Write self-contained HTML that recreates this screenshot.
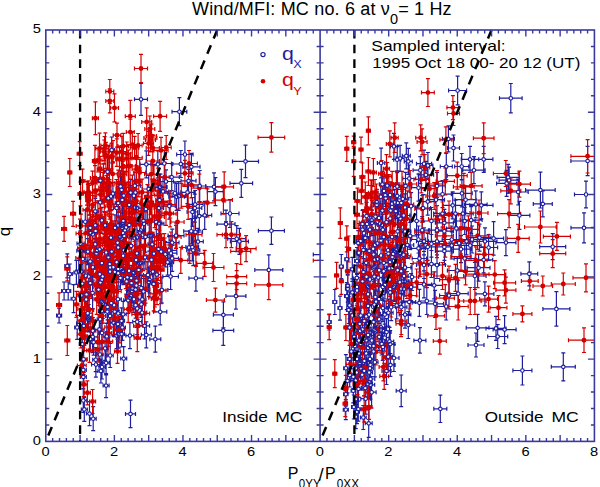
<!DOCTYPE html><html><head><meta charset="utf-8"><style>html,body{margin:0;padding:0;background:#fff;overflow:hidden}svg{display:block}</style></head><body><svg width="600" height="487" viewBox="0 0 600 487"><rect width="600" height="487" fill="#fff"/><defs><clipPath id="cl"><rect x="45.8" y="30.0" width="274.3" height="411.4"/></clipPath><clipPath id="cr"><rect x="320.1" y="30.0" width="274.3" height="411.4"/></clipPath></defs><g clip-path="url(#cl)"><path d="M141.0 83.3V115.3M139.0 83.3h4.0M139.0 115.3h4.0M134.5 99.3H147.5M134.5 97.3v4.0M147.5 97.3v4.0M179.4 97.7V125.7M177.4 97.7h4.0M177.4 125.7h4.0M172.0 111.7H186.8M172.0 109.7v4.0M186.8 109.7v4.0M107.6 157.7V185.7M105.6 157.7h4.0M105.6 185.7h4.0M104.6 171.7H110.6M104.6 169.7v4.0M110.6 169.7v4.0M110.9 183.4V209.4M108.9 183.4h4.0M108.9 209.4h4.0M107.9 196.4H113.9M107.9 194.4v4.0M113.9 194.4v4.0M111.7 137.0V163.0M109.7 137.0h4.0M109.7 163.0h4.0M108.7 150.0H114.7M108.7 148.0v4.0M114.7 148.0v4.0M184.9 141.0V168.0M182.9 141.0h4.0M182.9 168.0h4.0M176.7 154.5H193.1M176.7 152.5v4.0M193.1 152.5v4.0M146.3 150.8V177.8M144.3 150.8h4.0M144.3 177.8h4.0M140.0 164.3H152.6M140.0 162.3v4.0M152.6 162.3v4.0M164.3 150.0V177.0M162.3 150.0h4.0M162.3 177.0h4.0M157.1 163.5H171.5M157.1 161.5v4.0M171.5 161.5v4.0M180.8 150.5V177.5M178.8 150.5h4.0M178.8 177.5h4.0M172.8 164.0H188.8M172.8 162.0v4.0M188.8 162.0v4.0M191.4 153.3V180.3M189.4 153.3h4.0M189.4 180.3h4.0M182.8 166.8H200.0M182.8 164.8v4.0M200.0 164.8v4.0M171.7 163.6V190.6M169.7 163.6h4.0M169.7 190.6h4.0M164.1 177.1H179.3M164.1 175.1v4.0M179.3 175.1v4.0M159.4 173.8V200.8M157.4 173.8h4.0M157.4 200.8h4.0M152.4 187.3H166.4M152.4 185.3v4.0M166.4 185.3v4.0M148.7 175.5V202.5M146.7 175.5h4.0M146.7 202.5h4.0M142.3 189.0H155.1M142.3 187.0v4.0M155.1 187.0v4.0M134.8 172.2V199.2M132.8 172.2h4.0M132.8 199.2h4.0M129.1 185.7H140.5M129.1 183.7v4.0M140.5 183.7v4.0M176.6 183.3V210.3M174.6 183.3h4.0M174.6 210.3h4.0M168.8 196.8H184.4M168.8 194.8v4.0M184.4 194.8v4.0M157.8 150.8V177.8M155.8 150.8h4.0M155.8 177.8h4.0M150.9 164.3H164.7M150.9 162.3v4.0M164.7 162.3v4.0M245.5 145.1V177.7M243.5 145.1h4.0M243.5 177.7h4.0M232.5 161.4H258.5M232.5 159.4v4.0M258.5 159.4v4.0M241.3 169.3V197.3M239.3 169.3h4.0M239.3 197.3h4.0M230.0 183.3H252.6M230.0 181.3v4.0M252.6 181.3v4.0M214.0 172.8V200.8M212.0 172.8h4.0M212.0 200.8h4.0M206.0 186.8H222.0M206.0 184.8v4.0M222.0 184.8v4.0M215.4 177.6V205.6M213.4 177.6h4.0M213.4 205.6h4.0M207.4 191.6H223.4M207.4 189.6v4.0M223.4 189.6v4.0M194.8 194.1V222.1M192.8 194.1h4.0M192.8 222.1h4.0M187.8 208.1H201.8M187.8 206.1v4.0M201.8 206.1v4.0M199.3 202.1V230.1M197.3 202.1h4.0M197.3 230.1h4.0M192.3 216.1H206.3M192.3 214.1v4.0M206.3 214.1v4.0M204.7 201.3V229.3M202.7 201.3h4.0M202.7 229.3h4.0M197.7 215.3H211.7M197.7 213.3v4.0M211.7 213.3v4.0M230.0 199.5V227.5M228.0 199.5h4.0M228.0 227.5h4.0M221.0 213.5H239.0M221.0 211.5v4.0M239.0 211.5v4.0M226.0 210.1V238.1M224.0 210.1h4.0M224.0 238.1h4.0M217.0 224.1H235.0M217.0 222.1v4.0M235.0 222.1v4.0M271.4 217.0V244.4M269.4 217.0h4.0M269.4 244.4h4.0M258.4 230.7H284.4M258.4 228.7v4.0M284.4 228.7v4.0M268.8 254.9V284.9M266.8 254.9h4.0M266.8 284.9h4.0M254.8 269.9H282.8M254.8 267.9v4.0M282.8 267.9v4.0M195.9 265.2V291.2M193.9 265.2h4.0M193.9 291.2h4.0M188.9 278.2H202.9M188.9 276.2v4.0M202.9 276.2v4.0M235.9 283.1V309.1M233.9 283.1h4.0M233.9 309.1h4.0M225.9 296.1H245.9M225.9 294.1v4.0M245.9 294.1v4.0M223.4 301.8V327.8M221.4 301.8h4.0M221.4 327.8h4.0M213.4 314.8H233.4M213.4 312.8v4.0M233.4 312.8v4.0M236.7 225.7V251.7M234.7 225.7h4.0M234.7 251.7h4.0M227.7 238.7H245.7M227.7 236.7v4.0M245.7 236.7v4.0M239.4 228.4V254.4M237.4 228.4h4.0M237.4 254.4h4.0M230.4 241.4H248.4M230.4 239.4v4.0M248.4 239.4v4.0M223.3 315.4V345.4M221.3 315.4h4.0M221.3 345.4h4.0M212.9 330.4H233.7M212.9 328.4v4.0M233.7 328.4v4.0M189.0 234.5V260.5M187.0 234.5h4.0M187.0 260.5h4.0M182.0 247.5H196.0M182.0 245.5v4.0M196.0 245.5v4.0M169.3 193.1V219.1M167.3 193.1h4.0M167.3 219.1h4.0M163.3 206.1H175.3M163.3 204.1v4.0M175.3 204.1v4.0M170.9 240.2V266.2M168.9 240.2h4.0M168.9 266.2h4.0M164.9 253.2H176.9M164.9 251.2v4.0M176.9 251.2v4.0M167.6 249.2V275.2M165.6 249.2h4.0M165.6 275.2h4.0M161.6 262.2H173.6M161.6 260.2v4.0M173.6 260.2v4.0M67.3 253.9V277.9M65.3 253.9h4.0M65.3 277.9h4.0M64.8 265.9H69.8M64.8 263.9v4.0M69.8 263.9v4.0M100.2 189.3V215.3M98.2 189.3h4.0M98.2 215.3h4.0M97.2 202.3H103.2M97.2 200.3v4.0M103.2 200.3v4.0M108.4 185.2V211.2M106.4 185.2h4.0M106.4 211.2h4.0M105.4 198.2H111.4M105.4 196.2v4.0M111.4 196.2v4.0M118.2 190.1V216.1M116.2 190.1h4.0M116.2 216.1h4.0M115.2 203.1H121.2M115.2 201.1v4.0M121.2 201.1v4.0M116.6 195.1V221.1M114.6 195.1h4.0M114.6 221.1h4.0M113.6 208.1H119.6M113.6 206.1v4.0M119.6 206.1v4.0M122.4 186.9V212.9M120.4 186.9h4.0M120.4 212.9h4.0M119.4 199.9H125.4M119.4 197.9v4.0M125.4 197.9v4.0M95.3 198.3V224.3M93.3 198.3h4.0M93.3 224.3h4.0M92.3 211.3H98.3M92.3 209.3v4.0M98.3 209.3v4.0M101.8 207.4V233.4M99.8 207.4h4.0M99.8 233.4h4.0M98.8 220.4H104.8M98.8 218.4v4.0M104.8 218.4v4.0M90.3 214.8V240.8M88.3 214.8h4.0M88.3 240.8h4.0M87.3 227.8H93.3M87.3 225.8v4.0M93.3 225.8v4.0M95.3 212.3V238.3M93.3 212.3h4.0M93.3 238.3h4.0M92.3 225.3H98.3M92.3 223.3v4.0M98.3 223.3v4.0M105.1 212.3V238.3M103.1 212.3h4.0M103.1 238.3h4.0M102.1 225.3H108.1M102.1 223.3v4.0M108.1 223.3v4.0M115.0 214.8V240.8M113.0 214.8h4.0M113.0 240.8h4.0M112.0 227.8H118.0M112.0 225.8v4.0M118.0 225.8v4.0M118.2 212.3V238.3M116.2 212.3h4.0M116.2 238.3h4.0M115.2 225.3H121.2M115.2 223.3v4.0M121.2 223.3v4.0M123.2 213.1V239.1M121.2 213.1h4.0M121.2 239.1h4.0M120.2 226.1H126.2M120.2 224.1v4.0M126.2 224.1v4.0M92.8 221.3V247.3M90.8 221.3h4.0M90.8 247.3h4.0M89.8 234.3H95.8M89.8 232.3v4.0M95.8 232.3v4.0M95.3 231.2V257.2M93.3 231.2h4.0M93.3 257.2h4.0M92.3 244.2H98.3M92.3 242.2v4.0M98.3 242.2v4.0M110.9 224.6V250.6M108.9 224.6h4.0M108.9 250.6h4.0M107.9 237.6H113.9M107.9 235.6v4.0M113.9 235.6v4.0M121.5 225.4V251.4M119.5 225.4h4.0M119.5 251.4h4.0M118.5 238.4H124.5M118.5 236.4v4.0M124.5 236.4v4.0M87.9 238.6V264.6M85.9 238.6h4.0M85.9 264.6h4.0M84.9 251.6H90.9M84.9 249.6v4.0M90.9 249.6v4.0M96.9 237.8V263.8M94.9 237.8h4.0M94.9 263.8h4.0M93.9 250.8H99.9M93.9 248.8v4.0M99.9 248.8v4.0M111.7 238.6V264.6M109.7 238.6h4.0M109.7 264.6h4.0M108.7 251.6H114.7M108.7 249.6v4.0M114.7 249.6v4.0M118.2 234.5V260.5M116.2 234.5h4.0M116.2 260.5h4.0M115.2 247.5H121.2M115.2 245.5v4.0M121.2 245.5v4.0M82.9 246.0V272.0M80.9 246.0h4.0M80.9 272.0h4.0M79.9 259.0H85.9M79.9 257.0v4.0M85.9 257.0v4.0M90.3 248.4V274.4M88.3 248.4h4.0M88.3 274.4h4.0M87.3 261.4H93.3M87.3 259.4v4.0M93.3 259.4v4.0M101.8 250.1V276.1M99.8 250.1h4.0M99.8 276.1h4.0M98.8 263.1H104.8M98.8 261.1v4.0M104.8 261.1v4.0M116.6 249.2V275.2M114.6 249.2h4.0M114.6 275.2h4.0M113.6 262.2H119.6M113.6 260.2v4.0M119.6 260.2v4.0M92.8 254.2V280.2M90.8 254.2h4.0M90.8 280.2h4.0M89.8 267.2H95.8M89.8 265.2v4.0M95.8 265.2v4.0M113.3 254.2V280.2M111.3 254.2h4.0M111.3 280.2h4.0M110.3 267.2H116.3M110.3 265.2v4.0M116.3 265.2v4.0M123.2 242.7V268.7M121.2 242.7h4.0M121.2 268.7h4.0M120.2 255.7H126.2M120.2 253.7v4.0M126.2 253.7v4.0M108.4 244.3V270.3M106.4 244.3h4.0M106.4 270.3h4.0M105.4 257.3H111.4M105.4 255.3v4.0M111.4 255.3v4.0M69.8 264.0V284.0M67.8 264.0h4.0M67.8 284.0h4.0M67.3 274.0H72.3M67.3 272.0v4.0M72.3 272.0v4.0M64.1 282.0V300.0M62.1 282.0h4.0M62.1 300.0h4.0M61.6 291.0H66.6M61.6 289.0v4.0M66.6 289.0v4.0M68.2 282.0V300.0M66.2 282.0h4.0M66.2 300.0h4.0M65.7 291.0H70.7M65.7 289.0v4.0M70.7 289.0v4.0M73.6 284.7V312.7M71.6 284.7h4.0M71.6 312.7h4.0M71.1 298.7H76.1M71.1 296.7v4.0M76.1 296.7v4.0M59.1 308.2V323.0M57.1 308.2h4.0M57.1 323.0h4.0M56.6 315.6H61.6M56.6 313.6v4.0M61.6 313.6v4.0M77.2 315.4V339.4M75.2 315.4h4.0M75.2 339.4h4.0M74.7 327.4H79.7M74.7 325.4v4.0M79.7 325.4v4.0M76.4 260.4V284.4M74.4 260.4h4.0M74.4 284.4h4.0M73.9 272.4H78.9M73.9 270.4v4.0M78.9 270.4v4.0M78.8 258.6V284.6M76.8 258.6h4.0M76.8 284.6h4.0M75.8 271.6H81.8M75.8 269.6v4.0M81.8 269.6v4.0M81.3 258.6V284.6M79.3 258.6h4.0M79.3 284.6h4.0M78.3 271.6H84.3M78.3 269.6v4.0M84.3 269.6v4.0M88.7 263.5V289.5M86.7 263.5h4.0M86.7 289.5h4.0M85.7 276.5H91.7M85.7 274.5v4.0M91.7 274.5v4.0M101.8 266.8V292.8M99.8 266.8h4.0M99.8 292.8h4.0M98.8 279.8H104.8M98.8 277.8v4.0M104.8 277.8v4.0M102.7 263.5V289.5M100.7 263.5h4.0M100.7 289.5h4.0M99.7 276.5H105.7M99.7 274.5v4.0M105.7 274.5v4.0M110.0 258.6V284.6M108.0 258.6h4.0M108.0 284.6h4.0M107.0 271.6H113.0M107.0 269.6v4.0M113.0 269.6v4.0M118.2 260.2V286.2M116.2 260.2h4.0M116.2 286.2h4.0M115.2 273.2H121.2M115.2 271.2v4.0M121.2 271.2v4.0M121.5 256.1V282.1M119.5 256.1h4.0M119.5 282.1h4.0M118.5 269.1H124.5M118.5 267.1v4.0M124.5 267.1v4.0M90.3 270.1V296.1M88.3 270.1h4.0M88.3 296.1h4.0M87.3 283.1H93.3M87.3 281.1v4.0M93.3 281.1v4.0M98.5 276.6V302.6M96.5 276.6h4.0M96.5 302.6h4.0M95.5 289.6H101.5M95.5 287.6v4.0M101.5 287.6v4.0M81.3 282.4V308.4M79.3 282.4h4.0M79.3 308.4h4.0M78.3 295.4H84.3M78.3 293.4v4.0M84.3 293.4v4.0M86.2 286.5V312.5M84.2 286.5h4.0M84.2 312.5h4.0M83.2 299.5H89.2M83.2 297.5v4.0M89.2 297.5v4.0M101.8 288.9V314.9M99.8 288.9h4.0M99.8 314.9h4.0M98.8 301.9H104.8M98.8 299.9v4.0M104.8 299.9v4.0M107.6 293.9V319.9M105.6 293.9h4.0M105.6 319.9h4.0M104.6 306.9H110.6M104.6 304.9v4.0M110.6 304.9v4.0M114.1 292.2V318.2M112.1 292.2h4.0M112.1 318.2h4.0M111.1 305.2H117.1M111.1 303.2v4.0M117.1 303.2v4.0M118.2 300.4V326.4M116.2 300.4h4.0M116.2 326.4h4.0M115.2 313.4H121.2M115.2 311.4v4.0M121.2 311.4v4.0M88.7 304.5V330.5M86.7 304.5h4.0M86.7 330.5h4.0M85.7 317.5H91.7M85.7 315.5v4.0M91.7 315.5v4.0M100.2 306.2V332.2M98.2 306.2h4.0M98.2 332.2h4.0M97.2 319.2H103.2M97.2 317.2v4.0M103.2 317.2v4.0M110.0 302.9V328.9M108.0 302.9h4.0M108.0 328.9h4.0M107.0 315.9H113.0M107.0 313.9v4.0M113.0 313.9v4.0M113.3 309.5V335.5M111.3 309.5h4.0M111.3 335.5h4.0M110.3 322.5H116.3M110.3 320.5v4.0M116.3 320.5v4.0M122.4 314.4V340.4M120.4 314.4h4.0M120.4 340.4h4.0M119.4 327.4H125.4M119.4 325.4v4.0M125.4 325.4v4.0M83.8 312.8V338.8M81.8 312.8h4.0M81.8 338.8h4.0M80.8 325.8H86.8M80.8 323.8v4.0M86.8 323.8v4.0M92.8 317.7V343.7M90.8 317.7h4.0M90.8 343.7h4.0M89.8 330.7H95.8M89.8 328.7v4.0M95.8 328.7v4.0M106.8 323.4V349.4M104.8 323.4h4.0M104.8 349.4h4.0M103.8 336.4H109.8M103.8 334.4v4.0M109.8 334.4v4.0M116.6 322.6V348.6M114.6 322.6h4.0M114.6 348.6h4.0M113.6 335.6H119.6M113.6 333.6v4.0M119.6 333.6v4.0M121.5 321.0V347.0M119.5 321.0h4.0M119.5 347.0h4.0M118.5 334.0H124.5M118.5 332.0v4.0M124.5 332.0v4.0M93.6 329.2V355.2M91.6 329.2h4.0M91.6 355.2h4.0M90.6 342.2H96.6M90.6 340.2v4.0M96.6 340.2v4.0M123.2 301.3V327.3M121.2 301.3h4.0M121.2 327.3h4.0M120.2 314.3H126.2M120.2 312.3v4.0M126.2 312.3v4.0M121.5 307.8V333.8M119.5 307.8h4.0M119.5 333.8h4.0M118.5 320.8H124.5M118.5 318.8v4.0M124.5 318.8v4.0M82.3 332.1V356.1M80.3 332.1h4.0M80.3 356.1h4.0M79.3 344.1H85.3M79.3 342.1v4.0M85.3 342.1v4.0M83.3 358.0V382.0M81.3 358.0h4.0M81.3 382.0h4.0M80.3 370.0H86.3M80.3 368.0v4.0M86.3 368.0v4.0M83.3 364.9V388.9M81.3 364.9h4.0M81.3 388.9h4.0M80.3 376.9H86.3M80.3 374.9v4.0M86.3 374.9v4.0M83.3 388.5V412.5M81.3 388.5h4.0M81.3 412.5h4.0M80.3 400.5H86.3M80.3 398.5v4.0M86.3 398.5v4.0M84.3 397.4V421.4M82.3 397.4h4.0M82.3 421.4h4.0M81.3 409.4H87.3M81.3 407.4v4.0M87.3 407.4v4.0M89.5 401.6V425.6M87.5 401.6h4.0M87.5 425.6h4.0M86.5 413.6H92.5M86.5 411.6v4.0M92.5 411.6v4.0M93.2 406.7V430.7M91.2 406.7h4.0M91.2 430.7h4.0M90.2 418.7H96.2M90.2 416.7v4.0M96.2 416.7v4.0M106.1 373.6V397.6M104.1 373.6h4.0M104.1 397.6h4.0M103.1 385.6H109.1M103.1 383.6v4.0M109.1 383.6v4.0M100.9 359.0V383.0M98.9 359.0h4.0M98.9 383.0h4.0M97.9 371.0H103.9M97.9 369.0v4.0M103.9 369.0v4.0M102.0 355.0V379.0M100.0 355.0h4.0M100.0 379.0h4.0M99.0 367.0H105.0M99.0 365.0v4.0M105.0 365.0v4.0M95.7 347.7V371.7M93.7 347.7h4.0M93.7 371.7h4.0M92.7 359.7H98.7M92.7 357.7v4.0M98.7 357.7v4.0M99.9 342.5V366.5M97.9 342.5h4.0M97.9 366.5h4.0M96.9 354.5H102.9M96.9 352.5v4.0M102.9 352.5v4.0M106.1 350.8V374.8M104.1 350.8h4.0M104.1 374.8h4.0M103.1 362.8H109.1M103.1 360.8v4.0M109.1 360.8v4.0M110.2 343.5V367.5M108.2 343.5h4.0M108.2 367.5h4.0M107.2 355.5H113.2M107.2 353.5v4.0M113.2 353.5v4.0M105.1 336.3V360.3M103.1 336.3h4.0M103.1 360.3h4.0M102.1 348.3H108.1M102.1 346.3v4.0M108.1 346.3v4.0M123.7 346.6V370.6M121.7 346.6h4.0M121.7 370.6h4.0M120.7 358.6H126.7M120.7 356.6v4.0M126.7 356.6v4.0M170.6 263.5V289.5M168.6 263.5h4.0M168.6 289.5h4.0M162.8 276.5H178.4M162.8 274.5v4.0M178.4 274.5v4.0M161.9 277.0V303.0M159.9 277.0h4.0M159.9 303.0h4.0M155.9 290.0H167.9M155.9 288.0v4.0M167.9 288.0v4.0M160.2 298.8V324.8M158.2 298.8h4.0M158.2 324.8h4.0M153.6 311.8H166.8M153.6 309.8v4.0M166.8 309.8v4.0M129.9 322.6V348.6M127.9 322.6h4.0M127.9 348.6h4.0M125.9 335.6H133.9M125.9 333.6v4.0M133.9 333.6v4.0M137.2 308.7V334.7M135.2 308.7h4.0M135.2 334.7h4.0M132.7 321.7H141.7M132.7 319.7v4.0M141.7 319.7v4.0M144.6 312.8V338.8M142.6 312.8h4.0M142.6 338.8h4.0M139.6 325.8H149.6M139.6 323.8v4.0M149.6 323.8v4.0M146.3 321.8V347.8M144.3 321.8h4.0M144.3 347.8h4.0M141.3 334.8H151.3M141.3 332.8v4.0M151.3 332.8v4.0M155.3 326.2V352.2M153.3 326.2h4.0M153.3 352.2h4.0M149.8 339.2H160.8M149.8 337.2v4.0M160.8 337.2v4.0M123.3 258.6V284.6M121.3 258.6h4.0M121.3 284.6h4.0M118.8 271.6H127.8M118.8 269.6v4.0M127.8 269.6v4.0M129.0 257.7V283.7M127.0 257.7h4.0M127.0 283.7h4.0M124.5 270.7H133.5M124.5 268.7v4.0M133.5 268.7v4.0M133.1 260.2V286.2M131.1 260.2h4.0M131.1 286.2h4.0M128.6 273.2H137.6M128.6 271.2v4.0M137.6 271.2v4.0M127.4 264.3V290.3M125.4 264.3h4.0M125.4 290.3h4.0M122.9 277.3H131.9M122.9 275.3v4.0M131.9 275.3v4.0M126.6 268.4V294.4M124.6 268.4h4.0M124.6 294.4h4.0M122.1 281.4H131.1M122.1 279.4v4.0M131.1 279.4v4.0M131.5 270.1V296.1M129.5 270.1h4.0M129.5 296.1h4.0M127.0 283.1H136.0M127.0 281.1v4.0M136.0 281.1v4.0M136.4 272.5V298.5M134.4 272.5h4.0M134.4 298.5h4.0M131.9 285.5H140.9M131.9 283.5v4.0M140.9 283.5v4.0M135.6 276.6V302.6M133.6 276.6h4.0M133.6 302.6h4.0M131.1 289.6H140.1M131.1 287.6v4.0M140.1 287.6v4.0M141.3 275.0V301.0M139.3 275.0h4.0M139.3 301.0h4.0M136.8 288.0H145.8M136.8 286.0v4.0M145.8 286.0v4.0M147.9 261.9V287.9M145.9 261.9h4.0M145.9 287.9h4.0M143.4 274.9H152.4M143.4 272.9v4.0M152.4 272.9v4.0M152.8 258.6V284.6M150.8 258.6h4.0M150.8 284.6h4.0M148.3 271.6H157.3M148.3 269.6v4.0M157.3 269.6v4.0M149.6 266.8V292.8M147.6 266.8h4.0M147.6 292.8h4.0M145.1 279.8H154.1M145.1 277.8v4.0M154.1 277.8v4.0M153.7 270.9V296.9M151.7 270.9h4.0M151.7 296.9h4.0M149.2 283.9H158.2M149.2 281.9v4.0M158.2 281.9v4.0M128.2 287.3V313.3M126.2 287.3h4.0M126.2 313.3h4.0M123.7 300.3H132.7M123.7 298.3v4.0M132.7 298.3v4.0M135.6 292.2V318.2M133.6 292.2h4.0M133.6 318.2h4.0M131.1 305.2H140.1M131.1 303.2v4.0M140.1 303.2v4.0M141.3 291.4V317.4M139.3 291.4h4.0M139.3 317.4h4.0M136.8 304.4H145.8M136.8 302.4v4.0M145.8 302.4v4.0M137.2 295.5V321.5M135.2 295.5h4.0M135.2 321.5h4.0M132.7 308.5H141.7M132.7 306.5v4.0M141.7 306.5v4.0M142.2 299.6V325.6M140.2 299.6h4.0M140.2 325.6h4.0M137.7 312.6H146.7M137.7 310.6v4.0M146.7 310.6v4.0M129.9 284.8V310.8M127.9 284.8h4.0M127.9 310.8h4.0M125.4 297.8H134.4M125.4 295.8v4.0M134.4 295.8v4.0M130.5 400.2V427.6M128.5 400.2h4.0M128.5 427.6h4.0M125.5 413.9H135.5M125.5 411.9v4.0M135.5 411.9v4.0M329.8 240.6V268.6M327.8 240.6h4.0M327.8 268.6h4.0M313.3 254.6H346.3M313.3 252.6v4.0M346.3 252.6v4.0M100.4 167.0V194.1M98.4 167.0h4.0M98.4 194.1h4.0M97.6 180.6H103.2M97.6 178.6v4.0M103.2 178.6v4.0M112.9 182.4V204.8M110.9 182.4h4.0M110.9 204.8h4.0M109.6 193.6H116.2M109.6 191.6v4.0M116.2 191.6v4.0M145.9 195.3V223.0M143.9 195.3h4.0M143.9 223.0h4.0M141.3 209.1H150.4M141.3 207.1v4.0M150.4 207.1v4.0M159.6 185.8V214.4M157.6 185.8h4.0M157.6 214.4h4.0M155.8 200.1H163.5M155.8 198.1v4.0M163.5 198.1v4.0M158.9 196.3V219.9M156.9 196.3h4.0M156.9 219.9h4.0M154.1 208.1H163.6M154.1 206.1v4.0M163.6 206.1v4.0M136.9 193.0V223.3M134.9 193.0h4.0M134.9 223.3h4.0M132.5 208.1H141.2M132.5 206.1v4.0M141.2 206.1v4.0M130.7 179.6V205.6M128.7 179.6h4.0M128.7 205.6h4.0M127.1 192.6H134.2M127.1 190.6v4.0M134.2 190.6v4.0M123.7 180.9V210.3M121.7 180.9h4.0M121.7 210.3h4.0M119.6 195.6H127.8M119.6 193.6v4.0M127.8 193.6v4.0M129.2 193.0V216.6M127.2 193.0h4.0M127.2 216.6h4.0M124.8 204.8H133.6M124.8 202.8v4.0M133.6 202.8v4.0M120.6 170.8V202.0M118.6 170.8h4.0M118.6 202.0h4.0M116.4 186.4H124.8M116.4 184.4v4.0M124.8 184.4v4.0M135.5 179.9V205.1M133.5 179.9h4.0M133.5 205.1h4.0M131.4 192.5H139.6M131.4 190.5v4.0M139.6 190.5v4.0M121.6 176.5V203.1M119.6 176.5h4.0M119.6 203.1h4.0M117.6 189.8H125.6M117.6 187.8v4.0M125.6 187.8v4.0M133.9 180.8V210.5M131.9 180.8h4.0M131.9 210.5h4.0M131.0 195.7H136.7M131.0 193.7v4.0M136.7 193.7v4.0M135.0 192.1V223.1M133.0 192.1h4.0M133.0 223.1h4.0M131.0 207.6H138.9M131.0 205.6v4.0M138.9 205.6v4.0M80.5 230.9V256.2M78.5 230.9h4.0M78.5 256.2h4.0M77.0 243.6H84.1M77.0 241.6v4.0M84.1 241.6v4.0M95.6 219.0V242.8M93.6 219.0h4.0M93.6 242.8h4.0M92.1 230.9H99.1M92.1 228.9v4.0M99.1 228.9v4.0M108.5 244.5V270.2M106.5 244.5h4.0M106.5 270.2h4.0M103.7 257.3H113.3M103.7 255.3v4.0M113.3 255.3v4.0M80.5 237.0V264.5M78.5 237.0h4.0M78.5 264.5h4.0M76.8 250.8H84.1M76.8 248.8v4.0M84.1 248.8v4.0M106.2 239.3V265.6M104.2 239.3h4.0M104.2 265.6h4.0M102.4 252.5H110.0M102.4 250.5v4.0M110.0 250.5v4.0M85.3 209.9V233.4M83.3 209.9h4.0M83.3 233.4h4.0M82.3 221.7H88.2M82.3 219.7v4.0M88.2 219.7v4.0M117.6 230.1V255.3M115.6 230.1h4.0M115.6 255.3h4.0M115.1 242.7H120.2M115.1 240.7v4.0M120.2 240.7v4.0M96.5 239.6V267.1M94.5 239.6h4.0M94.5 267.1h4.0M92.9 253.4H100.0M92.9 251.4v4.0M100.0 251.4v4.0M90.6 218.0V247.8M88.6 218.0h4.0M88.6 247.8h4.0M87.9 232.9H93.3M87.9 230.9v4.0M93.3 230.9v4.0M99.6 237.8V260.7M97.6 237.8h4.0M97.6 260.7h4.0M95.6 249.3H103.5M95.6 247.3v4.0M103.5 247.3v4.0M90.8 220.1V245.5M88.8 220.1h4.0M88.8 245.5h4.0M86.3 232.8H95.2M86.3 230.8v4.0M95.2 230.8v4.0M124.9 218.1V242.3M122.9 218.1h4.0M122.9 242.3h4.0M120.2 230.2H129.5M120.2 228.2v4.0M129.5 228.2v4.0M151.5 245.1V274.2M149.5 245.1h4.0M149.5 274.2h4.0M149.0 259.7H154.0M149.0 257.7v4.0M154.0 257.7v4.0M126.0 211.8V243.0M124.0 211.8h4.0M124.0 243.0h4.0M122.8 227.4H129.3M122.8 225.4v4.0M129.3 225.4v4.0M159.4 212.2V235.1M157.4 212.2h4.0M157.4 235.1h4.0M155.0 223.7H163.9M155.0 221.7v4.0M163.9 221.7v4.0M136.1 248.4V271.5M134.1 248.4h4.0M134.1 271.5h4.0M131.4 260.0H140.8M131.4 258.0v4.0M140.8 258.0v4.0M145.5 221.5V252.1M143.5 221.5h4.0M143.5 252.1h4.0M141.3 236.8H149.7M141.3 234.8v4.0M149.7 234.8v4.0M145.1 245.5V269.1M143.1 245.5h4.0M143.1 269.1h4.0M140.4 257.3H149.8M140.4 255.3v4.0M149.8 255.3v4.0M122.6 213.4V242.4M120.6 213.4h4.0M120.6 242.4h4.0M118.8 227.9H126.3M118.8 225.9v4.0M126.3 225.9v4.0M158.4 235.2V263.2M156.4 235.2h4.0M156.4 263.2h4.0M154.3 249.2H162.6M154.3 247.2v4.0M162.6 247.2v4.0M149.4 220.8V251.2M147.4 220.8h4.0M147.4 251.2h4.0M145.3 236.0H153.6M145.3 234.0v4.0M153.6 234.0v4.0M158.5 237.4V260.1M156.5 237.4h4.0M156.5 260.1h4.0M154.4 248.7H162.7M154.4 246.7v4.0M162.7 246.7v4.0M134.8 226.2V250.2M132.8 226.2h4.0M132.8 250.2h4.0M131.5 238.2H138.0M131.5 236.2v4.0M138.0 236.2v4.0M136.9 237.7V269.0M134.9 237.7h4.0M134.9 269.0h4.0M133.7 253.3H140.0M133.7 251.3v4.0M140.0 251.3v4.0M120.3 222.1V251.7M118.3 222.1h4.0M118.3 251.7h4.0M116.0 236.9H124.6M116.0 234.9v4.0M124.6 234.9v4.0M120.5 210.8V238.4M118.5 210.8h4.0M118.5 238.4h4.0M117.9 224.6H123.2M117.9 222.6v4.0M123.2 222.6v4.0M124.3 224.3V247.4M122.3 224.3h4.0M122.3 247.4h4.0M121.1 235.9H127.5M121.1 233.9v4.0M127.5 233.9v4.0M136.9 224.7V250.1M134.9 224.7h4.0M134.9 250.1h4.0M132.9 237.4H140.8M132.9 235.4v4.0M140.8 235.4v4.0M123.1 222.1V244.2M121.1 222.1h4.0M121.1 244.2h4.0M118.9 233.2H127.3M118.9 231.2v4.0M127.3 231.2v4.0M143.5 208.8V232.8M141.5 208.8h4.0M141.5 232.8h4.0M138.8 220.8H148.1M138.8 218.8v4.0M148.1 218.8v4.0M144.0 208.7V238.6M142.0 208.7h4.0M142.0 238.6h4.0M140.1 223.7H147.9M140.1 221.7v4.0M147.9 221.7v4.0M161.2 240.5V262.6M159.2 240.5h4.0M159.2 262.6h4.0M156.4 251.6H165.9M156.4 249.6v4.0M165.9 249.6v4.0M156.3 206.0V237.9M154.3 206.0h4.0M154.3 237.9h4.0M151.6 222.0H160.9M151.6 220.0v4.0M160.9 220.0v4.0M152.3 232.8V255.7M150.3 232.8h4.0M150.3 255.7h4.0M148.0 244.3H156.6M148.0 242.3v4.0M156.6 242.3v4.0M158.9 211.1V235.8M156.9 211.1h4.0M156.9 235.8h4.0M155.8 223.5H162.0M155.8 221.5v4.0M162.0 221.5v4.0M150.9 222.2V249.3M148.9 222.2h4.0M148.9 249.3h4.0M147.5 235.7H154.4M147.5 233.7v4.0M154.4 233.7v4.0M153.9 241.2V266.0M151.9 241.2h4.0M151.9 266.0h4.0M149.3 253.6H158.5M149.3 251.6v4.0M158.5 251.6v4.0M122.4 209.0V238.5M120.4 209.0h4.0M120.4 238.5h4.0M119.6 223.8H125.1M119.6 221.8v4.0M125.1 221.8v4.0M123.8 235.8V264.7M121.8 235.8h4.0M121.8 264.7h4.0M121.3 250.3H126.3M121.3 248.3v4.0M126.3 248.3v4.0M131.1 231.5V260.1M129.1 231.5h4.0M129.1 260.1h4.0M126.7 245.8H135.5M126.7 243.8v4.0M135.5 243.8v4.0M123.3 205.3V236.4M121.3 205.3h4.0M121.3 236.4h4.0M119.9 220.8H126.8M119.9 218.8v4.0M126.8 218.8v4.0M140.9 215.4V245.6M138.9 215.4h4.0M138.9 245.6h4.0M137.2 230.5H144.6M137.2 228.5v4.0M144.6 228.5v4.0M129.3 211.8V238.1M127.3 211.8h4.0M127.3 238.1h4.0M124.5 224.9H134.1M124.5 222.9v4.0M134.1 222.9v4.0M140.0 217.1V247.7M138.0 217.1h4.0M138.0 247.7h4.0M136.9 232.4H143.1M136.9 230.4v4.0M143.1 230.4v4.0M82.3 272.5V294.7M80.3 272.5h4.0M80.3 294.7h4.0M78.5 283.6H86.0M78.5 281.6v4.0M86.0 281.6v4.0M92.6 277.2V308.5M90.6 277.2h4.0M90.6 308.5h4.0M88.5 292.8H96.6M88.5 290.8v4.0M96.6 290.8v4.0M110.2 256.2V278.7M108.2 256.2h4.0M108.2 278.7h4.0M106.0 267.4H114.5M106.0 265.4v4.0M114.5 265.4v4.0M114.8 260.5V283.0M112.8 260.5h4.0M112.8 283.0h4.0M109.8 271.8H119.7M109.8 269.8v4.0M119.7 269.8v4.0M109.7 249.0V279.1M107.7 249.0h4.0M107.7 279.1h4.0M105.0 264.1H114.4M105.0 262.1v4.0M114.4 262.1v4.0M100.5 269.7V295.3M98.5 269.7h4.0M98.5 295.3h4.0M97.4 282.5H103.5M97.4 280.5v4.0M103.5 280.5v4.0M85.9 261.6V289.9M83.9 261.6h4.0M83.9 289.9h4.0M83.1 275.7H88.8M83.1 273.7v4.0M88.8 273.7v4.0M99.7 258.5V290.0M97.7 258.5h4.0M97.7 290.0h4.0M96.4 274.2H103.1M96.4 272.2v4.0M103.1 272.2v4.0M117.9 287.8V310.6M115.9 287.8h4.0M115.9 310.6h4.0M114.5 299.2H121.3M114.5 297.2v4.0M121.3 297.2v4.0M86.5 282.7V306.2M84.5 282.7h4.0M84.5 306.2h4.0M83.1 294.4H89.9M83.1 292.4v4.0M89.9 292.4v4.0M118.2 255.9V282.0M116.2 255.9h4.0M116.2 282.0h4.0M114.3 268.9H122.1M114.3 266.9v4.0M122.1 266.9v4.0M136.5 269.4V291.8M134.5 269.4h4.0M134.5 291.8h4.0M133.5 280.6H139.6M133.5 278.6v4.0M139.6 278.6v4.0M133.9 285.9V312.4M131.9 285.9h4.0M131.9 312.4h4.0M129.9 299.2H137.8M129.9 297.2v4.0M137.8 297.2v4.0M132.4 274.6V302.7M130.4 274.6h4.0M130.4 302.7h4.0M129.5 288.7H135.2M129.5 286.7v4.0M135.2 286.7v4.0M141.0 250.0V275.4M139.0 250.0h4.0M139.0 275.4h4.0M137.2 262.7H144.7M137.2 260.7v4.0M144.7 260.7v4.0M120.4 266.4V289.5M118.4 266.4h4.0M118.4 289.5h4.0M117.4 278.0H123.4M117.4 276.0v4.0M123.4 276.0v4.0M148.8 267.6V296.7M146.8 267.6h4.0M146.8 296.7h4.0M145.4 282.1H152.3M145.4 280.1v4.0M152.3 280.1v4.0M156.8 259.2V290.1M154.8 259.2h4.0M154.8 290.1h4.0M153.0 274.6H160.6M153.0 272.6v4.0M160.6 272.6v4.0M131.2 265.3V290.9M129.2 265.3h4.0M129.2 290.9h4.0M127.5 278.1H134.9M127.5 276.1v4.0M134.9 276.1v4.0M143.5 278.4V304.6M141.5 278.4h4.0M141.5 304.6h4.0M138.9 291.5H148.2M138.9 289.5v4.0M148.2 289.5v4.0M131.9 278.3V303.1M129.9 278.3h4.0M129.9 303.1h4.0M127.6 290.7H136.2M127.6 288.7v4.0M136.2 288.7v4.0M138.6 257.8V281.9M136.6 257.8h4.0M136.6 281.9h4.0M134.8 269.9H142.4M134.8 267.9v4.0M142.4 267.9v4.0M123.0 258.1V283.1M121.0 258.1h4.0M121.0 283.1h4.0M120.3 270.6H125.7M120.3 268.6v4.0M125.7 268.6v4.0M133.8 257.6V287.2M131.8 257.6h4.0M131.8 287.2h4.0M129.0 272.4H138.6M129.0 270.4v4.0M138.6 270.4v4.0M131.0 285.1V307.3M129.0 285.1h4.0M129.0 307.3h4.0M127.3 296.2H134.7M127.3 294.2v4.0M134.7 294.2v4.0M139.7 247.6V279.2M137.7 247.6h4.0M137.7 279.2h4.0M136.5 263.4H142.9M136.5 261.4v4.0M142.9 261.4v4.0M142.3 286.7V312.1M140.3 286.7h4.0M140.3 312.1h4.0M138.7 299.4H145.9M138.7 297.4v4.0M145.9 297.4v4.0M80.9 311.4V335.2M78.9 311.4h4.0M78.9 335.2h4.0M76.6 323.3H85.2M76.6 321.3v4.0M85.2 321.3v4.0M102.8 288.3V318.5M100.8 288.3h4.0M100.8 318.5h4.0M99.2 303.4H106.5M99.2 301.4v4.0M106.5 301.4v4.0M87.6 306.2V330.9M85.6 306.2h4.0M85.6 330.9h4.0M82.8 318.6H92.3M82.8 316.6v4.0M92.3 316.6v4.0M111.3 288.2V318.0M109.3 288.2h4.0M109.3 318.0h4.0M108.1 303.1H114.5M108.1 301.1v4.0M114.5 301.1v4.0M114.7 299.0V324.3M112.7 299.0h4.0M112.7 324.3h4.0M111.2 311.6H118.2M111.2 309.6v4.0M118.2 309.6v4.0M87.7 299.3V327.1M85.7 299.3h4.0M85.7 327.1h4.0M83.1 313.2H92.3M83.1 311.2v4.0M92.3 311.2v4.0M113.7 309.1V336.6M111.7 309.1h4.0M111.7 336.6h4.0M109.6 322.8H117.9M109.6 320.8v4.0M117.9 320.8v4.0M88.5 307.5V331.8M86.5 307.5h4.0M86.5 331.8h4.0M85.1 319.6H91.9M85.1 317.6v4.0M91.9 317.6v4.0M92.6 321.0V352.6M90.6 321.0h4.0M90.6 352.6h4.0M87.7 336.8H97.5M87.7 334.8v4.0M97.5 334.8v4.0M101.8 298.5V323.5M99.8 298.5h4.0M99.8 323.5h4.0M98.4 311.0H105.2M98.4 309.0v4.0M105.2 309.0v4.0M118.5 320.9V348.1M116.5 320.9h4.0M116.5 348.1h4.0M114.0 334.5H123.0M114.0 332.5v4.0M123.0 332.5v4.0M99.4 314.8V344.0M97.4 314.8h4.0M97.4 344.0h4.0M94.7 329.4H104.1M94.7 327.4v4.0M104.1 327.4v4.0M117.9 310.1V338.2M115.9 310.1h4.0M115.9 338.2h4.0M113.3 324.1H122.5M113.3 322.1v4.0M122.5 322.1v4.0M102.0 317.6V348.1M100.0 317.6h4.0M100.0 348.1h4.0M98.4 332.9H105.6M98.4 330.9v4.0M105.6 330.9v4.0M90.3 327.0V351.0M88.3 327.0h4.0M88.3 351.0h4.0M86.0 339.0H94.6M86.0 337.0v4.0M94.6 337.0v4.0M107.4 299.9V323.2M105.4 299.9h4.0M105.4 323.2h4.0M104.6 311.6H110.1M104.6 309.6v4.0M110.1 309.6v4.0M95.9 352.0V377.1M93.9 352.0h4.0M93.9 377.1h4.0M91.6 364.5H100.3M91.6 362.5v4.0M100.3 362.5v4.0M83.6 343.8V374.5M81.6 343.8h4.0M81.6 374.5h4.0M80.0 359.2H87.2M80.0 357.2v4.0M87.2 357.2v4.0M192.4 197.5V226.4M190.4 197.5h4.0M190.4 226.4h4.0M187.1 212.0H197.7M187.1 210.0v4.0M197.7 210.0v4.0M195.2 190.5V218.4M193.2 190.5h4.0M193.2 218.4h4.0M187.3 204.4H203.1M187.3 202.4v4.0M203.1 202.4v4.0M178.7 181.7V210.4M176.7 181.7h4.0M176.7 210.4h4.0M172.0 196.1H185.5M172.0 194.1v4.0M185.5 194.1v4.0M199.7 170.5V201.5M197.7 170.5h4.0M197.7 201.5h4.0M193.7 186.0H205.7M193.7 184.0v4.0M205.7 184.0v4.0M187.4 181.0V203.6M185.4 181.0h4.0M185.4 203.6h4.0M180.8 192.3H194.1M180.8 190.3v4.0M194.1 190.3v4.0M166.0 169.9V193.2M164.0 169.9h4.0M164.0 193.2h4.0M158.5 181.5H173.5M158.5 179.5v4.0M173.5 179.5v4.0M174.9 181.8V204.5M172.9 181.8h4.0M172.9 204.5h4.0M167.8 193.2H182.0M167.8 191.2v4.0M182.0 191.2v4.0M160.4 174.1V199.6M158.4 174.1h4.0M158.4 199.6h4.0M153.7 186.9H167.1M153.7 184.9v4.0M167.1 184.9v4.0M163.0 176.8V206.1M161.0 176.8h4.0M161.0 206.1h4.0M157.3 191.4H168.8M157.3 189.4v4.0M168.8 189.4v4.0M188.5 169.3V192.3M186.5 169.3h4.0M186.5 192.3h4.0M181.0 180.8H196.0M181.0 178.8v4.0M196.0 178.8v4.0M195.5 217.7V246.3M193.5 217.7h4.0M193.5 246.3h4.0M188.6 232.0H202.5M188.6 230.0v4.0M202.5 230.0v4.0M169.1 236.4V264.3M167.1 236.4h4.0M167.1 264.3h4.0M161.4 250.4H176.8M161.4 248.4v4.0M176.8 248.4v4.0M191.3 218.6V243.9M189.3 218.6h4.0M189.3 243.9h4.0M183.7 231.2H198.8M183.7 229.2v4.0M198.8 229.2v4.0M172.2 229.2V255.9M170.2 229.2h4.0M170.2 255.9h4.0M165.3 242.6H179.0M165.3 240.6v4.0M179.0 240.6v4.0M193.3 234.8V265.6M191.3 234.8h4.0M191.3 265.6h4.0M186.7 250.2H199.8M186.7 248.2v4.0M199.8 248.2v4.0M176.0 223.0V248.1M174.0 223.0h4.0M174.0 248.1h4.0M168.1 235.6H184.0M168.1 233.6v4.0M184.0 233.6v4.0M165.3 241.6V266.8M163.3 241.6h4.0M163.3 266.8h4.0M158.3 254.2H172.4M158.3 252.2v4.0M172.4 252.2v4.0M192.3 233.5V260.8M190.3 233.5h4.0M190.3 260.8h4.0M185.9 247.1H198.6M185.9 245.1v4.0M198.6 245.1v4.0M198.0 228.4V254.8M196.0 228.4h4.0M196.0 254.8h4.0M192.7 241.6H203.3M192.7 239.6v4.0M203.3 239.6v4.0M172.2 245.4V271.4M170.2 245.4h4.0M170.2 271.4h4.0M165.8 258.4H178.5M165.8 256.4v4.0M178.5 256.4v4.0" stroke="#1e1e9e" stroke-width="1.2" fill="none"/><path d="M141.0 54.3V82.7M139.0 54.3h4.0M139.0 82.7h4.0M134.5 68.5H147.5M134.5 66.5v4.0M147.5 66.5v4.0M109.8 79.5V103.5M107.8 79.5h4.0M107.8 103.5h4.0M105.8 91.5H113.8M105.8 89.5v4.0M113.8 89.5v4.0M109.8 88.9V112.9M107.8 88.9h4.0M107.8 112.9h4.0M105.8 100.9H113.8M105.8 98.9v4.0M113.8 98.9v4.0M114.5 93.9V121.9M112.5 93.9h4.0M112.5 121.9h4.0M110.5 107.9H118.5M110.5 105.9v4.0M118.5 105.9v4.0M95.4 101.8V134.6M93.4 101.8h4.0M93.4 134.6h4.0M92.4 118.2H98.4M92.4 116.2v4.0M98.4 116.2v4.0M130.3 100.3V132.3M128.3 100.3h4.0M128.3 132.3h4.0M125.3 116.3H135.3M125.3 114.3v4.0M135.3 114.3v4.0M160.1 101.3V131.3M158.1 101.3h4.0M158.1 131.3h4.0M153.6 116.3H166.6M153.6 114.3v4.0M166.6 114.3v4.0M146.7 107.9V135.9M144.7 107.9h4.0M144.7 135.9h4.0M141.7 121.9H151.7M141.7 119.9v4.0M151.7 119.9v4.0M149.8 116.0V142.0M147.8 116.0h4.0M147.8 142.0h4.0M144.8 129.0H154.8M144.8 127.0v4.0M154.8 127.0v4.0M117.0 123.2V147.2M115.0 123.2h4.0M115.0 147.2h4.0M113.2 135.2H120.8M113.2 133.2v4.0M120.8 133.2v4.0M130.3 119.1V145.1M128.3 119.1h4.0M128.3 145.1h4.0M126.3 132.1H134.3M126.3 130.1v4.0M134.3 130.1v4.0M151.5 124.0V148.0M149.5 124.0h4.0M149.5 148.0h4.0M146.5 136.0H156.5M146.5 134.0v4.0M156.5 134.0v4.0M150.5 128.0V152.0M148.5 128.0h4.0M148.5 152.0h4.0M145.5 140.0H155.5M145.5 138.0v4.0M155.5 138.0v4.0M148.5 131.4V155.4M146.5 131.4h4.0M146.5 155.4h4.0M143.5 143.4H153.5M143.5 141.4v4.0M153.5 141.4v4.0M138.1 133.5V157.5M136.1 133.5h4.0M136.1 157.5h4.0M134.1 145.5H142.1M134.1 143.5v4.0M142.1 143.5v4.0M104.6 136.6V160.6M102.6 136.6h4.0M102.6 160.6h4.0M101.1 148.6H108.1M101.1 146.6v4.0M108.1 146.6v4.0M166.2 135.5V159.5M164.2 135.5h4.0M164.2 159.5h4.0M161.2 147.5H171.2M161.2 145.5v4.0M171.2 145.5v4.0M69.8 158.5V186.5M67.8 158.5h4.0M67.8 186.5h4.0M67.8 172.5H71.8M67.8 170.5v4.0M71.8 170.5v4.0M79.7 141.7V165.7M77.7 141.7h4.0M77.7 165.7h4.0M77.2 153.7H82.2M77.2 151.7v4.0M82.2 151.7v4.0M82.5 169.1V193.1M80.5 169.1h4.0M80.5 193.1h4.0M80.0 181.1H85.0M80.0 179.1v4.0M85.0 179.1v4.0M80.5 181.9V205.9M78.5 181.9h4.0M78.5 205.9h4.0M78.0 193.9H83.0M78.0 191.9v4.0M83.0 191.9v4.0M94.9 145.4V176.6M92.9 145.4h4.0M92.9 176.6h4.0M92.4 161.0H97.4M92.4 159.0v4.0M97.4 159.0v4.0M100.2 156.3V182.3M98.2 156.3h4.0M98.2 182.3h4.0M97.2 169.3H103.2M97.2 167.3v4.0M103.2 167.3v4.0M105.9 142.3V168.3M103.9 142.3h4.0M103.9 168.3h4.0M102.9 155.3H108.9M102.9 153.3v4.0M108.9 153.3v4.0M111.7 143.1V169.1M109.7 143.1h4.0M109.7 169.1h4.0M108.2 156.1H115.2M108.2 154.1v4.0M115.2 154.1v4.0M103.5 170.2V196.2M101.5 170.2h4.0M101.5 196.2h4.0M100.5 183.2H106.5M100.5 181.2v4.0M106.5 181.2v4.0M106.8 170.2V196.2M104.8 170.2h4.0M104.8 196.2h4.0M103.8 183.2H109.8M103.8 181.2v4.0M109.8 181.2v4.0M118.3 170.2V196.2M116.3 170.2h4.0M116.3 196.2h4.0M114.8 183.2H121.8M114.8 181.2v4.0M121.8 181.2v4.0M121.5 145.6V171.6M119.5 145.6h4.0M119.5 171.6h4.0M118.0 158.6H125.0M118.0 156.6v4.0M125.0 156.6v4.0M123.2 161.2V187.2M121.2 161.2h4.0M121.2 187.2h4.0M119.7 174.2H126.7M119.7 172.2v4.0M126.7 172.2v4.0M87.9 184.4V208.4M85.9 184.4h4.0M85.9 208.4h4.0M85.4 196.4H90.4M85.4 194.4v4.0M90.4 194.4v4.0M95.3 178.6V202.6M93.3 178.6h4.0M93.3 202.6h4.0M92.8 190.6H97.8M92.8 188.6v4.0M97.8 188.6v4.0M132.3 131.6V157.6M130.3 131.6h4.0M130.3 157.6h4.0M126.7 144.6H137.9M126.7 142.6v4.0M137.9 142.6v4.0M123.3 133.3V159.3M121.3 133.3h4.0M121.3 159.3h4.0M118.1 146.3H128.5M118.1 144.3v4.0M128.5 144.3v4.0M150.4 125.0V151.0M148.4 125.0h4.0M148.4 151.0h4.0M143.9 138.0H156.9M143.9 136.0v4.0M156.9 136.0v4.0M152.8 134.9V160.9M150.8 134.9h4.0M150.8 160.9h4.0M146.2 147.9H159.4M146.2 145.9v4.0M159.4 145.9v4.0M161.0 137.4V163.4M159.0 137.4h4.0M159.0 163.4h4.0M153.9 150.4H168.1M153.9 148.4v4.0M168.1 148.4v4.0M126.6 145.6V171.6M124.6 145.6h4.0M124.6 171.6h4.0M121.3 158.6H131.9M121.3 156.6v4.0M131.9 156.6v4.0M129.9 153.0V179.0M127.9 153.0h4.0M127.9 179.0h4.0M124.4 166.0H135.4M124.4 164.0v4.0M135.4 164.0v4.0M139.7 159.5V185.5M137.7 159.5h4.0M137.7 185.5h4.0M133.7 172.5H145.7M133.7 170.5v4.0M145.7 170.5v4.0M151.2 161.2V187.2M149.2 161.2h4.0M149.2 187.2h4.0M144.6 174.2H157.8M144.6 172.2v4.0M157.8 172.2v4.0M142.2 179.2V205.2M140.2 179.2h4.0M140.2 205.2h4.0M136.1 192.2H148.3M136.1 190.2v4.0M148.3 190.2v4.0M184.9 160.4V186.4M182.9 160.4h4.0M182.9 186.4h4.0M176.7 173.4H193.1M176.7 171.4v4.0M193.1 171.4v4.0M189.0 150.5V176.5M187.0 150.5h4.0M187.0 176.5h4.0M180.6 163.5H197.4M180.6 161.5v4.0M197.4 161.5v4.0M191.4 171.9V197.9M189.4 171.9h4.0M189.4 197.9h4.0M182.8 184.9H200.0M182.8 182.9v4.0M200.0 182.9v4.0M124.9 171.0V197.0M122.9 171.0h4.0M122.9 197.0h4.0M119.7 184.0H130.1M119.7 182.0v4.0M130.1 182.0v4.0M136.4 144.8V170.8M134.4 144.8h4.0M134.4 170.8h4.0M130.6 157.8H142.2M130.6 155.8v4.0M142.2 155.8v4.0M152.8 148.0V174.0M150.8 148.0h4.0M150.8 174.0h4.0M146.2 161.0H159.4M146.2 159.0v4.0M159.4 159.0v4.0M271.4 122.7V152.1M269.4 122.7h4.0M269.4 152.1h4.0M258.1 137.4H284.7M258.1 135.4v4.0M284.7 135.4v4.0M199.3 174.1V202.1M197.3 174.1h4.0M197.3 202.1h4.0M191.3 188.1H207.3M191.3 186.1v4.0M207.3 186.1v4.0M224.2 171.8V201.8M222.2 171.8h4.0M222.2 201.8h4.0M214.9 186.8H233.5M214.9 184.8v4.0M233.5 184.8v4.0M223.4 186.1V214.1M221.4 186.1h4.0M221.4 214.1h4.0M214.4 200.1H232.4M214.4 198.1v4.0M232.4 198.1v4.0M207.4 188.8V216.8M205.4 188.8h4.0M205.4 216.8h4.0M199.4 202.8H215.4M199.4 200.8v4.0M215.4 200.8v4.0M268.8 270.2V299.6M266.8 270.2h4.0M266.8 299.6h4.0M254.8 284.9H282.8M254.8 282.9v4.0M282.8 282.9v4.0M215.4 288.1V312.1M213.4 288.1h4.0M213.4 312.1h4.0M206.4 300.1H224.4M206.4 298.1v4.0M224.4 298.1v4.0M236.7 263.6V289.6M234.7 263.6h4.0M234.7 289.6h4.0M226.7 276.6H246.7M226.7 274.6v4.0M246.7 274.6v4.0M236.7 270.6V296.6M234.7 270.6h4.0M234.7 296.6h4.0M226.7 283.6H246.7M226.7 281.6v4.0M246.7 281.6v4.0M213.5 253.5V281.5M211.5 253.5h4.0M211.5 281.5h4.0M203.1 267.5H223.9M203.1 265.5v4.0M223.9 265.5v4.0M204.7 250.3V276.3M202.7 250.3h4.0M202.7 276.3h4.0M196.7 263.3H212.7M196.7 261.3v4.0M212.7 261.3v4.0M195.9 240.4V266.4M193.9 240.4h4.0M193.9 266.4h4.0M187.9 253.4H203.9M187.9 251.4v4.0M203.9 251.4v4.0M194.0 221.7V247.7M192.0 221.7h4.0M192.0 247.7h4.0M186.0 234.7H202.0M186.0 232.7v4.0M202.0 232.7v4.0M226.0 221.7V247.7M224.0 221.7h4.0M224.0 247.7h4.0M217.0 234.7H235.0M217.0 232.7v4.0M235.0 232.7v4.0M231.4 221.7V247.7M229.4 221.7h4.0M229.4 247.7h4.0M222.4 234.7H240.4M222.4 232.7v4.0M240.4 232.7v4.0M240.7 238.3V264.3M238.7 238.3h4.0M238.7 264.3h4.0M230.7 251.3H250.7M230.7 249.3v4.0M250.7 249.3v4.0M246.1 235.6V261.6M244.1 235.6h4.0M244.1 261.6h4.0M236.1 248.6H256.1M236.1 246.6v4.0M256.1 246.6v4.0M177.5 209.0V235.0M175.5 209.0h4.0M175.5 235.0h4.0M170.9 222.0H184.1M170.9 220.0v4.0M184.1 220.0v4.0M188.2 193.4V219.4M186.2 193.4h4.0M186.2 219.4h4.0M181.2 206.4H195.2M181.2 204.4v4.0M195.2 204.4v4.0M180.8 247.3V273.3M178.8 247.3h4.0M178.8 273.3h4.0M173.8 260.3H187.8M173.8 258.3v4.0M187.8 258.3v4.0M170.1 200.8V226.8M168.1 200.8h4.0M168.1 226.8h4.0M164.1 213.8H176.1M164.1 211.8v4.0M176.1 211.8v4.0M170.9 232.0V258.0M168.9 232.0h4.0M168.9 258.0h4.0M164.9 245.0H176.9M164.9 243.0v4.0M176.9 243.0v4.0M161.9 189.3V215.3M159.9 189.3h4.0M159.9 215.3h4.0M155.9 202.3H167.9M155.9 200.3v4.0M167.9 200.3v4.0M73.1 201.3V226.3M71.1 201.3h4.0M71.1 226.3h4.0M70.6 213.8H75.6M70.6 211.8v4.0M75.6 211.8v4.0M64.1 216.4V241.4M62.1 216.4h4.0M62.1 241.4h4.0M61.6 228.9H66.6M61.6 226.9v4.0M66.6 226.9v4.0M67.3 256.8V280.8M65.3 256.8h4.0M65.3 280.8h4.0M64.8 268.8H69.8M64.8 266.8v4.0M69.8 266.8v4.0M59.1 292.9V316.9M57.1 292.9h4.0M57.1 316.9h4.0M56.6 304.9H61.6M56.6 302.9v4.0M61.6 302.9v4.0M67.3 325.5V355.5M65.3 325.5h4.0M65.3 355.5h4.0M64.8 340.5H69.8M64.8 338.5v4.0M69.8 338.5v4.0M76.4 291.4V317.4M74.4 291.4h4.0M74.4 317.4h4.0M73.9 304.4H78.9M73.9 302.4v4.0M78.9 302.4v4.0M83.9 372.5V396.5M81.9 372.5h4.0M81.9 396.5h4.0M80.9 384.5H86.9M80.9 382.5v4.0M86.9 382.5v4.0M87.4 380.8V404.8M85.4 380.8h4.0M85.4 404.8h4.0M84.4 392.8H90.4M84.4 390.8v4.0M90.4 390.8v4.0M92.6 389.5V413.5M90.6 389.5h4.0M90.6 413.5h4.0M89.6 401.5H95.6M89.6 399.5v4.0M95.6 399.5v4.0M89.5 338.4V362.4M87.5 338.4h4.0M87.5 362.4h4.0M86.5 350.4H92.5M86.5 348.4v4.0M92.5 348.4v4.0M83.3 347.7V371.7M81.3 347.7h4.0M81.3 371.7h4.0M80.3 359.7H86.3M80.3 357.7v4.0M86.3 357.7v4.0M117.5 339.4V363.4M115.5 339.4h4.0M115.5 363.4h4.0M114.5 351.4H120.5M114.5 349.4v4.0M120.5 349.4v4.0M97.8 330.0V354.0M95.8 330.0h4.0M95.8 354.0h4.0M94.8 342.0H100.8M94.8 340.0v4.0M100.8 340.0v4.0M102.0 330.0V354.0M100.0 330.0h4.0M100.0 354.0h4.0M99.0 342.0H105.0M99.0 340.0v4.0M105.0 340.0v4.0M153.7 284.8V310.8M151.7 284.8h4.0M151.7 310.8h4.0M148.7 297.8H158.7M148.7 295.8v4.0M158.7 295.8v4.0M144.6 300.4V326.4M142.6 300.4h4.0M142.6 326.4h4.0M139.6 313.4H149.6M139.6 311.4v4.0M149.6 311.4v4.0M136.4 301.3V327.3M134.4 301.3h4.0M134.4 327.3h4.0M131.9 314.3H140.9M131.9 312.3v4.0M140.9 312.3v4.0M138.1 312.8V338.8M136.1 312.8h4.0M136.1 338.8h4.0M133.6 325.8H142.6M133.6 323.8v4.0M142.6 323.8v4.0M128.2 296.3V322.3M126.2 296.3h4.0M126.2 322.3h4.0M124.2 309.3H132.2M124.2 307.3v4.0M132.2 307.3v4.0M329.8 246.4V274.4M327.8 246.4h4.0M327.8 274.4h4.0M313.3 260.4H346.3M313.3 258.4v4.0M346.3 258.4v4.0M105.4 132.9V157.8M103.4 132.9h4.0M103.4 157.8h4.0M100.9 145.4H110.0M100.9 143.4v4.0M110.0 143.4v4.0M104.2 140.0V163.6M102.2 140.0h4.0M102.2 163.6h4.0M100.3 151.8H108.1M100.3 149.8v4.0M108.1 149.8v4.0M98.1 148.3V172.0M96.1 148.3h4.0M96.1 172.0h4.0M94.2 160.2H102.0M94.2 158.2v4.0M102.0 158.2v4.0M108.8 146.0V168.9M106.8 146.0h4.0M106.8 168.9h4.0M103.9 157.4H113.7M103.9 155.4v4.0M113.7 155.4v4.0M119.5 147.7V171.2M117.5 147.7h4.0M117.5 171.2h4.0M115.7 159.4H123.2M115.7 157.4v4.0M123.2 157.4v4.0M113.0 140.5V162.8M111.0 140.5h4.0M111.0 162.8h4.0M109.6 151.6H116.3M109.6 149.6v4.0M116.3 149.6v4.0M103.5 164.1V193.6M101.5 164.1h4.0M101.5 193.6h4.0M98.5 178.9H108.4M98.5 176.9v4.0M108.4 176.9v4.0M95.1 163.1V192.8M93.1 163.1h4.0M93.1 192.8h4.0M90.4 177.9H99.8M90.4 175.9v4.0M99.8 175.9v4.0M99.5 133.1V163.9M97.5 133.1h4.0M97.5 163.9h4.0M95.9 148.5H103.0M95.9 146.5v4.0M103.0 146.5v4.0M109.5 157.2V184.4M107.5 157.2h4.0M107.5 184.4h4.0M106.4 170.8H112.5M106.4 168.8v4.0M112.5 168.8v4.0M112.7 161.7V186.0M110.7 161.7h4.0M110.7 186.0h4.0M108.2 173.9H117.3M108.2 171.9v4.0M117.3 171.9v4.0M116.8 138.8V166.3M114.8 138.8h4.0M114.8 166.3h4.0M112.3 152.6H121.3M112.3 150.6v4.0M121.3 150.6v4.0M128.4 150.2V181.8M126.4 150.2h4.0M126.4 181.8h4.0M124.6 166.0H132.2M124.6 164.0v4.0M132.2 164.0v4.0M121.9 136.4V166.7M119.9 136.4h4.0M119.9 166.7h4.0M116.9 151.6H126.8M116.9 149.6v4.0M126.8 149.6v4.0M126.8 142.0V165.6M124.8 142.0h4.0M124.8 165.6h4.0M122.9 153.8H130.6M122.9 151.8v4.0M130.6 151.8v4.0M134.6 136.3V159.1M132.6 136.3h4.0M132.6 159.1h4.0M130.3 147.7H138.8M130.3 145.7v4.0M138.8 145.7v4.0M164.8 162.4V192.2M162.8 162.4h4.0M162.8 192.2h4.0M160.3 177.3H169.2M160.3 175.3v4.0M169.2 175.3v4.0M136.5 155.7V182.5M134.5 155.7h4.0M134.5 182.5h4.0M132.1 169.1H141.0M132.1 167.1v4.0M141.0 167.1v4.0M122.8 153.2V181.3M120.8 153.2h4.0M120.8 181.3h4.0M119.5 167.3H126.1M119.5 165.3v4.0M126.1 165.3v4.0M100.3 203.3V232.9M98.3 203.3h4.0M98.3 232.9h4.0M97.3 218.1H103.3M97.3 216.1v4.0M103.3 216.1v4.0M109.8 190.4V214.1M107.8 190.4h4.0M107.8 214.1h4.0M107.1 202.3H112.5M107.1 200.3v4.0M112.5 200.3v4.0M118.9 176.8V201.7M116.9 176.8h4.0M116.9 201.7h4.0M116.0 189.2H121.8M116.0 187.2v4.0M121.8 187.2v4.0M104.3 189.8V211.8M102.3 189.8h4.0M102.3 211.8h4.0M101.8 200.8H106.8M101.8 198.8v4.0M106.8 198.8v4.0M102.9 172.4V202.4M100.9 172.4h4.0M100.9 202.4h4.0M98.8 187.4H106.9M98.8 185.4v4.0M106.9 185.4v4.0M89.3 185.3V215.2M87.3 185.3h4.0M87.3 215.2h4.0M85.7 200.2H92.8M85.7 198.2v4.0M92.8 198.2v4.0M118.5 181.3V212.1M116.5 181.3h4.0M116.5 212.1h4.0M115.4 196.7H121.6M115.4 194.7v4.0M121.6 194.7v4.0M86.9 181.3V205.1M84.9 181.3h4.0M84.9 205.1h4.0M83.4 193.2H90.4M83.4 191.2v4.0M90.4 191.2v4.0M109.1 187.7V213.8M107.1 187.7h4.0M107.1 213.8h4.0M106.0 200.7H112.2M106.0 198.7v4.0M112.2 198.7v4.0M109.5 179.7V206.3M107.5 179.7h4.0M107.5 206.3h4.0M106.9 193.0H112.2M106.9 191.0v4.0M112.2 191.0v4.0M92.6 193.2V216.5M90.6 193.2h4.0M90.6 216.5h4.0M89.6 204.9H95.6M89.6 202.9v4.0M95.6 202.9v4.0M116.4 179.5V206.9M114.4 179.5h4.0M114.4 206.9h4.0M113.2 193.2H119.6M113.2 191.2v4.0M119.6 191.2v4.0M109.6 194.5V219.1M107.6 194.5h4.0M107.6 219.1h4.0M105.1 206.8H114.1M105.1 204.8v4.0M114.1 204.8v4.0M100.5 180.7V208.4M98.5 180.7h4.0M98.5 208.4h4.0M96.7 194.6H104.3M96.7 192.6v4.0M104.3 192.6v4.0M107.4 168.2V197.3M105.4 168.2h4.0M105.4 197.3h4.0M104.0 182.7H110.8M104.0 180.7v4.0M110.8 180.7v4.0M87.2 196.8V222.9M85.2 196.8h4.0M85.2 222.9h4.0M83.0 209.8H91.4M83.0 207.8v4.0M91.4 207.8v4.0M101.3 177.2V204.0M99.3 177.2h4.0M99.3 204.0h4.0M96.9 190.6H105.6M96.9 188.6v4.0M105.6 188.6v4.0M95.0 165.6V196.8M93.0 165.6h4.0M93.0 196.8h4.0M91.7 181.2H98.4M91.7 179.2v4.0M98.4 179.2v4.0M109.0 193.9V216.2M107.0 193.9h4.0M107.0 216.2h4.0M104.2 205.0H113.8M104.2 203.0v4.0M113.8 203.0v4.0M106.5 175.6V199.4M104.5 175.6h4.0M104.5 199.4h4.0M103.0 187.5H110.0M103.0 185.5v4.0M110.0 185.5v4.0M97.9 200.8V231.3M95.9 200.8h4.0M95.9 231.3h4.0M93.6 216.1H102.2M93.6 214.1v4.0M102.2 214.1v4.0M88.6 180.8V203.2M86.6 180.8h4.0M86.6 203.2h4.0M84.1 192.0H93.0M84.1 190.0v4.0M93.0 190.0v4.0M92.5 171.1V195.4M90.5 171.1h4.0M90.5 195.4h4.0M87.9 183.3H97.0M87.9 181.3v4.0M97.0 181.3v4.0M124.0 172.1V199.8M122.0 172.1h4.0M122.0 199.8h4.0M121.0 185.9H127.0M121.0 183.9v4.0M127.0 183.9v4.0M134.4 203.8V234.4M132.4 203.8h4.0M132.4 234.4h4.0M131.1 219.1H137.6M131.1 217.1v4.0M137.6 217.1v4.0M123.7 186.8V215.4M121.7 186.8h4.0M121.7 215.4h4.0M119.8 201.1H127.5M119.8 199.1v4.0M127.5 199.1v4.0M136.4 189.2V212.7M134.4 189.2h4.0M134.4 212.7h4.0M132.0 201.0H140.8M132.0 199.0v4.0M140.8 199.0v4.0M141.3 191.7V215.3M139.3 191.7h4.0M139.3 215.3h4.0M136.8 203.5H145.7M136.8 201.5v4.0M145.7 201.5v4.0M136.6 165.6V196.3M134.6 165.6h4.0M134.6 196.3h4.0M132.4 181.0H140.7M132.4 179.0v4.0M140.7 179.0v4.0M134.1 201.6V223.7M132.1 201.6h4.0M132.1 223.7h4.0M130.0 212.7H138.3M130.0 210.7v4.0M138.3 210.7v4.0M138.8 166.8V196.8M136.8 166.8h4.0M136.8 196.8h4.0M135.5 181.8H142.1M135.5 179.8v4.0M142.1 179.8v4.0M125.0 191.1V214.2M123.0 191.1h4.0M123.0 214.2h4.0M122.4 202.6H127.7M122.4 200.6v4.0M127.7 200.6v4.0M158.1 168.2V199.6M156.1 168.2h4.0M156.1 199.6h4.0M155.2 183.9H161.0M155.2 181.9v4.0M161.0 181.9v4.0M132.4 175.2V202.2M130.4 175.2h4.0M130.4 202.2h4.0M129.6 188.7H135.1M129.6 186.7v4.0M135.1 186.7v4.0M122.4 174.1V203.5M120.4 174.1h4.0M120.4 203.5h4.0M119.3 188.8H125.4M119.3 186.8v4.0M125.4 186.8v4.0M126.5 187.6V219.5M124.5 187.6h4.0M124.5 219.5h4.0M123.4 203.5H129.6M123.4 201.5v4.0M129.6 201.5v4.0M159.6 203.2V230.7M157.6 203.2h4.0M157.6 230.7h4.0M154.9 217.0H164.4M154.9 215.0v4.0M164.4 215.0v4.0M157.2 190.9V220.3M155.2 190.9h4.0M155.2 220.3h4.0M154.3 205.6H160.1M154.3 203.6v4.0M160.1 203.6v4.0M154.0 165.7V195.5M152.0 165.7h4.0M152.0 195.5h4.0M151.0 180.6H157.0M151.0 178.6v4.0M157.0 178.6v4.0M150.7 190.1V214.7M148.7 190.1h4.0M148.7 214.7h4.0M147.9 202.4H153.5M147.9 200.4v4.0M153.5 200.4v4.0M129.4 206.4V232.1M127.4 206.4h4.0M127.4 232.1h4.0M126.4 219.2H132.5M126.4 217.2v4.0M132.5 217.2v4.0M147.6 192.3V220.8M145.6 192.3h4.0M145.6 220.8h4.0M143.7 206.5H151.5M143.7 204.5v4.0M151.5 204.5v4.0M154.6 205.4V227.7M152.6 205.4h4.0M152.6 227.7h4.0M151.8 216.6H157.4M151.8 214.6v4.0M157.4 214.6v4.0M156.5 203.4V229.4M154.5 203.4h4.0M154.5 229.4h4.0M153.1 216.4H160.0M153.1 214.4v4.0M160.0 214.4v4.0M147.4 184.6V209.1M145.4 184.6h4.0M145.4 209.1h4.0M144.6 196.9H150.2M144.6 194.9v4.0M150.2 194.9v4.0M132.1 188.0V217.3M130.1 188.0h4.0M130.1 217.3h4.0M129.2 202.6H135.1M129.2 200.6v4.0M135.1 200.6v4.0M158.8 181.2V209.6M156.8 181.2h4.0M156.8 209.6h4.0M154.9 195.4H162.7M154.9 193.4v4.0M162.7 193.4v4.0M151.9 190.6V219.8M149.9 190.6h4.0M149.9 219.8h4.0M148.1 205.2H155.7M148.1 203.2v4.0M155.7 203.2v4.0M121.0 203.1V232.1M119.0 203.1h4.0M119.0 232.1h4.0M116.2 217.6H125.7M116.2 215.6v4.0M125.7 215.6v4.0M128.1 192.0V218.0M126.1 192.0h4.0M126.1 218.0h4.0M125.5 205.0H130.6M125.5 203.0v4.0M130.6 203.0v4.0M128.6 191.0V213.9M126.6 191.0h4.0M126.6 213.9h4.0M125.5 202.4H131.7M125.5 200.4v4.0M131.7 200.4v4.0M151.8 179.0V201.1M149.8 179.0h4.0M149.8 201.1h4.0M147.9 190.1H155.7M147.9 188.1v4.0M155.7 188.1v4.0M142.5 198.9V224.2M140.5 198.9h4.0M140.5 224.2h4.0M138.1 211.6H147.0M138.1 209.6v4.0M147.0 209.6v4.0M125.1 191.9V216.8M123.1 191.9h4.0M123.1 216.8h4.0M121.9 204.4H128.4M121.9 202.4v4.0M128.4 202.4v4.0M128.4 182.7V208.7M126.4 182.7h4.0M126.4 208.7h4.0M124.2 195.7H132.6M124.2 193.7v4.0M132.6 193.7v4.0M111.9 214.2V236.3M109.9 214.2h4.0M109.9 236.3h4.0M108.2 225.3H115.5M108.2 223.3v4.0M115.5 223.3v4.0M110.2 217.1V241.4M108.2 217.1h4.0M108.2 241.4h4.0M105.3 229.2H115.1M105.3 227.2v4.0M115.1 227.2v4.0M100.3 225.7V253.6M98.3 225.7h4.0M98.3 253.6h4.0M95.8 239.7H104.9M95.8 237.7v4.0M104.9 237.7v4.0M115.2 220.9V244.7M113.2 220.9h4.0M113.2 244.7h4.0M112.5 232.8H118.0M112.5 230.8v4.0M118.0 230.8v4.0M81.9 233.5V263.1M79.9 233.5h4.0M79.9 263.1h4.0M77.6 248.3H86.1M77.6 246.3v4.0M86.1 246.3v4.0M111.2 210.7V239.3M109.2 210.7h4.0M109.2 239.3h4.0M108.6 225.0H113.9M108.6 223.0v4.0M113.9 223.0v4.0M80.0 219.2V247.7M78.0 219.2h4.0M78.0 247.7h4.0M76.1 233.5H84.0M76.1 231.5v4.0M84.0 231.5v4.0M104.6 245.4V270.5M102.6 245.4h4.0M102.6 270.5h4.0M99.7 258.0H109.6M99.7 256.0v4.0M109.6 256.0v4.0M92.6 207.7V234.0M90.6 207.7h4.0M90.6 234.0h4.0M89.8 220.9H95.4M89.8 218.9v4.0M95.4 218.9v4.0M105.7 215.0V243.9M103.7 215.0h4.0M103.7 243.9h4.0M102.9 229.4H108.4M102.9 227.4v4.0M108.4 227.4v4.0M106.9 228.0V252.0M104.9 228.0h4.0M104.9 252.0h4.0M104.0 240.0H109.7M104.0 238.0v4.0M109.7 238.0v4.0M90.7 242.9V265.3M88.7 242.9h4.0M88.7 265.3h4.0M85.9 254.1H95.5M85.9 252.1v4.0M95.5 252.1v4.0M117.5 244.3V268.7M115.5 244.3h4.0M115.5 268.7h4.0M113.0 256.5H122.0M113.0 254.5v4.0M122.0 254.5v4.0M118.7 241.2V263.5M116.7 241.2h4.0M116.7 263.5h4.0M115.8 252.3H121.5M115.8 250.3v4.0M121.5 250.3v4.0M95.1 227.4V259.0M93.1 227.4h4.0M93.1 259.0h4.0M92.6 243.2H97.7M92.6 241.2v4.0M97.7 241.2v4.0M106.9 229.1V252.2M104.9 229.1h4.0M104.9 252.2h4.0M103.2 240.7H110.6M103.2 238.7v4.0M110.6 238.7v4.0M109.9 234.6V264.7M107.9 234.6h4.0M107.9 264.7h4.0M107.4 249.7H112.5M107.4 247.7v4.0M112.5 247.7v4.0M94.2 245.3V269.4M92.2 245.3h4.0M92.2 269.4h4.0M90.8 257.3H97.5M90.8 255.3v4.0M97.5 255.3v4.0M87.8 221.4V245.1M85.8 221.4h4.0M85.8 245.1h4.0M85.2 233.3H90.5M85.2 231.3v4.0M90.5 231.3v4.0M98.9 230.4V253.7M96.9 230.4h4.0M96.9 253.7h4.0M95.0 242.1H102.8M95.0 240.1v4.0M102.8 240.1v4.0M81.0 214.2V237.6M79.0 214.2h4.0M79.0 237.6h4.0M76.2 225.9H85.7M76.2 223.9v4.0M85.7 223.9v4.0M107.3 226.5V257.9M105.3 226.5h4.0M105.3 257.9h4.0M103.3 242.2H111.3M103.3 240.2v4.0M111.3 240.2v4.0M90.2 235.3V260.9M88.2 235.3h4.0M88.2 260.9h4.0M86.4 248.1H94.0M86.4 246.1v4.0M94.0 246.1v4.0M96.0 212.5V243.7M94.0 212.5h4.0M94.0 243.7h4.0M93.3 228.1H98.8M93.3 226.1v4.0M98.8 226.1v4.0M105.6 214.9V238.7M103.6 214.9h4.0M103.6 238.7h4.0M101.1 226.8H110.1M101.1 224.8v4.0M110.1 224.8v4.0M106.5 230.4V256.5M104.5 230.4h4.0M104.5 256.5h4.0M102.0 243.5H111.0M102.0 241.5v4.0M111.0 241.5v4.0M118.2 237.2V260.4M116.2 237.2h4.0M116.2 260.4h4.0M114.6 248.8H121.8M114.6 246.8v4.0M121.8 246.8v4.0M90.3 210.3V240.3M88.3 210.3h4.0M88.3 240.3h4.0M86.5 225.3H94.1M86.5 223.3v4.0M94.1 223.3v4.0M109.7 233.1V257.9M107.7 233.1h4.0M107.7 257.9h4.0M106.1 245.5H113.3M106.1 243.5v4.0M113.3 243.5v4.0M112.2 233.1V260.6M110.2 233.1h4.0M110.2 260.6h4.0M108.0 246.8H116.3M108.0 244.8v4.0M116.3 244.8v4.0M111.6 230.7V256.4M109.6 230.7h4.0M109.6 256.4h4.0M108.5 243.6H114.8M108.5 241.6v4.0M114.8 241.6v4.0M92.4 217.1V246.2M90.4 217.1h4.0M90.4 246.2h4.0M87.6 231.7H97.1M87.6 229.7v4.0M97.1 229.7v4.0M104.5 226.5V249.6M102.5 226.5h4.0M102.5 249.6h4.0M100.8 238.0H108.3M100.8 236.0v4.0M108.3 236.0v4.0M99.0 230.0V257.0M97.0 230.0h4.0M97.0 257.0h4.0M95.6 243.5H102.4M95.6 241.5v4.0M102.4 241.5v4.0M120.0 240.8V272.2M118.0 240.8h4.0M118.0 272.2h4.0M117.3 256.5H122.7M117.3 254.5v4.0M122.7 254.5v4.0M111.8 240.4V264.5M109.8 240.4h4.0M109.8 264.5h4.0M107.3 252.5H116.3M107.3 250.5v4.0M116.3 250.5v4.0M85.3 234.2V257.2M83.3 234.2h4.0M83.3 257.2h4.0M80.7 245.7H89.9M80.7 243.7v4.0M89.9 243.7v4.0M80.6 245.6V270.2M78.6 245.6h4.0M78.6 270.2h4.0M75.8 257.9H85.4M75.8 255.9v4.0M85.4 255.9v4.0M113.2 220.9V243.0M111.2 220.9h4.0M111.2 243.0h4.0M108.6 231.9H117.8M108.6 229.9v4.0M117.8 229.9v4.0M104.3 217.9V240.1M102.3 217.9h4.0M102.3 240.1h4.0M100.2 229.0H108.4M100.2 227.0v4.0M108.4 227.0v4.0M105.9 212.6V235.3M103.9 212.6h4.0M103.9 235.3h4.0M102.3 224.0H109.5M102.3 222.0v4.0M109.5 222.0v4.0M95.3 212.9V239.6M93.3 212.9h4.0M93.3 239.6h4.0M92.0 226.2H98.7M92.0 224.2v4.0M98.7 224.2v4.0M106.4 230.1V260.6M104.4 230.1h4.0M104.4 260.6h4.0M102.6 245.3H110.2M102.6 243.3v4.0M110.2 243.3v4.0M96.4 213.0V238.6M94.4 213.0h4.0M94.4 238.6h4.0M92.2 225.8H100.6M92.2 223.8v4.0M100.6 223.8v4.0M117.4 222.9V248.3M115.4 222.9h4.0M115.4 248.3h4.0M114.9 235.6H119.9M114.9 233.6v4.0M119.9 233.6v4.0M118.4 226.3V252.0M116.4 226.3h4.0M116.4 252.0h4.0M113.8 239.1H122.9M113.8 237.1v4.0M122.9 237.1v4.0M104.3 211.5V234.6M102.3 211.5h4.0M102.3 234.6h4.0M101.3 223.0H107.3M101.3 221.0v4.0M107.3 221.0v4.0M96.1 218.7V247.2M94.1 218.7h4.0M94.1 247.2h4.0M92.2 232.9H100.0M92.2 230.9v4.0M100.0 230.9v4.0M89.6 219.1V242.3M87.6 219.1h4.0M87.6 242.3h4.0M87.0 230.7H92.2M87.0 228.7v4.0M92.2 228.7v4.0M95.3 242.9V269.0M93.3 242.9h4.0M93.3 269.0h4.0M92.3 256.0H98.2M92.3 254.0v4.0M98.2 254.0v4.0M163.5 238.2V265.5M161.5 238.2h4.0M161.5 265.5h4.0M159.2 251.9H167.7M159.2 249.9v4.0M167.7 249.9v4.0M151.2 218.3V248.8M149.2 218.3h4.0M149.2 248.8h4.0M148.4 233.5H153.9M148.4 231.5v4.0M153.9 231.5v4.0M140.7 244.5V272.2M138.7 244.5h4.0M138.7 272.2h4.0M136.3 258.3H145.0M136.3 256.3v4.0M145.0 256.3v4.0M139.2 234.7V260.2M137.2 234.7h4.0M137.2 260.2h4.0M136.1 247.4H142.3M136.1 245.4v4.0M142.3 245.4v4.0M134.4 241.3V264.2M132.4 241.3h4.0M132.4 264.2h4.0M129.5 252.7H139.3M129.5 250.7v4.0M139.3 250.7v4.0M121.1 220.9V247.3M119.1 220.9h4.0M119.1 247.3h4.0M116.9 234.1H125.3M116.9 232.1v4.0M125.3 232.1v4.0M154.2 244.4V273.1M152.2 244.4h4.0M152.2 273.1h4.0M150.0 258.7H158.4M150.0 256.7v4.0M158.4 256.7v4.0M126.4 231.4V255.4M124.4 231.4h4.0M124.4 255.4h4.0M122.4 243.4H130.5M122.4 241.4v4.0M130.5 241.4v4.0M121.2 232.9V261.4M119.2 232.9h4.0M119.2 261.4h4.0M116.2 247.1H126.1M116.2 245.1v4.0M126.1 245.1v4.0M129.0 242.1V267.5M127.0 242.1h4.0M127.0 267.5h4.0M125.7 254.8H132.3M125.7 252.8v4.0M132.3 252.8v4.0M156.6 236.3V267.2M154.6 236.3h4.0M154.6 267.2h4.0M151.8 251.8H161.4M151.8 249.8v4.0M161.4 249.8v4.0M120.1 217.0V241.3M118.1 217.0h4.0M118.1 241.3h4.0M116.1 229.1H124.1M116.1 227.1v4.0M124.1 227.1v4.0M158.3 233.7V265.2M156.3 233.7h4.0M156.3 265.2h4.0M153.9 249.5H162.7M153.9 247.5v4.0M162.7 247.5v4.0M151.8 246.9V270.2M149.8 246.9h4.0M149.8 270.2h4.0M148.2 258.5H155.5M148.2 256.5v4.0M155.5 256.5v4.0M143.2 245.3V270.6M141.2 245.3h4.0M141.2 270.6h4.0M139.2 257.9H147.3M139.2 255.9v4.0M147.3 255.9v4.0M124.4 210.8V239.9M122.4 210.8h4.0M122.4 239.9h4.0M121.6 225.4H127.2M121.6 223.4v4.0M127.2 223.4v4.0M134.8 224.7V250.0M132.8 224.7h4.0M132.8 250.0h4.0M129.8 237.4H139.7M129.8 235.4v4.0M139.7 235.4v4.0M149.4 220.8V247.1M147.4 220.8h4.0M147.4 247.1h4.0M145.9 234.0H152.9M145.9 232.0v4.0M152.9 232.0v4.0M140.0 210.9V238.5M138.0 210.9h4.0M138.0 238.5h4.0M135.9 224.7H144.1M135.9 222.7v4.0M144.1 222.7v4.0M125.0 246.6V271.4M123.0 246.6h4.0M123.0 271.4h4.0M120.1 259.0H130.0M120.1 257.0v4.0M130.0 257.0v4.0M135.3 237.4V265.1M133.3 237.4h4.0M133.3 265.1h4.0M131.6 251.2H139.1M131.6 249.2v4.0M139.1 249.2v4.0M154.4 236.6V263.5M152.4 236.6h4.0M152.4 263.5h4.0M151.2 250.1H157.6M151.2 248.1v4.0M157.6 248.1v4.0M156.5 240.3V270.3M154.5 240.3h4.0M154.5 270.3h4.0M151.8 255.3H161.1M151.8 253.3v4.0M161.1 253.3v4.0M149.6 206.5V235.6M147.6 206.5h4.0M147.6 235.6h4.0M146.2 221.0H153.0M146.2 219.0v4.0M153.0 219.0v4.0M130.9 207.7V237.4M128.9 207.7h4.0M128.9 237.4h4.0M126.9 222.5H134.9M126.9 220.5v4.0M134.9 220.5v4.0M164.8 238.0V260.3M162.8 238.0h4.0M162.8 260.3h4.0M161.2 249.1H168.4M161.2 247.1v4.0M168.4 247.1v4.0M150.6 241.9V269.5M148.6 241.9h4.0M148.6 269.5h4.0M146.8 255.7H154.4M146.8 253.7v4.0M154.4 253.7v4.0M124.1 217.8V247.8M122.1 217.8h4.0M122.1 247.8h4.0M120.2 232.8H128.1M120.2 230.8v4.0M128.1 230.8v4.0M134.6 239.5V267.0M132.6 239.5h4.0M132.6 267.0h4.0M130.6 253.3H138.6M130.6 251.3v4.0M138.6 251.3v4.0M129.0 234.7V260.9M127.0 234.7h4.0M127.0 260.9h4.0M126.2 247.8H131.9M126.2 245.8v4.0M131.9 245.8v4.0M159.9 242.7V266.7M157.9 242.7h4.0M157.9 266.7h4.0M155.0 254.7H164.8M155.0 252.7v4.0M164.8 252.7v4.0M160.7 223.3V254.2M158.7 223.3h4.0M158.7 254.2h4.0M157.8 238.7H163.6M157.8 236.7v4.0M163.6 236.7v4.0M162.8 246.8V271.1M160.8 246.8h4.0M160.8 271.1h4.0M159.4 258.9H166.2M159.4 256.9v4.0M166.2 256.9v4.0M161.6 233.9V263.2M159.6 233.9h4.0M159.6 263.2h4.0M156.8 248.5H166.4M156.8 246.5v4.0M166.4 246.5v4.0M164.3 233.6V264.8M162.3 233.6h4.0M162.3 264.8h4.0M159.8 249.2H168.9M159.8 247.2v4.0M168.9 247.2v4.0M139.3 241.0V272.6M137.3 241.0h4.0M137.3 272.6h4.0M135.8 256.8H142.9M135.8 254.8v4.0M142.9 254.8v4.0M144.4 232.9V258.3M142.4 232.9h4.0M142.4 258.3h4.0M141.9 245.6H146.9M141.9 243.6v4.0M146.9 243.6v4.0M132.4 208.2V232.8M130.4 208.2h4.0M130.4 232.8h4.0M129.1 220.5H135.7M129.1 218.5v4.0M135.7 218.5v4.0M112.1 254.6V285.8M110.1 254.6h4.0M110.1 285.8h4.0M107.8 270.2H116.4M107.8 268.2v4.0M116.4 268.2v4.0M96.7 284.1V314.4M94.7 284.1h4.0M94.7 314.4h4.0M94.0 299.2H99.4M94.0 297.2v4.0M99.4 297.2v4.0M114.0 257.7V282.4M112.0 257.7h4.0M112.0 282.4h4.0M110.8 270.1H117.2M110.8 268.1v4.0M117.2 268.1v4.0M85.5 277.5V307.4M83.5 277.5h4.0M83.5 307.4h4.0M81.2 292.4H89.7M81.2 290.4v4.0M89.7 290.4v4.0M105.7 258.2V282.7M103.7 258.2h4.0M103.7 282.7h4.0M103.0 270.5H108.4M103.0 268.5v4.0M108.4 268.5v4.0M111.5 248.2V273.4M109.5 248.2h4.0M109.5 273.4h4.0M107.7 260.8H115.4M107.7 258.8v4.0M115.4 258.8v4.0M91.5 261.5V285.2M89.5 261.5h4.0M89.5 285.2h4.0M87.6 273.4H95.5M87.6 271.4v4.0M95.5 271.4v4.0M86.4 281.2V306.8M84.4 281.2h4.0M84.4 306.8h4.0M82.0 294.0H90.7M82.0 292.0v4.0M90.7 292.0v4.0M90.0 268.4V298.3M88.0 268.4h4.0M88.0 298.3h4.0M85.1 283.4H94.8M85.1 281.4v4.0M94.8 281.4v4.0M97.7 270.8V299.9M95.7 270.8h4.0M95.7 299.9h4.0M94.3 285.4H101.1M94.3 283.4v4.0M101.1 283.4v4.0M100.7 245.7V276.4M98.7 245.7h4.0M98.7 276.4h4.0M96.5 261.1H104.9M96.5 259.1v4.0M104.9 259.1v4.0M99.4 254.4V278.4M97.4 254.4h4.0M97.4 278.4h4.0M96.1 266.4H102.6M96.1 264.4v4.0M102.6 264.4v4.0M113.6 276.9V301.9M111.6 276.9h4.0M111.6 301.9h4.0M110.4 289.4H116.8M110.4 287.4v4.0M116.8 287.4v4.0M85.1 262.8V292.4M83.1 262.8h4.0M83.1 292.4h4.0M80.1 277.6H90.0M80.1 275.6v4.0M90.0 275.6v4.0M117.4 247.4V278.5M115.4 247.4h4.0M115.4 278.5h4.0M112.6 263.0H122.2M112.6 261.0v4.0M122.2 261.0v4.0M112.4 249.2V281.0M110.4 249.2h4.0M110.4 281.0h4.0M107.8 265.1H117.1M107.8 263.1v4.0M117.1 263.1v4.0M109.6 265.2V296.0M107.6 265.2h4.0M107.6 296.0h4.0M106.3 280.6H113.0M106.3 278.6v4.0M113.0 278.6v4.0M103.9 261.8V284.0M101.9 261.8h4.0M101.9 284.0h4.0M101.2 272.9H106.6M101.2 270.9v4.0M106.6 270.9v4.0M108.1 259.3V284.4M106.1 259.3h4.0M106.1 284.4h4.0M105.2 271.8H110.9M105.2 269.8v4.0M110.9 269.8v4.0M98.5 282.2V305.5M96.5 282.2h4.0M96.5 305.5h4.0M94.8 293.9H102.2M94.8 291.9v4.0M102.2 291.9v4.0M113.1 271.5V302.5M111.1 271.5h4.0M111.1 302.5h4.0M109.3 287.0H117.0M109.3 285.0v4.0M117.0 285.0v4.0M96.2 261.0V290.0M94.2 261.0h4.0M94.2 290.0h4.0M93.6 275.5H98.8M93.6 273.5v4.0M98.8 273.5v4.0M104.9 284.8V311.0M102.9 284.8h4.0M102.9 311.0h4.0M102.3 297.9H107.4M102.3 295.9v4.0M107.4 295.9v4.0M97.5 261.5V291.7M95.5 261.5h4.0M95.5 291.7h4.0M94.9 276.6H100.1M94.9 274.6v4.0M100.1 274.6v4.0M81.7 272.5V298.7M79.7 272.5h4.0M79.7 298.7h4.0M78.4 285.6H85.0M78.4 283.6v4.0M85.0 283.6v4.0M113.5 255.8V280.5M111.5 255.8h4.0M111.5 280.5h4.0M109.7 268.2H117.3M109.7 266.2v4.0M117.3 266.2v4.0M104.4 270.3V293.2M102.4 270.3h4.0M102.4 293.2h4.0M100.2 281.8H108.6M100.2 279.8v4.0M108.6 279.8v4.0M105.3 270.6V302.3M103.3 270.6h4.0M103.3 302.3h4.0M102.6 286.5H108.0M102.6 284.5v4.0M108.0 284.5v4.0M114.0 278.2V305.2M112.0 278.2h4.0M112.0 305.2h4.0M109.6 291.7H118.5M109.6 289.7v4.0M118.5 289.7v4.0M116.6 250.3V282.1M114.6 250.3h4.0M114.6 282.1h4.0M112.3 266.2H121.0M112.3 264.2v4.0M121.0 264.2v4.0M82.5 274.2V297.7M80.5 274.2h4.0M80.5 297.7h4.0M77.6 286.0H87.4M77.6 284.0v4.0M87.4 284.0v4.0M102.4 283.9V308.0M100.4 283.9h4.0M100.4 308.0h4.0M99.2 295.9H105.5M99.2 293.9v4.0M105.5 293.9v4.0M108.7 277.5V306.0M106.7 277.5h4.0M106.7 306.0h4.0M103.9 291.8H113.6M103.9 289.8v4.0M113.6 289.8v4.0M82.2 279.0V306.7M80.2 279.0h4.0M80.2 306.7h4.0M78.9 292.8H85.4M78.9 290.8v4.0M85.4 290.8v4.0M108.8 287.4V310.8M106.8 287.4h4.0M106.8 310.8h4.0M105.0 299.1H112.7M105.0 297.1v4.0M112.7 297.1v4.0M100.5 270.2V294.2M98.5 270.2h4.0M98.5 294.2h4.0M96.1 282.2H104.8M96.1 280.2v4.0M104.8 280.2v4.0M102.1 250.9V273.1M100.1 250.9h4.0M100.1 273.1h4.0M97.1 262.0H107.0M97.1 260.0v4.0M107.0 260.0v4.0M101.6 254.0V280.0M99.6 254.0h4.0M99.6 280.0h4.0M98.5 267.0H104.8M98.5 265.0v4.0M104.8 265.0v4.0M90.1 256.9V283.9M88.1 256.9h4.0M88.1 283.9h4.0M86.9 270.4H93.4M86.9 268.4v4.0M93.4 268.4v4.0M118.3 257.2V279.6M116.3 257.2h4.0M116.3 279.6h4.0M115.3 268.4H121.2M115.3 266.4v4.0M121.2 266.4v4.0M116.6 279.6V303.1M114.6 279.6h4.0M114.6 303.1h4.0M112.0 291.3H121.2M112.0 289.3v4.0M121.2 289.3v4.0M97.7 272.2V301.5M95.7 272.2h4.0M95.7 301.5h4.0M93.8 286.9H101.5M93.8 284.9v4.0M101.5 284.9v4.0M87.8 282.0V310.2M85.8 282.0h4.0M85.8 310.2h4.0M83.8 296.1H91.7M83.8 294.1v4.0M91.7 294.1v4.0M103.4 265.9V289.5M101.4 265.9h4.0M101.4 289.5h4.0M100.9 277.7H106.0M100.9 275.7v4.0M106.0 275.7v4.0M99.2 251.3V275.2M97.2 251.3h4.0M97.2 275.2h4.0M95.3 263.3H103.2M95.3 261.3v4.0M103.2 261.3v4.0M107.4 263.9V288.5M105.4 263.9h4.0M105.4 288.5h4.0M103.2 276.2H111.5M103.2 274.2v4.0M111.5 274.2v4.0M85.0 274.5V298.6M83.0 274.5h4.0M83.0 298.6h4.0M80.4 286.6H89.5M80.4 284.6v4.0M89.5 284.6v4.0M81.5 279.9V309.6M79.5 279.9h4.0M79.5 309.6h4.0M77.1 294.7H85.8M77.1 292.7v4.0M85.8 292.7v4.0M111.6 261.7V291.7M109.6 261.7h4.0M109.6 291.7h4.0M106.8 276.7H116.5M106.8 274.7v4.0M116.5 274.7v4.0M110.2 283.8V311.5M108.2 283.8h4.0M108.2 311.5h4.0M105.5 297.6H115.0M105.5 295.6v4.0M115.0 295.6v4.0M125.8 261.2V288.6M123.8 261.2h4.0M123.8 288.6h4.0M121.3 274.9H130.3M121.3 272.9v4.0M130.3 272.9v4.0M156.0 247.5V273.8M154.0 247.5h4.0M154.0 273.8h4.0M153.3 260.6H158.8M153.3 258.6v4.0M158.8 258.6v4.0M147.0 261.4V291.5M145.0 261.4h4.0M145.0 291.5h4.0M143.8 276.5H150.2M143.8 274.5v4.0M150.2 274.5v4.0M155.8 271.3V300.7M153.8 271.3h4.0M153.8 300.7h4.0M153.0 286.0H158.6M153.0 284.0v4.0M158.6 284.0v4.0M145.5 275.6V303.2M143.5 275.6h4.0M143.5 303.2h4.0M141.2 289.4H149.9M141.2 287.4v4.0M149.9 287.4v4.0M136.1 277.7V309.3M134.1 277.7h4.0M134.1 309.3h4.0M131.3 293.5H141.0M131.3 291.5v4.0M141.0 291.5v4.0M132.7 254.1V282.9M130.7 254.1h4.0M130.7 282.9h4.0M129.8 268.5H135.7M129.8 266.5v4.0M135.7 266.5v4.0M160.5 255.8V283.3M158.5 255.8h4.0M158.5 283.3h4.0M156.9 269.6H164.1M156.9 267.6v4.0M164.1 267.6v4.0M137.5 268.0V295.9M135.5 268.0h4.0M135.5 295.9h4.0M134.1 281.9H140.9M134.1 279.9v4.0M140.9 279.9v4.0M161.1 277.5V303.7M159.1 277.5h4.0M159.1 303.7h4.0M156.2 290.6H166.0M156.2 288.6v4.0M166.0 288.6v4.0M126.3 253.2V282.9M124.3 253.2h4.0M124.3 282.9h4.0M123.2 268.1H129.4M123.2 266.1v4.0M129.4 266.1v4.0M129.4 269.3V295.6M127.4 269.3h4.0M127.4 295.6h4.0M124.6 282.5H134.2M124.6 280.5v4.0M134.2 280.5v4.0M130.0 284.2V306.8M128.0 284.2h4.0M128.0 306.8h4.0M125.0 295.5H134.9M125.0 293.5v4.0M134.9 293.5v4.0M154.5 286.2V311.8M152.5 286.2h4.0M152.5 311.8h4.0M151.3 299.0H157.8M151.3 297.0v4.0M157.8 297.0v4.0M128.1 255.5V281.9M126.1 255.5h4.0M126.1 281.9h4.0M123.6 268.7H132.5M123.6 266.7v4.0M132.5 266.7v4.0M133.0 258.6V290.6M131.0 258.6h4.0M131.0 290.6h4.0M128.2 274.6H137.8M128.2 272.6v4.0M137.8 272.6v4.0M133.4 255.8V285.6M131.4 255.8h4.0M131.4 285.6h4.0M130.3 270.7H136.6M130.3 268.7v4.0M136.6 268.7v4.0M158.2 255.0V280.4M156.2 255.0h4.0M156.2 280.4h4.0M155.4 267.7H160.9M155.4 265.7v4.0M160.9 265.7v4.0M154.9 280.8V307.0M152.9 280.8h4.0M152.9 307.0h4.0M150.0 293.9H159.7M150.0 291.9v4.0M159.7 291.9v4.0M121.8 249.0V274.7M119.8 249.0h4.0M119.8 274.7h4.0M117.3 261.8H126.3M117.3 259.8v4.0M126.3 259.8v4.0M127.2 255.7V286.9M125.2 255.7h4.0M125.2 286.9h4.0M124.4 271.3H129.9M124.4 269.3v4.0M129.9 269.3v4.0M138.1 266.6V293.8M136.1 266.6h4.0M136.1 293.8h4.0M135.1 280.2H141.1M135.1 278.2v4.0M141.1 278.2v4.0M130.7 283.0V312.2M128.7 283.0h4.0M128.7 312.2h4.0M126.0 297.6H135.3M126.0 295.6v4.0M135.3 295.6v4.0M143.7 276.4V302.0M141.7 276.4h4.0M141.7 302.0h4.0M141.0 289.2H146.4M141.0 287.2v4.0M146.4 287.2v4.0M157.0 278.7V304.6M155.0 278.7h4.0M155.0 304.6h4.0M153.7 291.6H160.3M153.7 289.6v4.0M160.3 289.6v4.0M125.9 248.1V272.0M123.9 248.1h4.0M123.9 272.0h4.0M121.0 260.0H130.7M121.0 258.0v4.0M130.7 258.0v4.0M153.6 253.4V280.9M151.6 253.4h4.0M151.6 280.9h4.0M150.0 267.1H157.3M150.0 265.1v4.0M157.3 265.1v4.0M127.8 260.2V282.3M125.8 260.2h4.0M125.8 282.3h4.0M124.9 271.2H130.6M124.9 269.2v4.0M130.6 269.2v4.0M135.5 280.4V306.7M133.5 280.4h4.0M133.5 306.7h4.0M132.4 293.6H138.5M132.4 291.6v4.0M138.5 291.6v4.0M89.2 295.9V323.9M87.2 295.9h4.0M87.2 323.9h4.0M84.7 309.9H93.6M84.7 307.9v4.0M93.6 307.9v4.0M114.4 303.7V334.7M112.4 303.7h4.0M112.4 334.7h4.0M109.8 319.2H119.1M109.8 317.2v4.0M119.1 317.2v4.0M83.0 314.0V339.5M81.0 314.0h4.0M81.0 339.5h4.0M80.3 326.7H85.6M80.3 324.7v4.0M85.6 324.7v4.0M85.1 313.9V336.7M83.1 313.9h4.0M83.1 336.7h4.0M82.3 325.3H87.9M82.3 323.3v4.0M87.9 323.3v4.0M109.4 311.6V342.7M107.4 311.6h4.0M107.4 342.7h4.0M104.8 327.1H114.1M104.8 325.1v4.0M114.1 325.1v4.0M108.5 319.9V346.4M106.5 319.9h4.0M106.5 346.4h4.0M105.3 333.1H111.7M105.3 331.1v4.0M111.7 331.1v4.0M101.8 302.5V329.3M99.8 302.5h4.0M99.8 329.3h4.0M98.2 315.9H105.5M98.2 313.9v4.0M105.5 313.9v4.0M100.7 286.7V316.4M98.7 286.7h4.0M98.7 316.4h4.0M97.8 301.5H103.6M97.8 299.5v4.0M103.6 299.5v4.0M114.6 296.1V320.5M112.6 296.1h4.0M112.6 320.5h4.0M111.8 308.3H117.4M111.8 306.3v4.0M117.4 306.3v4.0M115.2 304.2V331.2M113.2 304.2h4.0M113.2 331.2h4.0M110.2 317.7H120.1M110.2 315.7v4.0M120.1 315.7v4.0M84.6 316.1V345.1M82.6 316.1h4.0M82.6 345.1h4.0M81.8 330.6H87.4M81.8 328.6v4.0M87.4 328.6v4.0M119.8 316.7V342.9M117.8 316.7h4.0M117.8 342.9h4.0M115.3 329.8H124.4M115.3 327.8v4.0M124.4 327.8v4.0M82.5 294.1V324.0M80.5 294.1h4.0M80.5 324.0h4.0M77.8 309.0H87.1M77.8 307.0v4.0M87.1 307.0v4.0M103.0 293.0V323.2M101.0 293.0h4.0M101.0 323.2h4.0M99.3 308.1H106.7M99.3 306.1v4.0M106.7 306.1v4.0M84.4 321.5V350.7M82.4 321.5h4.0M82.4 350.7h4.0M81.7 336.1H87.1M81.7 334.1v4.0M87.1 334.1v4.0M80.7 320.4V348.0M78.7 320.4h4.0M78.7 348.0h4.0M77.4 334.2H84.0M77.4 332.2v4.0M84.0 332.2v4.0M81.8 314.2V339.2M79.8 314.2h4.0M79.8 339.2h4.0M76.8 326.7H86.7M76.8 324.7v4.0M86.7 324.7v4.0M113.5 291.7V320.4M111.5 291.7h4.0M111.5 320.4h4.0M110.9 306.1H116.1M110.9 304.1v4.0M116.1 304.1v4.0M90.8 316.9V340.3M88.8 316.9h4.0M88.8 340.3h4.0M88.2 328.6H93.5M88.2 326.6v4.0M93.5 326.6v4.0M92.6 309.1V332.4M90.6 309.1h4.0M90.6 332.4h4.0M89.5 320.8H95.7M89.5 318.8v4.0M95.7 318.8v4.0M84.5 301.0V328.4M82.5 301.0h4.0M82.5 328.4h4.0M81.8 314.7H87.1M81.8 312.7v4.0M87.1 312.7v4.0M81.2 309.6V332.0M79.2 309.6h4.0M79.2 332.0h4.0M77.9 320.8H84.5M77.9 318.8v4.0M84.5 318.8v4.0M137.3 324.2V351.6M135.3 324.2h4.0M135.3 351.6h4.0M134.2 337.9H140.4M134.2 335.9v4.0M140.4 335.9v4.0M137.6 294.3V319.3M135.6 294.3h4.0M135.6 319.3h4.0M133.4 306.8H141.8M133.4 304.8v4.0M141.8 304.8v4.0M81.8 354.3V376.7M79.8 354.3h4.0M79.8 376.7h4.0M77.4 365.5H86.2M77.4 363.5v4.0M86.2 363.5v4.0M98.1 337.0V362.1M96.1 337.0h4.0M96.1 362.1h4.0M94.0 349.6H102.2M94.0 347.6v4.0M102.2 347.6v4.0M108.0 327.1V355.6M106.0 327.1h4.0M106.0 355.6h4.0M103.2 341.4H112.7M103.2 339.4v4.0M112.7 339.4v4.0M166.0 201.2V225.3M164.0 201.2h4.0M164.0 225.3h4.0M158.5 213.2H173.5M158.5 211.2v4.0M173.5 211.2v4.0M170.2 191.1V218.0M168.2 191.1h4.0M168.2 218.0h4.0M164.4 204.6H176.1M164.4 202.6v4.0M176.1 202.6v4.0M181.3 183.3V208.1M179.3 183.3h4.0M179.3 208.1h4.0M175.9 195.7H186.7M175.9 193.7v4.0M186.7 193.7v4.0M176.0 225.4V248.5M174.0 225.4h4.0M174.0 248.5h4.0M170.9 236.9H181.1M170.9 234.9v4.0M181.1 234.9v4.0M189.7 231.7V263.4M187.7 231.7h4.0M187.7 263.4h4.0M182.3 247.5H197.0M182.3 245.5v4.0M197.0 245.5v4.0" stroke="#d40000" stroke-width="1.2" fill="none"/><path d="M138.55 68.5a2.45 2.45 0 1 0 4.9 0a2.45 2.45 0 1 0 -4.9 0M107.35 91.5a2.45 2.45 0 1 0 4.9 0a2.45 2.45 0 1 0 -4.9 0M107.35 100.9a2.45 2.45 0 1 0 4.9 0a2.45 2.45 0 1 0 -4.9 0M112.05 107.9a2.45 2.45 0 1 0 4.9 0a2.45 2.45 0 1 0 -4.9 0M92.95 118.2a2.45 2.45 0 1 0 4.9 0a2.45 2.45 0 1 0 -4.9 0M127.85 116.3a2.45 2.45 0 1 0 4.9 0a2.45 2.45 0 1 0 -4.9 0M157.65 116.3a2.45 2.45 0 1 0 4.9 0a2.45 2.45 0 1 0 -4.9 0M144.25 121.9a2.45 2.45 0 1 0 4.9 0a2.45 2.45 0 1 0 -4.9 0M147.35 129.0a2.45 2.45 0 1 0 4.9 0a2.45 2.45 0 1 0 -4.9 0M114.55 135.2a2.45 2.45 0 1 0 4.9 0a2.45 2.45 0 1 0 -4.9 0M127.85 132.1a2.45 2.45 0 1 0 4.9 0a2.45 2.45 0 1 0 -4.9 0M149.05 136.0a2.45 2.45 0 1 0 4.9 0a2.45 2.45 0 1 0 -4.9 0M148.05 140.0a2.45 2.45 0 1 0 4.9 0a2.45 2.45 0 1 0 -4.9 0M146.05 143.4a2.45 2.45 0 1 0 4.9 0a2.45 2.45 0 1 0 -4.9 0M135.65 145.5a2.45 2.45 0 1 0 4.9 0a2.45 2.45 0 1 0 -4.9 0M102.15 148.6a2.45 2.45 0 1 0 4.9 0a2.45 2.45 0 1 0 -4.9 0M163.75 147.5a2.45 2.45 0 1 0 4.9 0a2.45 2.45 0 1 0 -4.9 0M67.35 172.5a2.45 2.45 0 1 0 4.9 0a2.45 2.45 0 1 0 -4.9 0M77.25 153.7a2.45 2.45 0 1 0 4.9 0a2.45 2.45 0 1 0 -4.9 0M80.05 181.1a2.45 2.45 0 1 0 4.9 0a2.45 2.45 0 1 0 -4.9 0M78.05 193.9a2.45 2.45 0 1 0 4.9 0a2.45 2.45 0 1 0 -4.9 0M92.45 161.0a2.45 2.45 0 1 0 4.9 0a2.45 2.45 0 1 0 -4.9 0M97.75 169.3a2.45 2.45 0 1 0 4.9 0a2.45 2.45 0 1 0 -4.9 0M103.45 155.3a2.45 2.45 0 1 0 4.9 0a2.45 2.45 0 1 0 -4.9 0M109.25 156.1a2.45 2.45 0 1 0 4.9 0a2.45 2.45 0 1 0 -4.9 0M101.05 183.2a2.45 2.45 0 1 0 4.9 0a2.45 2.45 0 1 0 -4.9 0M104.35 183.2a2.45 2.45 0 1 0 4.9 0a2.45 2.45 0 1 0 -4.9 0M115.85 183.2a2.45 2.45 0 1 0 4.9 0a2.45 2.45 0 1 0 -4.9 0M119.05 158.6a2.45 2.45 0 1 0 4.9 0a2.45 2.45 0 1 0 -4.9 0M120.75 174.2a2.45 2.45 0 1 0 4.9 0a2.45 2.45 0 1 0 -4.9 0M85.45 196.4a2.45 2.45 0 1 0 4.9 0a2.45 2.45 0 1 0 -4.9 0M92.85 190.6a2.45 2.45 0 1 0 4.9 0a2.45 2.45 0 1 0 -4.9 0M129.85 144.6a2.45 2.45 0 1 0 4.9 0a2.45 2.45 0 1 0 -4.9 0M120.85 146.3a2.45 2.45 0 1 0 4.9 0a2.45 2.45 0 1 0 -4.9 0M147.95 138.0a2.45 2.45 0 1 0 4.9 0a2.45 2.45 0 1 0 -4.9 0M150.35 147.9a2.45 2.45 0 1 0 4.9 0a2.45 2.45 0 1 0 -4.9 0M158.55 150.4a2.45 2.45 0 1 0 4.9 0a2.45 2.45 0 1 0 -4.9 0M124.15 158.6a2.45 2.45 0 1 0 4.9 0a2.45 2.45 0 1 0 -4.9 0M127.45 166.0a2.45 2.45 0 1 0 4.9 0a2.45 2.45 0 1 0 -4.9 0M137.25 172.5a2.45 2.45 0 1 0 4.9 0a2.45 2.45 0 1 0 -4.9 0M148.75 174.2a2.45 2.45 0 1 0 4.9 0a2.45 2.45 0 1 0 -4.9 0M139.75 192.2a2.45 2.45 0 1 0 4.9 0a2.45 2.45 0 1 0 -4.9 0M182.45 173.4a2.45 2.45 0 1 0 4.9 0a2.45 2.45 0 1 0 -4.9 0M186.55 163.5a2.45 2.45 0 1 0 4.9 0a2.45 2.45 0 1 0 -4.9 0M188.95 184.9a2.45 2.45 0 1 0 4.9 0a2.45 2.45 0 1 0 -4.9 0M122.45 184.0a2.45 2.45 0 1 0 4.9 0a2.45 2.45 0 1 0 -4.9 0M133.95 157.8a2.45 2.45 0 1 0 4.9 0a2.45 2.45 0 1 0 -4.9 0M150.35 161.0a2.45 2.45 0 1 0 4.9 0a2.45 2.45 0 1 0 -4.9 0M268.95 137.4a2.45 2.45 0 1 0 4.9 0a2.45 2.45 0 1 0 -4.9 0M196.85 188.1a2.45 2.45 0 1 0 4.9 0a2.45 2.45 0 1 0 -4.9 0M221.75 186.8a2.45 2.45 0 1 0 4.9 0a2.45 2.45 0 1 0 -4.9 0M220.95 200.1a2.45 2.45 0 1 0 4.9 0a2.45 2.45 0 1 0 -4.9 0M204.95 202.8a2.45 2.45 0 1 0 4.9 0a2.45 2.45 0 1 0 -4.9 0M266.35 284.9a2.45 2.45 0 1 0 4.9 0a2.45 2.45 0 1 0 -4.9 0M212.95 300.1a2.45 2.45 0 1 0 4.9 0a2.45 2.45 0 1 0 -4.9 0M234.25 276.6a2.45 2.45 0 1 0 4.9 0a2.45 2.45 0 1 0 -4.9 0M234.25 283.6a2.45 2.45 0 1 0 4.9 0a2.45 2.45 0 1 0 -4.9 0M211.05 267.5a2.45 2.45 0 1 0 4.9 0a2.45 2.45 0 1 0 -4.9 0M202.25 263.3a2.45 2.45 0 1 0 4.9 0a2.45 2.45 0 1 0 -4.9 0M193.45 253.4a2.45 2.45 0 1 0 4.9 0a2.45 2.45 0 1 0 -4.9 0M191.55 234.7a2.45 2.45 0 1 0 4.9 0a2.45 2.45 0 1 0 -4.9 0M223.55 234.7a2.45 2.45 0 1 0 4.9 0a2.45 2.45 0 1 0 -4.9 0M228.95 234.7a2.45 2.45 0 1 0 4.9 0a2.45 2.45 0 1 0 -4.9 0M238.25 251.3a2.45 2.45 0 1 0 4.9 0a2.45 2.45 0 1 0 -4.9 0M243.65 248.6a2.45 2.45 0 1 0 4.9 0a2.45 2.45 0 1 0 -4.9 0M175.05 222.0a2.45 2.45 0 1 0 4.9 0a2.45 2.45 0 1 0 -4.9 0M185.75 206.4a2.45 2.45 0 1 0 4.9 0a2.45 2.45 0 1 0 -4.9 0M178.35 260.3a2.45 2.45 0 1 0 4.9 0a2.45 2.45 0 1 0 -4.9 0M167.65 213.8a2.45 2.45 0 1 0 4.9 0a2.45 2.45 0 1 0 -4.9 0M168.45 245.0a2.45 2.45 0 1 0 4.9 0a2.45 2.45 0 1 0 -4.9 0M159.45 202.3a2.45 2.45 0 1 0 4.9 0a2.45 2.45 0 1 0 -4.9 0M70.65 213.8a2.45 2.45 0 1 0 4.9 0a2.45 2.45 0 1 0 -4.9 0M61.65 228.9a2.45 2.45 0 1 0 4.9 0a2.45 2.45 0 1 0 -4.9 0M64.85 268.8a2.45 2.45 0 1 0 4.9 0a2.45 2.45 0 1 0 -4.9 0M56.65 304.9a2.45 2.45 0 1 0 4.9 0a2.45 2.45 0 1 0 -4.9 0M64.85 340.5a2.45 2.45 0 1 0 4.9 0a2.45 2.45 0 1 0 -4.9 0M73.95 304.4a2.45 2.45 0 1 0 4.9 0a2.45 2.45 0 1 0 -4.9 0M81.45 384.5a2.45 2.45 0 1 0 4.9 0a2.45 2.45 0 1 0 -4.9 0M84.95 392.8a2.45 2.45 0 1 0 4.9 0a2.45 2.45 0 1 0 -4.9 0M90.15 401.5a2.45 2.45 0 1 0 4.9 0a2.45 2.45 0 1 0 -4.9 0M87.05 350.4a2.45 2.45 0 1 0 4.9 0a2.45 2.45 0 1 0 -4.9 0M80.85 359.7a2.45 2.45 0 1 0 4.9 0a2.45 2.45 0 1 0 -4.9 0M115.05 351.4a2.45 2.45 0 1 0 4.9 0a2.45 2.45 0 1 0 -4.9 0M95.35 342.0a2.45 2.45 0 1 0 4.9 0a2.45 2.45 0 1 0 -4.9 0M99.55 342.0a2.45 2.45 0 1 0 4.9 0a2.45 2.45 0 1 0 -4.9 0M151.25 297.8a2.45 2.45 0 1 0 4.9 0a2.45 2.45 0 1 0 -4.9 0M142.15 313.4a2.45 2.45 0 1 0 4.9 0a2.45 2.45 0 1 0 -4.9 0M133.95 314.3a2.45 2.45 0 1 0 4.9 0a2.45 2.45 0 1 0 -4.9 0M135.65 325.8a2.45 2.45 0 1 0 4.9 0a2.45 2.45 0 1 0 -4.9 0M125.75 309.3a2.45 2.45 0 1 0 4.9 0a2.45 2.45 0 1 0 -4.9 0M327.35 260.4a2.45 2.45 0 1 0 4.9 0a2.45 2.45 0 1 0 -4.9 0M102.97 145.4a2.45 2.45 0 1 0 4.9 0a2.45 2.45 0 1 0 -4.9 0M101.76 151.8a2.45 2.45 0 1 0 4.9 0a2.45 2.45 0 1 0 -4.9 0M95.66 160.2a2.45 2.45 0 1 0 4.9 0a2.45 2.45 0 1 0 -4.9 0M106.38 157.4a2.45 2.45 0 1 0 4.9 0a2.45 2.45 0 1 0 -4.9 0M117.02 159.4a2.45 2.45 0 1 0 4.9 0a2.45 2.45 0 1 0 -4.9 0M110.52 151.6a2.45 2.45 0 1 0 4.9 0a2.45 2.45 0 1 0 -4.9 0M101.04 178.9a2.45 2.45 0 1 0 4.9 0a2.45 2.45 0 1 0 -4.9 0M92.64 177.9a2.45 2.45 0 1 0 4.9 0a2.45 2.45 0 1 0 -4.9 0M97.02 148.5a2.45 2.45 0 1 0 4.9 0a2.45 2.45 0 1 0 -4.9 0M107.00 170.8a2.45 2.45 0 1 0 4.9 0a2.45 2.45 0 1 0 -4.9 0M110.28 173.9a2.45 2.45 0 1 0 4.9 0a2.45 2.45 0 1 0 -4.9 0M114.38 152.6a2.45 2.45 0 1 0 4.9 0a2.45 2.45 0 1 0 -4.9 0M125.91 166.0a2.45 2.45 0 1 0 4.9 0a2.45 2.45 0 1 0 -4.9 0M119.42 151.6a2.45 2.45 0 1 0 4.9 0a2.45 2.45 0 1 0 -4.9 0M124.31 153.8a2.45 2.45 0 1 0 4.9 0a2.45 2.45 0 1 0 -4.9 0M132.12 147.7a2.45 2.45 0 1 0 4.9 0a2.45 2.45 0 1 0 -4.9 0M162.31 177.3a2.45 2.45 0 1 0 4.9 0a2.45 2.45 0 1 0 -4.9 0M134.10 169.1a2.45 2.45 0 1 0 4.9 0a2.45 2.45 0 1 0 -4.9 0M120.32 167.3a2.45 2.45 0 1 0 4.9 0a2.45 2.45 0 1 0 -4.9 0M97.86 218.1a2.45 2.45 0 1 0 4.9 0a2.45 2.45 0 1 0 -4.9 0M107.30 202.3a2.45 2.45 0 1 0 4.9 0a2.45 2.45 0 1 0 -4.9 0M116.44 189.2a2.45 2.45 0 1 0 4.9 0a2.45 2.45 0 1 0 -4.9 0M101.81 200.8a2.45 2.45 0 1 0 4.9 0a2.45 2.45 0 1 0 -4.9 0M100.42 187.4a2.45 2.45 0 1 0 4.9 0a2.45 2.45 0 1 0 -4.9 0M86.81 200.2a2.45 2.45 0 1 0 4.9 0a2.45 2.45 0 1 0 -4.9 0M116.01 196.7a2.45 2.45 0 1 0 4.9 0a2.45 2.45 0 1 0 -4.9 0M84.48 193.2a2.45 2.45 0 1 0 4.9 0a2.45 2.45 0 1 0 -4.9 0M106.67 200.7a2.45 2.45 0 1 0 4.9 0a2.45 2.45 0 1 0 -4.9 0M107.07 193.0a2.45 2.45 0 1 0 4.9 0a2.45 2.45 0 1 0 -4.9 0M90.18 204.9a2.45 2.45 0 1 0 4.9 0a2.45 2.45 0 1 0 -4.9 0M113.94 193.2a2.45 2.45 0 1 0 4.9 0a2.45 2.45 0 1 0 -4.9 0M107.12 206.8a2.45 2.45 0 1 0 4.9 0a2.45 2.45 0 1 0 -4.9 0M98.06 194.6a2.45 2.45 0 1 0 4.9 0a2.45 2.45 0 1 0 -4.9 0M104.95 182.7a2.45 2.45 0 1 0 4.9 0a2.45 2.45 0 1 0 -4.9 0M84.75 209.8a2.45 2.45 0 1 0 4.9 0a2.45 2.45 0 1 0 -4.9 0M98.82 190.6a2.45 2.45 0 1 0 4.9 0a2.45 2.45 0 1 0 -4.9 0M92.56 181.2a2.45 2.45 0 1 0 4.9 0a2.45 2.45 0 1 0 -4.9 0M106.54 205.0a2.45 2.45 0 1 0 4.9 0a2.45 2.45 0 1 0 -4.9 0M104.03 187.5a2.45 2.45 0 1 0 4.9 0a2.45 2.45 0 1 0 -4.9 0M95.42 216.1a2.45 2.45 0 1 0 4.9 0a2.45 2.45 0 1 0 -4.9 0M86.12 192.0a2.45 2.45 0 1 0 4.9 0a2.45 2.45 0 1 0 -4.9 0M90.00 183.3a2.45 2.45 0 1 0 4.9 0a2.45 2.45 0 1 0 -4.9 0M121.53 185.9a2.45 2.45 0 1 0 4.9 0a2.45 2.45 0 1 0 -4.9 0M131.91 219.1a2.45 2.45 0 1 0 4.9 0a2.45 2.45 0 1 0 -4.9 0M121.22 201.1a2.45 2.45 0 1 0 4.9 0a2.45 2.45 0 1 0 -4.9 0M133.96 201.0a2.45 2.45 0 1 0 4.9 0a2.45 2.45 0 1 0 -4.9 0M138.81 203.5a2.45 2.45 0 1 0 4.9 0a2.45 2.45 0 1 0 -4.9 0M134.13 181.0a2.45 2.45 0 1 0 4.9 0a2.45 2.45 0 1 0 -4.9 0M131.69 212.7a2.45 2.45 0 1 0 4.9 0a2.45 2.45 0 1 0 -4.9 0M136.36 181.8a2.45 2.45 0 1 0 4.9 0a2.45 2.45 0 1 0 -4.9 0M122.57 202.6a2.45 2.45 0 1 0 4.9 0a2.45 2.45 0 1 0 -4.9 0M155.64 183.9a2.45 2.45 0 1 0 4.9 0a2.45 2.45 0 1 0 -4.9 0M129.90 188.7a2.45 2.45 0 1 0 4.9 0a2.45 2.45 0 1 0 -4.9 0M119.91 188.8a2.45 2.45 0 1 0 4.9 0a2.45 2.45 0 1 0 -4.9 0M124.04 203.5a2.45 2.45 0 1 0 4.9 0a2.45 2.45 0 1 0 -4.9 0M157.18 217.0a2.45 2.45 0 1 0 4.9 0a2.45 2.45 0 1 0 -4.9 0M154.78 205.6a2.45 2.45 0 1 0 4.9 0a2.45 2.45 0 1 0 -4.9 0M151.52 180.6a2.45 2.45 0 1 0 4.9 0a2.45 2.45 0 1 0 -4.9 0M148.27 202.4a2.45 2.45 0 1 0 4.9 0a2.45 2.45 0 1 0 -4.9 0M126.98 219.2a2.45 2.45 0 1 0 4.9 0a2.45 2.45 0 1 0 -4.9 0M145.11 206.5a2.45 2.45 0 1 0 4.9 0a2.45 2.45 0 1 0 -4.9 0M152.15 216.6a2.45 2.45 0 1 0 4.9 0a2.45 2.45 0 1 0 -4.9 0M154.09 216.4a2.45 2.45 0 1 0 4.9 0a2.45 2.45 0 1 0 -4.9 0M144.95 196.9a2.45 2.45 0 1 0 4.9 0a2.45 2.45 0 1 0 -4.9 0M129.70 202.6a2.45 2.45 0 1 0 4.9 0a2.45 2.45 0 1 0 -4.9 0M156.34 195.4a2.45 2.45 0 1 0 4.9 0a2.45 2.45 0 1 0 -4.9 0M149.47 205.2a2.45 2.45 0 1 0 4.9 0a2.45 2.45 0 1 0 -4.9 0M118.50 217.6a2.45 2.45 0 1 0 4.9 0a2.45 2.45 0 1 0 -4.9 0M125.61 205.0a2.45 2.45 0 1 0 4.9 0a2.45 2.45 0 1 0 -4.9 0M126.16 202.4a2.45 2.45 0 1 0 4.9 0a2.45 2.45 0 1 0 -4.9 0M149.30 190.1a2.45 2.45 0 1 0 4.9 0a2.45 2.45 0 1 0 -4.9 0M140.09 211.6a2.45 2.45 0 1 0 4.9 0a2.45 2.45 0 1 0 -4.9 0M122.69 204.4a2.45 2.45 0 1 0 4.9 0a2.45 2.45 0 1 0 -4.9 0M125.95 195.7a2.45 2.45 0 1 0 4.9 0a2.45 2.45 0 1 0 -4.9 0M109.41 225.3a2.45 2.45 0 1 0 4.9 0a2.45 2.45 0 1 0 -4.9 0M107.75 229.2a2.45 2.45 0 1 0 4.9 0a2.45 2.45 0 1 0 -4.9 0M97.88 239.7a2.45 2.45 0 1 0 4.9 0a2.45 2.45 0 1 0 -4.9 0M112.79 232.8a2.45 2.45 0 1 0 4.9 0a2.45 2.45 0 1 0 -4.9 0M79.40 248.3a2.45 2.45 0 1 0 4.9 0a2.45 2.45 0 1 0 -4.9 0M108.79 225.0a2.45 2.45 0 1 0 4.9 0a2.45 2.45 0 1 0 -4.9 0M77.60 233.5a2.45 2.45 0 1 0 4.9 0a2.45 2.45 0 1 0 -4.9 0M102.17 258.0a2.45 2.45 0 1 0 4.9 0a2.45 2.45 0 1 0 -4.9 0M90.15 220.9a2.45 2.45 0 1 0 4.9 0a2.45 2.45 0 1 0 -4.9 0M103.22 229.4a2.45 2.45 0 1 0 4.9 0a2.45 2.45 0 1 0 -4.9 0M104.44 240.0a2.45 2.45 0 1 0 4.9 0a2.45 2.45 0 1 0 -4.9 0M88.27 254.1a2.45 2.45 0 1 0 4.9 0a2.45 2.45 0 1 0 -4.9 0M115.02 256.5a2.45 2.45 0 1 0 4.9 0a2.45 2.45 0 1 0 -4.9 0M116.23 252.3a2.45 2.45 0 1 0 4.9 0a2.45 2.45 0 1 0 -4.9 0M92.67 243.2a2.45 2.45 0 1 0 4.9 0a2.45 2.45 0 1 0 -4.9 0M104.46 240.7a2.45 2.45 0 1 0 4.9 0a2.45 2.45 0 1 0 -4.9 0M107.46 249.7a2.45 2.45 0 1 0 4.9 0a2.45 2.45 0 1 0 -4.9 0M91.72 257.3a2.45 2.45 0 1 0 4.9 0a2.45 2.45 0 1 0 -4.9 0M85.38 233.3a2.45 2.45 0 1 0 4.9 0a2.45 2.45 0 1 0 -4.9 0M96.45 242.1a2.45 2.45 0 1 0 4.9 0a2.45 2.45 0 1 0 -4.9 0M78.53 225.9a2.45 2.45 0 1 0 4.9 0a2.45 2.45 0 1 0 -4.9 0M104.90 242.2a2.45 2.45 0 1 0 4.9 0a2.45 2.45 0 1 0 -4.9 0M87.78 248.1a2.45 2.45 0 1 0 4.9 0a2.45 2.45 0 1 0 -4.9 0M93.59 228.1a2.45 2.45 0 1 0 4.9 0a2.45 2.45 0 1 0 -4.9 0M103.16 226.8a2.45 2.45 0 1 0 4.9 0a2.45 2.45 0 1 0 -4.9 0M104.04 243.5a2.45 2.45 0 1 0 4.9 0a2.45 2.45 0 1 0 -4.9 0M115.76 248.8a2.45 2.45 0 1 0 4.9 0a2.45 2.45 0 1 0 -4.9 0M87.87 225.3a2.45 2.45 0 1 0 4.9 0a2.45 2.45 0 1 0 -4.9 0M107.24 245.5a2.45 2.45 0 1 0 4.9 0a2.45 2.45 0 1 0 -4.9 0M109.71 246.8a2.45 2.45 0 1 0 4.9 0a2.45 2.45 0 1 0 -4.9 0M109.18 243.6a2.45 2.45 0 1 0 4.9 0a2.45 2.45 0 1 0 -4.9 0M89.94 231.7a2.45 2.45 0 1 0 4.9 0a2.45 2.45 0 1 0 -4.9 0M102.10 238.0a2.45 2.45 0 1 0 4.9 0a2.45 2.45 0 1 0 -4.9 0M96.53 243.5a2.45 2.45 0 1 0 4.9 0a2.45 2.45 0 1 0 -4.9 0M117.52 256.5a2.45 2.45 0 1 0 4.9 0a2.45 2.45 0 1 0 -4.9 0M109.33 252.5a2.45 2.45 0 1 0 4.9 0a2.45 2.45 0 1 0 -4.9 0M82.83 245.7a2.45 2.45 0 1 0 4.9 0a2.45 2.45 0 1 0 -4.9 0M78.13 257.9a2.45 2.45 0 1 0 4.9 0a2.45 2.45 0 1 0 -4.9 0M110.71 231.9a2.45 2.45 0 1 0 4.9 0a2.45 2.45 0 1 0 -4.9 0M101.89 229.0a2.45 2.45 0 1 0 4.9 0a2.45 2.45 0 1 0 -4.9 0M103.44 224.0a2.45 2.45 0 1 0 4.9 0a2.45 2.45 0 1 0 -4.9 0M92.89 226.2a2.45 2.45 0 1 0 4.9 0a2.45 2.45 0 1 0 -4.9 0M103.91 245.3a2.45 2.45 0 1 0 4.9 0a2.45 2.45 0 1 0 -4.9 0M93.98 225.8a2.45 2.45 0 1 0 4.9 0a2.45 2.45 0 1 0 -4.9 0M114.94 235.6a2.45 2.45 0 1 0 4.9 0a2.45 2.45 0 1 0 -4.9 0M115.94 239.1a2.45 2.45 0 1 0 4.9 0a2.45 2.45 0 1 0 -4.9 0M101.89 223.0a2.45 2.45 0 1 0 4.9 0a2.45 2.45 0 1 0 -4.9 0M93.65 232.9a2.45 2.45 0 1 0 4.9 0a2.45 2.45 0 1 0 -4.9 0M87.15 230.7a2.45 2.45 0 1 0 4.9 0a2.45 2.45 0 1 0 -4.9 0M92.81 256.0a2.45 2.45 0 1 0 4.9 0a2.45 2.45 0 1 0 -4.9 0M161.00 251.9a2.45 2.45 0 1 0 4.9 0a2.45 2.45 0 1 0 -4.9 0M148.71 233.5a2.45 2.45 0 1 0 4.9 0a2.45 2.45 0 1 0 -4.9 0M138.23 258.3a2.45 2.45 0 1 0 4.9 0a2.45 2.45 0 1 0 -4.9 0M136.77 247.4a2.45 2.45 0 1 0 4.9 0a2.45 2.45 0 1 0 -4.9 0M131.93 252.7a2.45 2.45 0 1 0 4.9 0a2.45 2.45 0 1 0 -4.9 0M118.65 234.1a2.45 2.45 0 1 0 4.9 0a2.45 2.45 0 1 0 -4.9 0M151.75 258.7a2.45 2.45 0 1 0 4.9 0a2.45 2.45 0 1 0 -4.9 0M123.99 243.4a2.45 2.45 0 1 0 4.9 0a2.45 2.45 0 1 0 -4.9 0M118.72 247.1a2.45 2.45 0 1 0 4.9 0a2.45 2.45 0 1 0 -4.9 0M126.58 254.8a2.45 2.45 0 1 0 4.9 0a2.45 2.45 0 1 0 -4.9 0M154.16 251.8a2.45 2.45 0 1 0 4.9 0a2.45 2.45 0 1 0 -4.9 0M117.66 229.1a2.45 2.45 0 1 0 4.9 0a2.45 2.45 0 1 0 -4.9 0M155.85 249.5a2.45 2.45 0 1 0 4.9 0a2.45 2.45 0 1 0 -4.9 0M149.40 258.5a2.45 2.45 0 1 0 4.9 0a2.45 2.45 0 1 0 -4.9 0M140.80 257.9a2.45 2.45 0 1 0 4.9 0a2.45 2.45 0 1 0 -4.9 0M121.98 225.4a2.45 2.45 0 1 0 4.9 0a2.45 2.45 0 1 0 -4.9 0M132.33 237.4a2.45 2.45 0 1 0 4.9 0a2.45 2.45 0 1 0 -4.9 0M146.96 234.0a2.45 2.45 0 1 0 4.9 0a2.45 2.45 0 1 0 -4.9 0M137.56 224.7a2.45 2.45 0 1 0 4.9 0a2.45 2.45 0 1 0 -4.9 0M122.57 259.0a2.45 2.45 0 1 0 4.9 0a2.45 2.45 0 1 0 -4.9 0M132.88 251.2a2.45 2.45 0 1 0 4.9 0a2.45 2.45 0 1 0 -4.9 0M151.95 250.1a2.45 2.45 0 1 0 4.9 0a2.45 2.45 0 1 0 -4.9 0M154.02 255.3a2.45 2.45 0 1 0 4.9 0a2.45 2.45 0 1 0 -4.9 0M147.17 221.0a2.45 2.45 0 1 0 4.9 0a2.45 2.45 0 1 0 -4.9 0M128.48 222.5a2.45 2.45 0 1 0 4.9 0a2.45 2.45 0 1 0 -4.9 0M162.38 249.1a2.45 2.45 0 1 0 4.9 0a2.45 2.45 0 1 0 -4.9 0M148.15 255.7a2.45 2.45 0 1 0 4.9 0a2.45 2.45 0 1 0 -4.9 0M121.70 232.8a2.45 2.45 0 1 0 4.9 0a2.45 2.45 0 1 0 -4.9 0M132.15 253.3a2.45 2.45 0 1 0 4.9 0a2.45 2.45 0 1 0 -4.9 0M126.59 247.8a2.45 2.45 0 1 0 4.9 0a2.45 2.45 0 1 0 -4.9 0M157.44 254.7a2.45 2.45 0 1 0 4.9 0a2.45 2.45 0 1 0 -4.9 0M158.25 238.7a2.45 2.45 0 1 0 4.9 0a2.45 2.45 0 1 0 -4.9 0M160.31 258.9a2.45 2.45 0 1 0 4.9 0a2.45 2.45 0 1 0 -4.9 0M159.16 248.5a2.45 2.45 0 1 0 4.9 0a2.45 2.45 0 1 0 -4.9 0M161.86 249.2a2.45 2.45 0 1 0 4.9 0a2.45 2.45 0 1 0 -4.9 0M136.89 256.8a2.45 2.45 0 1 0 4.9 0a2.45 2.45 0 1 0 -4.9 0M141.95 245.6a2.45 2.45 0 1 0 4.9 0a2.45 2.45 0 1 0 -4.9 0M129.92 220.5a2.45 2.45 0 1 0 4.9 0a2.45 2.45 0 1 0 -4.9 0M109.65 270.2a2.45 2.45 0 1 0 4.9 0a2.45 2.45 0 1 0 -4.9 0M94.26 299.2a2.45 2.45 0 1 0 4.9 0a2.45 2.45 0 1 0 -4.9 0M111.58 270.1a2.45 2.45 0 1 0 4.9 0a2.45 2.45 0 1 0 -4.9 0M83.01 292.4a2.45 2.45 0 1 0 4.9 0a2.45 2.45 0 1 0 -4.9 0M103.23 270.5a2.45 2.45 0 1 0 4.9 0a2.45 2.45 0 1 0 -4.9 0M109.08 260.8a2.45 2.45 0 1 0 4.9 0a2.45 2.45 0 1 0 -4.9 0M89.09 273.4a2.45 2.45 0 1 0 4.9 0a2.45 2.45 0 1 0 -4.9 0M83.91 294.0a2.45 2.45 0 1 0 4.9 0a2.45 2.45 0 1 0 -4.9 0M87.50 283.4a2.45 2.45 0 1 0 4.9 0a2.45 2.45 0 1 0 -4.9 0M95.27 285.4a2.45 2.45 0 1 0 4.9 0a2.45 2.45 0 1 0 -4.9 0M98.27 261.1a2.45 2.45 0 1 0 4.9 0a2.45 2.45 0 1 0 -4.9 0M96.94 266.4a2.45 2.45 0 1 0 4.9 0a2.45 2.45 0 1 0 -4.9 0M111.15 289.4a2.45 2.45 0 1 0 4.9 0a2.45 2.45 0 1 0 -4.9 0M82.60 277.6a2.45 2.45 0 1 0 4.9 0a2.45 2.45 0 1 0 -4.9 0M114.97 263.0a2.45 2.45 0 1 0 4.9 0a2.45 2.45 0 1 0 -4.9 0M109.98 265.1a2.45 2.45 0 1 0 4.9 0a2.45 2.45 0 1 0 -4.9 0M107.16 280.6a2.45 2.45 0 1 0 4.9 0a2.45 2.45 0 1 0 -4.9 0M101.49 272.9a2.45 2.45 0 1 0 4.9 0a2.45 2.45 0 1 0 -4.9 0M105.63 271.8a2.45 2.45 0 1 0 4.9 0a2.45 2.45 0 1 0 -4.9 0M96.03 293.9a2.45 2.45 0 1 0 4.9 0a2.45 2.45 0 1 0 -4.9 0M110.69 287.0a2.45 2.45 0 1 0 4.9 0a2.45 2.45 0 1 0 -4.9 0M93.76 275.5a2.45 2.45 0 1 0 4.9 0a2.45 2.45 0 1 0 -4.9 0M102.42 297.9a2.45 2.45 0 1 0 4.9 0a2.45 2.45 0 1 0 -4.9 0M95.05 276.6a2.45 2.45 0 1 0 4.9 0a2.45 2.45 0 1 0 -4.9 0M79.27 285.6a2.45 2.45 0 1 0 4.9 0a2.45 2.45 0 1 0 -4.9 0M111.07 268.2a2.45 2.45 0 1 0 4.9 0a2.45 2.45 0 1 0 -4.9 0M101.95 281.8a2.45 2.45 0 1 0 4.9 0a2.45 2.45 0 1 0 -4.9 0M102.86 286.5a2.45 2.45 0 1 0 4.9 0a2.45 2.45 0 1 0 -4.9 0M111.58 291.7a2.45 2.45 0 1 0 4.9 0a2.45 2.45 0 1 0 -4.9 0M114.16 266.2a2.45 2.45 0 1 0 4.9 0a2.45 2.45 0 1 0 -4.9 0M80.06 286.0a2.45 2.45 0 1 0 4.9 0a2.45 2.45 0 1 0 -4.9 0M99.92 295.9a2.45 2.45 0 1 0 4.9 0a2.45 2.45 0 1 0 -4.9 0M106.26 291.8a2.45 2.45 0 1 0 4.9 0a2.45 2.45 0 1 0 -4.9 0M79.70 292.8a2.45 2.45 0 1 0 4.9 0a2.45 2.45 0 1 0 -4.9 0M106.39 299.1a2.45 2.45 0 1 0 4.9 0a2.45 2.45 0 1 0 -4.9 0M98.02 282.2a2.45 2.45 0 1 0 4.9 0a2.45 2.45 0 1 0 -4.9 0M99.61 262.0a2.45 2.45 0 1 0 4.9 0a2.45 2.45 0 1 0 -4.9 0M99.19 267.0a2.45 2.45 0 1 0 4.9 0a2.45 2.45 0 1 0 -4.9 0M87.67 270.4a2.45 2.45 0 1 0 4.9 0a2.45 2.45 0 1 0 -4.9 0M115.81 268.4a2.45 2.45 0 1 0 4.9 0a2.45 2.45 0 1 0 -4.9 0M114.18 291.3a2.45 2.45 0 1 0 4.9 0a2.45 2.45 0 1 0 -4.9 0M95.21 286.9a2.45 2.45 0 1 0 4.9 0a2.45 2.45 0 1 0 -4.9 0M85.32 296.1a2.45 2.45 0 1 0 4.9 0a2.45 2.45 0 1 0 -4.9 0M100.99 277.7a2.45 2.45 0 1 0 4.9 0a2.45 2.45 0 1 0 -4.9 0M96.80 263.3a2.45 2.45 0 1 0 4.9 0a2.45 2.45 0 1 0 -4.9 0M104.94 276.2a2.45 2.45 0 1 0 4.9 0a2.45 2.45 0 1 0 -4.9 0M82.53 286.6a2.45 2.45 0 1 0 4.9 0a2.45 2.45 0 1 0 -4.9 0M79.02 294.7a2.45 2.45 0 1 0 4.9 0a2.45 2.45 0 1 0 -4.9 0M109.18 276.7a2.45 2.45 0 1 0 4.9 0a2.45 2.45 0 1 0 -4.9 0M107.78 297.6a2.45 2.45 0 1 0 4.9 0a2.45 2.45 0 1 0 -4.9 0M123.35 274.9a2.45 2.45 0 1 0 4.9 0a2.45 2.45 0 1 0 -4.9 0M153.58 260.6a2.45 2.45 0 1 0 4.9 0a2.45 2.45 0 1 0 -4.9 0M144.52 276.5a2.45 2.45 0 1 0 4.9 0a2.45 2.45 0 1 0 -4.9 0M153.37 286.0a2.45 2.45 0 1 0 4.9 0a2.45 2.45 0 1 0 -4.9 0M143.07 289.4a2.45 2.45 0 1 0 4.9 0a2.45 2.45 0 1 0 -4.9 0M133.70 293.5a2.45 2.45 0 1 0 4.9 0a2.45 2.45 0 1 0 -4.9 0M130.30 268.5a2.45 2.45 0 1 0 4.9 0a2.45 2.45 0 1 0 -4.9 0M158.05 269.6a2.45 2.45 0 1 0 4.9 0a2.45 2.45 0 1 0 -4.9 0M135.04 281.9a2.45 2.45 0 1 0 4.9 0a2.45 2.45 0 1 0 -4.9 0M158.63 290.6a2.45 2.45 0 1 0 4.9 0a2.45 2.45 0 1 0 -4.9 0M123.83 268.1a2.45 2.45 0 1 0 4.9 0a2.45 2.45 0 1 0 -4.9 0M126.92 282.5a2.45 2.45 0 1 0 4.9 0a2.45 2.45 0 1 0 -4.9 0M127.51 295.5a2.45 2.45 0 1 0 4.9 0a2.45 2.45 0 1 0 -4.9 0M152.10 299.0a2.45 2.45 0 1 0 4.9 0a2.45 2.45 0 1 0 -4.9 0M125.61 268.7a2.45 2.45 0 1 0 4.9 0a2.45 2.45 0 1 0 -4.9 0M130.54 274.6a2.45 2.45 0 1 0 4.9 0a2.45 2.45 0 1 0 -4.9 0M130.97 270.7a2.45 2.45 0 1 0 4.9 0a2.45 2.45 0 1 0 -4.9 0M155.72 267.7a2.45 2.45 0 1 0 4.9 0a2.45 2.45 0 1 0 -4.9 0M152.42 293.9a2.45 2.45 0 1 0 4.9 0a2.45 2.45 0 1 0 -4.9 0M119.37 261.8a2.45 2.45 0 1 0 4.9 0a2.45 2.45 0 1 0 -4.9 0M124.71 271.3a2.45 2.45 0 1 0 4.9 0a2.45 2.45 0 1 0 -4.9 0M135.62 280.2a2.45 2.45 0 1 0 4.9 0a2.45 2.45 0 1 0 -4.9 0M128.21 297.6a2.45 2.45 0 1 0 4.9 0a2.45 2.45 0 1 0 -4.9 0M141.25 289.2a2.45 2.45 0 1 0 4.9 0a2.45 2.45 0 1 0 -4.9 0M154.56 291.6a2.45 2.45 0 1 0 4.9 0a2.45 2.45 0 1 0 -4.9 0M123.40 260.0a2.45 2.45 0 1 0 4.9 0a2.45 2.45 0 1 0 -4.9 0M151.19 267.1a2.45 2.45 0 1 0 4.9 0a2.45 2.45 0 1 0 -4.9 0M125.31 271.2a2.45 2.45 0 1 0 4.9 0a2.45 2.45 0 1 0 -4.9 0M133.01 293.6a2.45 2.45 0 1 0 4.9 0a2.45 2.45 0 1 0 -4.9 0M86.73 309.9a2.45 2.45 0 1 0 4.9 0a2.45 2.45 0 1 0 -4.9 0M111.99 319.2a2.45 2.45 0 1 0 4.9 0a2.45 2.45 0 1 0 -4.9 0M80.51 326.7a2.45 2.45 0 1 0 4.9 0a2.45 2.45 0 1 0 -4.9 0M82.64 325.3a2.45 2.45 0 1 0 4.9 0a2.45 2.45 0 1 0 -4.9 0M106.99 327.1a2.45 2.45 0 1 0 4.9 0a2.45 2.45 0 1 0 -4.9 0M106.07 333.1a2.45 2.45 0 1 0 4.9 0a2.45 2.45 0 1 0 -4.9 0M99.36 315.9a2.45 2.45 0 1 0 4.9 0a2.45 2.45 0 1 0 -4.9 0M98.25 301.5a2.45 2.45 0 1 0 4.9 0a2.45 2.45 0 1 0 -4.9 0M112.16 308.3a2.45 2.45 0 1 0 4.9 0a2.45 2.45 0 1 0 -4.9 0M112.70 317.7a2.45 2.45 0 1 0 4.9 0a2.45 2.45 0 1 0 -4.9 0M82.19 330.6a2.45 2.45 0 1 0 4.9 0a2.45 2.45 0 1 0 -4.9 0M117.40 329.8a2.45 2.45 0 1 0 4.9 0a2.45 2.45 0 1 0 -4.9 0M80.04 309.0a2.45 2.45 0 1 0 4.9 0a2.45 2.45 0 1 0 -4.9 0M100.52 308.1a2.45 2.45 0 1 0 4.9 0a2.45 2.45 0 1 0 -4.9 0M81.91 336.1a2.45 2.45 0 1 0 4.9 0a2.45 2.45 0 1 0 -4.9 0M78.28 334.2a2.45 2.45 0 1 0 4.9 0a2.45 2.45 0 1 0 -4.9 0M79.30 326.7a2.45 2.45 0 1 0 4.9 0a2.45 2.45 0 1 0 -4.9 0M111.07 306.1a2.45 2.45 0 1 0 4.9 0a2.45 2.45 0 1 0 -4.9 0M88.38 328.6a2.45 2.45 0 1 0 4.9 0a2.45 2.45 0 1 0 -4.9 0M90.19 320.8a2.45 2.45 0 1 0 4.9 0a2.45 2.45 0 1 0 -4.9 0M82.02 314.7a2.45 2.45 0 1 0 4.9 0a2.45 2.45 0 1 0 -4.9 0M78.72 320.8a2.45 2.45 0 1 0 4.9 0a2.45 2.45 0 1 0 -4.9 0M134.89 337.9a2.45 2.45 0 1 0 4.9 0a2.45 2.45 0 1 0 -4.9 0M135.14 306.8a2.45 2.45 0 1 0 4.9 0a2.45 2.45 0 1 0 -4.9 0M79.36 365.5a2.45 2.45 0 1 0 4.9 0a2.45 2.45 0 1 0 -4.9 0M95.64 349.6a2.45 2.45 0 1 0 4.9 0a2.45 2.45 0 1 0 -4.9 0M105.52 341.4a2.45 2.45 0 1 0 4.9 0a2.45 2.45 0 1 0 -4.9 0M163.55 213.2a2.45 2.45 0 1 0 4.9 0a2.45 2.45 0 1 0 -4.9 0M167.77 204.6a2.45 2.45 0 1 0 4.9 0a2.45 2.45 0 1 0 -4.9 0M178.86 195.7a2.45 2.45 0 1 0 4.9 0a2.45 2.45 0 1 0 -4.9 0M173.54 236.9a2.45 2.45 0 1 0 4.9 0a2.45 2.45 0 1 0 -4.9 0M187.22 247.5a2.45 2.45 0 1 0 4.9 0a2.45 2.45 0 1 0 -4.9 0" fill="#d40000"/><path d="M139.25 99.3a1.75 1.75 0 1 0 3.5 0a1.75 1.75 0 1 0 -3.5 0M177.65 111.7a1.75 1.75 0 1 0 3.5 0a1.75 1.75 0 1 0 -3.5 0M105.85 171.7a1.75 1.75 0 1 0 3.5 0a1.75 1.75 0 1 0 -3.5 0M109.15 196.4a1.75 1.75 0 1 0 3.5 0a1.75 1.75 0 1 0 -3.5 0M109.95 150.0a1.75 1.75 0 1 0 3.5 0a1.75 1.75 0 1 0 -3.5 0M183.15 154.5a1.75 1.75 0 1 0 3.5 0a1.75 1.75 0 1 0 -3.5 0M144.55 164.3a1.75 1.75 0 1 0 3.5 0a1.75 1.75 0 1 0 -3.5 0M162.55 163.5a1.75 1.75 0 1 0 3.5 0a1.75 1.75 0 1 0 -3.5 0M179.05 164.0a1.75 1.75 0 1 0 3.5 0a1.75 1.75 0 1 0 -3.5 0M189.65 166.8a1.75 1.75 0 1 0 3.5 0a1.75 1.75 0 1 0 -3.5 0M169.95 177.1a1.75 1.75 0 1 0 3.5 0a1.75 1.75 0 1 0 -3.5 0M157.65 187.3a1.75 1.75 0 1 0 3.5 0a1.75 1.75 0 1 0 -3.5 0M146.95 189.0a1.75 1.75 0 1 0 3.5 0a1.75 1.75 0 1 0 -3.5 0M133.05 185.7a1.75 1.75 0 1 0 3.5 0a1.75 1.75 0 1 0 -3.5 0M174.85 196.8a1.75 1.75 0 1 0 3.5 0a1.75 1.75 0 1 0 -3.5 0M156.05 164.3a1.75 1.75 0 1 0 3.5 0a1.75 1.75 0 1 0 -3.5 0M243.75 161.4a1.75 1.75 0 1 0 3.5 0a1.75 1.75 0 1 0 -3.5 0M239.55 183.3a1.75 1.75 0 1 0 3.5 0a1.75 1.75 0 1 0 -3.5 0M212.25 186.8a1.75 1.75 0 1 0 3.5 0a1.75 1.75 0 1 0 -3.5 0M213.65 191.6a1.75 1.75 0 1 0 3.5 0a1.75 1.75 0 1 0 -3.5 0M193.05 208.1a1.75 1.75 0 1 0 3.5 0a1.75 1.75 0 1 0 -3.5 0M197.55 216.1a1.75 1.75 0 1 0 3.5 0a1.75 1.75 0 1 0 -3.5 0M202.95 215.3a1.75 1.75 0 1 0 3.5 0a1.75 1.75 0 1 0 -3.5 0M228.25 213.5a1.75 1.75 0 1 0 3.5 0a1.75 1.75 0 1 0 -3.5 0M224.25 224.1a1.75 1.75 0 1 0 3.5 0a1.75 1.75 0 1 0 -3.5 0M269.65 230.7a1.75 1.75 0 1 0 3.5 0a1.75 1.75 0 1 0 -3.5 0M267.05 269.9a1.75 1.75 0 1 0 3.5 0a1.75 1.75 0 1 0 -3.5 0M194.15 278.2a1.75 1.75 0 1 0 3.5 0a1.75 1.75 0 1 0 -3.5 0M234.15 296.1a1.75 1.75 0 1 0 3.5 0a1.75 1.75 0 1 0 -3.5 0M221.65 314.8a1.75 1.75 0 1 0 3.5 0a1.75 1.75 0 1 0 -3.5 0M234.95 238.7a1.75 1.75 0 1 0 3.5 0a1.75 1.75 0 1 0 -3.5 0M237.65 241.4a1.75 1.75 0 1 0 3.5 0a1.75 1.75 0 1 0 -3.5 0M221.55 330.4a1.75 1.75 0 1 0 3.5 0a1.75 1.75 0 1 0 -3.5 0M187.25 247.5a1.75 1.75 0 1 0 3.5 0a1.75 1.75 0 1 0 -3.5 0M167.55 206.1a1.75 1.75 0 1 0 3.5 0a1.75 1.75 0 1 0 -3.5 0M169.15 253.2a1.75 1.75 0 1 0 3.5 0a1.75 1.75 0 1 0 -3.5 0M165.85 262.2a1.75 1.75 0 1 0 3.5 0a1.75 1.75 0 1 0 -3.5 0M65.55 265.9a1.75 1.75 0 1 0 3.5 0a1.75 1.75 0 1 0 -3.5 0M98.44 202.3a1.75 1.75 0 1 0 3.5 0a1.75 1.75 0 1 0 -3.5 0M106.65 198.2a1.75 1.75 0 1 0 3.5 0a1.75 1.75 0 1 0 -3.5 0M116.50 203.1a1.75 1.75 0 1 0 3.5 0a1.75 1.75 0 1 0 -3.5 0M114.86 208.1a1.75 1.75 0 1 0 3.5 0a1.75 1.75 0 1 0 -3.5 0M120.60 199.9a1.75 1.75 0 1 0 3.5 0a1.75 1.75 0 1 0 -3.5 0M93.51 211.3a1.75 1.75 0 1 0 3.5 0a1.75 1.75 0 1 0 -3.5 0M100.08 220.4a1.75 1.75 0 1 0 3.5 0a1.75 1.75 0 1 0 -3.5 0M88.58 227.8a1.75 1.75 0 1 0 3.5 0a1.75 1.75 0 1 0 -3.5 0M93.51 225.3a1.75 1.75 0 1 0 3.5 0a1.75 1.75 0 1 0 -3.5 0M103.36 225.3a1.75 1.75 0 1 0 3.5 0a1.75 1.75 0 1 0 -3.5 0M113.22 227.8a1.75 1.75 0 1 0 3.5 0a1.75 1.75 0 1 0 -3.5 0M116.50 225.3a1.75 1.75 0 1 0 3.5 0a1.75 1.75 0 1 0 -3.5 0M121.43 226.1a1.75 1.75 0 1 0 3.5 0a1.75 1.75 0 1 0 -3.5 0M91.05 234.3a1.75 1.75 0 1 0 3.5 0a1.75 1.75 0 1 0 -3.5 0M93.51 244.2a1.75 1.75 0 1 0 3.5 0a1.75 1.75 0 1 0 -3.5 0M109.11 237.6a1.75 1.75 0 1 0 3.5 0a1.75 1.75 0 1 0 -3.5 0M119.78 238.4a1.75 1.75 0 1 0 3.5 0a1.75 1.75 0 1 0 -3.5 0M86.12 251.6a1.75 1.75 0 1 0 3.5 0a1.75 1.75 0 1 0 -3.5 0M95.15 250.8a1.75 1.75 0 1 0 3.5 0a1.75 1.75 0 1 0 -3.5 0M109.93 251.6a1.75 1.75 0 1 0 3.5 0a1.75 1.75 0 1 0 -3.5 0M116.50 247.5a1.75 1.75 0 1 0 3.5 0a1.75 1.75 0 1 0 -3.5 0M81.20 259.0a1.75 1.75 0 1 0 3.5 0a1.75 1.75 0 1 0 -3.5 0M88.58 261.4a1.75 1.75 0 1 0 3.5 0a1.75 1.75 0 1 0 -3.5 0M100.08 263.1a1.75 1.75 0 1 0 3.5 0a1.75 1.75 0 1 0 -3.5 0M114.86 262.2a1.75 1.75 0 1 0 3.5 0a1.75 1.75 0 1 0 -3.5 0M91.05 267.2a1.75 1.75 0 1 0 3.5 0a1.75 1.75 0 1 0 -3.5 0M111.57 267.2a1.75 1.75 0 1 0 3.5 0a1.75 1.75 0 1 0 -3.5 0M121.43 255.7a1.75 1.75 0 1 0 3.5 0a1.75 1.75 0 1 0 -3.5 0M106.65 257.3a1.75 1.75 0 1 0 3.5 0a1.75 1.75 0 1 0 -3.5 0M68.05 274.0a1.75 1.75 0 1 0 3.5 0a1.75 1.75 0 1 0 -3.5 0M62.35 291.0a1.75 1.75 0 1 0 3.5 0a1.75 1.75 0 1 0 -3.5 0M66.45 291.0a1.75 1.75 0 1 0 3.5 0a1.75 1.75 0 1 0 -3.5 0M71.85 298.7a1.75 1.75 0 1 0 3.5 0a1.75 1.75 0 1 0 -3.5 0M57.35 315.6a1.75 1.75 0 1 0 3.5 0a1.75 1.75 0 1 0 -3.5 0M75.45 327.4a1.75 1.75 0 1 0 3.5 0a1.75 1.75 0 1 0 -3.5 0M74.65 272.4a1.75 1.75 0 1 0 3.5 0a1.75 1.75 0 1 0 -3.5 0M77.09 271.6a1.75 1.75 0 1 0 3.5 0a1.75 1.75 0 1 0 -3.5 0M79.55 271.6a1.75 1.75 0 1 0 3.5 0a1.75 1.75 0 1 0 -3.5 0M86.94 276.5a1.75 1.75 0 1 0 3.5 0a1.75 1.75 0 1 0 -3.5 0M100.08 279.8a1.75 1.75 0 1 0 3.5 0a1.75 1.75 0 1 0 -3.5 0M100.90 276.5a1.75 1.75 0 1 0 3.5 0a1.75 1.75 0 1 0 -3.5 0M108.29 271.6a1.75 1.75 0 1 0 3.5 0a1.75 1.75 0 1 0 -3.5 0M116.50 273.2a1.75 1.75 0 1 0 3.5 0a1.75 1.75 0 1 0 -3.5 0M119.78 269.1a1.75 1.75 0 1 0 3.5 0a1.75 1.75 0 1 0 -3.5 0M88.58 283.1a1.75 1.75 0 1 0 3.5 0a1.75 1.75 0 1 0 -3.5 0M96.80 289.6a1.75 1.75 0 1 0 3.5 0a1.75 1.75 0 1 0 -3.5 0M79.55 295.4a1.75 1.75 0 1 0 3.5 0a1.75 1.75 0 1 0 -3.5 0M84.48 299.5a1.75 1.75 0 1 0 3.5 0a1.75 1.75 0 1 0 -3.5 0M100.08 301.9a1.75 1.75 0 1 0 3.5 0a1.75 1.75 0 1 0 -3.5 0M105.83 306.9a1.75 1.75 0 1 0 3.5 0a1.75 1.75 0 1 0 -3.5 0M112.39 305.2a1.75 1.75 0 1 0 3.5 0a1.75 1.75 0 1 0 -3.5 0M116.50 313.4a1.75 1.75 0 1 0 3.5 0a1.75 1.75 0 1 0 -3.5 0M86.94 317.5a1.75 1.75 0 1 0 3.5 0a1.75 1.75 0 1 0 -3.5 0M98.44 319.2a1.75 1.75 0 1 0 3.5 0a1.75 1.75 0 1 0 -3.5 0M108.29 315.9a1.75 1.75 0 1 0 3.5 0a1.75 1.75 0 1 0 -3.5 0M111.57 322.5a1.75 1.75 0 1 0 3.5 0a1.75 1.75 0 1 0 -3.5 0M120.60 327.4a1.75 1.75 0 1 0 3.5 0a1.75 1.75 0 1 0 -3.5 0M82.02 325.8a1.75 1.75 0 1 0 3.5 0a1.75 1.75 0 1 0 -3.5 0M91.05 330.7a1.75 1.75 0 1 0 3.5 0a1.75 1.75 0 1 0 -3.5 0M105.01 336.4a1.75 1.75 0 1 0 3.5 0a1.75 1.75 0 1 0 -3.5 0M114.86 335.6a1.75 1.75 0 1 0 3.5 0a1.75 1.75 0 1 0 -3.5 0M119.78 334.0a1.75 1.75 0 1 0 3.5 0a1.75 1.75 0 1 0 -3.5 0M91.87 342.2a1.75 1.75 0 1 0 3.5 0a1.75 1.75 0 1 0 -3.5 0M121.43 314.3a1.75 1.75 0 1 0 3.5 0a1.75 1.75 0 1 0 -3.5 0M119.78 320.8a1.75 1.75 0 1 0 3.5 0a1.75 1.75 0 1 0 -3.5 0M80.55 344.1a1.75 1.75 0 1 0 3.5 0a1.75 1.75 0 1 0 -3.5 0M81.55 370.0a1.75 1.75 0 1 0 3.5 0a1.75 1.75 0 1 0 -3.5 0M81.55 376.9a1.75 1.75 0 1 0 3.5 0a1.75 1.75 0 1 0 -3.5 0M81.55 400.5a1.75 1.75 0 1 0 3.5 0a1.75 1.75 0 1 0 -3.5 0M82.55 409.4a1.75 1.75 0 1 0 3.5 0a1.75 1.75 0 1 0 -3.5 0M87.75 413.6a1.75 1.75 0 1 0 3.5 0a1.75 1.75 0 1 0 -3.5 0M91.45 418.7a1.75 1.75 0 1 0 3.5 0a1.75 1.75 0 1 0 -3.5 0M104.35 385.6a1.75 1.75 0 1 0 3.5 0a1.75 1.75 0 1 0 -3.5 0M99.15 371.0a1.75 1.75 0 1 0 3.5 0a1.75 1.75 0 1 0 -3.5 0M100.25 367.0a1.75 1.75 0 1 0 3.5 0a1.75 1.75 0 1 0 -3.5 0M93.95 359.7a1.75 1.75 0 1 0 3.5 0a1.75 1.75 0 1 0 -3.5 0M98.15 354.5a1.75 1.75 0 1 0 3.5 0a1.75 1.75 0 1 0 -3.5 0M104.35 362.8a1.75 1.75 0 1 0 3.5 0a1.75 1.75 0 1 0 -3.5 0M108.45 355.5a1.75 1.75 0 1 0 3.5 0a1.75 1.75 0 1 0 -3.5 0M103.35 348.3a1.75 1.75 0 1 0 3.5 0a1.75 1.75 0 1 0 -3.5 0M121.95 358.6a1.75 1.75 0 1 0 3.5 0a1.75 1.75 0 1 0 -3.5 0M168.85 276.5a1.75 1.75 0 1 0 3.5 0a1.75 1.75 0 1 0 -3.5 0M160.15 290.0a1.75 1.75 0 1 0 3.5 0a1.75 1.75 0 1 0 -3.5 0M158.45 311.8a1.75 1.75 0 1 0 3.5 0a1.75 1.75 0 1 0 -3.5 0M128.15 335.6a1.75 1.75 0 1 0 3.5 0a1.75 1.75 0 1 0 -3.5 0M135.45 321.7a1.75 1.75 0 1 0 3.5 0a1.75 1.75 0 1 0 -3.5 0M142.85 325.8a1.75 1.75 0 1 0 3.5 0a1.75 1.75 0 1 0 -3.5 0M144.55 334.8a1.75 1.75 0 1 0 3.5 0a1.75 1.75 0 1 0 -3.5 0M153.55 339.2a1.75 1.75 0 1 0 3.5 0a1.75 1.75 0 1 0 -3.5 0M121.53 271.6a1.75 1.75 0 1 0 3.5 0a1.75 1.75 0 1 0 -3.5 0M127.28 270.7a1.75 1.75 0 1 0 3.5 0a1.75 1.75 0 1 0 -3.5 0M131.39 273.2a1.75 1.75 0 1 0 3.5 0a1.75 1.75 0 1 0 -3.5 0M125.64 277.3a1.75 1.75 0 1 0 3.5 0a1.75 1.75 0 1 0 -3.5 0M124.82 281.4a1.75 1.75 0 1 0 3.5 0a1.75 1.75 0 1 0 -3.5 0M129.74 283.1a1.75 1.75 0 1 0 3.5 0a1.75 1.75 0 1 0 -3.5 0M134.67 285.5a1.75 1.75 0 1 0 3.5 0a1.75 1.75 0 1 0 -3.5 0M133.85 289.6a1.75 1.75 0 1 0 3.5 0a1.75 1.75 0 1 0 -3.5 0M139.60 288.0a1.75 1.75 0 1 0 3.5 0a1.75 1.75 0 1 0 -3.5 0M146.16 274.9a1.75 1.75 0 1 0 3.5 0a1.75 1.75 0 1 0 -3.5 0M151.09 271.6a1.75 1.75 0 1 0 3.5 0a1.75 1.75 0 1 0 -3.5 0M147.81 279.8a1.75 1.75 0 1 0 3.5 0a1.75 1.75 0 1 0 -3.5 0M151.91 283.9a1.75 1.75 0 1 0 3.5 0a1.75 1.75 0 1 0 -3.5 0M126.46 300.3a1.75 1.75 0 1 0 3.5 0a1.75 1.75 0 1 0 -3.5 0M133.85 305.2a1.75 1.75 0 1 0 3.5 0a1.75 1.75 0 1 0 -3.5 0M139.60 304.4a1.75 1.75 0 1 0 3.5 0a1.75 1.75 0 1 0 -3.5 0M135.49 308.5a1.75 1.75 0 1 0 3.5 0a1.75 1.75 0 1 0 -3.5 0M140.42 312.6a1.75 1.75 0 1 0 3.5 0a1.75 1.75 0 1 0 -3.5 0M128.10 297.8a1.75 1.75 0 1 0 3.5 0a1.75 1.75 0 1 0 -3.5 0M128.75 413.9a1.75 1.75 0 1 0 3.5 0a1.75 1.75 0 1 0 -3.5 0M328.05 254.6a1.75 1.75 0 1 0 3.5 0a1.75 1.75 0 1 0 -3.5 0M98.68 180.6a1.75 1.75 0 1 0 3.5 0a1.75 1.75 0 1 0 -3.5 0M111.15 193.6a1.75 1.75 0 1 0 3.5 0a1.75 1.75 0 1 0 -3.5 0M144.11 209.1a1.75 1.75 0 1 0 3.5 0a1.75 1.75 0 1 0 -3.5 0M157.86 200.1a1.75 1.75 0 1 0 3.5 0a1.75 1.75 0 1 0 -3.5 0M157.10 208.1a1.75 1.75 0 1 0 3.5 0a1.75 1.75 0 1 0 -3.5 0M135.13 208.1a1.75 1.75 0 1 0 3.5 0a1.75 1.75 0 1 0 -3.5 0M128.90 192.6a1.75 1.75 0 1 0 3.5 0a1.75 1.75 0 1 0 -3.5 0M121.96 195.6a1.75 1.75 0 1 0 3.5 0a1.75 1.75 0 1 0 -3.5 0M127.45 204.8a1.75 1.75 0 1 0 3.5 0a1.75 1.75 0 1 0 -3.5 0M118.82 186.4a1.75 1.75 0 1 0 3.5 0a1.75 1.75 0 1 0 -3.5 0M133.74 192.5a1.75 1.75 0 1 0 3.5 0a1.75 1.75 0 1 0 -3.5 0M119.82 189.8a1.75 1.75 0 1 0 3.5 0a1.75 1.75 0 1 0 -3.5 0M132.13 195.7a1.75 1.75 0 1 0 3.5 0a1.75 1.75 0 1 0 -3.5 0M133.21 207.6a1.75 1.75 0 1 0 3.5 0a1.75 1.75 0 1 0 -3.5 0M78.76 243.6a1.75 1.75 0 1 0 3.5 0a1.75 1.75 0 1 0 -3.5 0M93.84 230.9a1.75 1.75 0 1 0 3.5 0a1.75 1.75 0 1 0 -3.5 0M106.75 257.3a1.75 1.75 0 1 0 3.5 0a1.75 1.75 0 1 0 -3.5 0M78.72 250.8a1.75 1.75 0 1 0 3.5 0a1.75 1.75 0 1 0 -3.5 0M104.48 252.5a1.75 1.75 0 1 0 3.5 0a1.75 1.75 0 1 0 -3.5 0M83.51 221.7a1.75 1.75 0 1 0 3.5 0a1.75 1.75 0 1 0 -3.5 0M115.88 242.7a1.75 1.75 0 1 0 3.5 0a1.75 1.75 0 1 0 -3.5 0M94.73 253.4a1.75 1.75 0 1 0 3.5 0a1.75 1.75 0 1 0 -3.5 0M88.81 232.9a1.75 1.75 0 1 0 3.5 0a1.75 1.75 0 1 0 -3.5 0M97.81 249.3a1.75 1.75 0 1 0 3.5 0a1.75 1.75 0 1 0 -3.5 0M89.00 232.8a1.75 1.75 0 1 0 3.5 0a1.75 1.75 0 1 0 -3.5 0M123.14 230.2a1.75 1.75 0 1 0 3.5 0a1.75 1.75 0 1 0 -3.5 0M149.74 259.7a1.75 1.75 0 1 0 3.5 0a1.75 1.75 0 1 0 -3.5 0M124.30 227.4a1.75 1.75 0 1 0 3.5 0a1.75 1.75 0 1 0 -3.5 0M157.68 223.7a1.75 1.75 0 1 0 3.5 0a1.75 1.75 0 1 0 -3.5 0M134.39 260.0a1.75 1.75 0 1 0 3.5 0a1.75 1.75 0 1 0 -3.5 0M143.77 236.8a1.75 1.75 0 1 0 3.5 0a1.75 1.75 0 1 0 -3.5 0M143.34 257.3a1.75 1.75 0 1 0 3.5 0a1.75 1.75 0 1 0 -3.5 0M120.81 227.9a1.75 1.75 0 1 0 3.5 0a1.75 1.75 0 1 0 -3.5 0M156.69 249.2a1.75 1.75 0 1 0 3.5 0a1.75 1.75 0 1 0 -3.5 0M147.68 236.0a1.75 1.75 0 1 0 3.5 0a1.75 1.75 0 1 0 -3.5 0M156.79 248.7a1.75 1.75 0 1 0 3.5 0a1.75 1.75 0 1 0 -3.5 0M133.01 238.2a1.75 1.75 0 1 0 3.5 0a1.75 1.75 0 1 0 -3.5 0M135.11 253.3a1.75 1.75 0 1 0 3.5 0a1.75 1.75 0 1 0 -3.5 0M118.53 236.9a1.75 1.75 0 1 0 3.5 0a1.75 1.75 0 1 0 -3.5 0M118.79 224.6a1.75 1.75 0 1 0 3.5 0a1.75 1.75 0 1 0 -3.5 0M122.51 235.9a1.75 1.75 0 1 0 3.5 0a1.75 1.75 0 1 0 -3.5 0M135.11 237.4a1.75 1.75 0 1 0 3.5 0a1.75 1.75 0 1 0 -3.5 0M121.35 233.2a1.75 1.75 0 1 0 3.5 0a1.75 1.75 0 1 0 -3.5 0M141.73 220.8a1.75 1.75 0 1 0 3.5 0a1.75 1.75 0 1 0 -3.5 0M142.26 223.7a1.75 1.75 0 1 0 3.5 0a1.75 1.75 0 1 0 -3.5 0M159.41 251.6a1.75 1.75 0 1 0 3.5 0a1.75 1.75 0 1 0 -3.5 0M154.51 222.0a1.75 1.75 0 1 0 3.5 0a1.75 1.75 0 1 0 -3.5 0M150.54 244.3a1.75 1.75 0 1 0 3.5 0a1.75 1.75 0 1 0 -3.5 0M157.10 223.5a1.75 1.75 0 1 0 3.5 0a1.75 1.75 0 1 0 -3.5 0M149.19 235.7a1.75 1.75 0 1 0 3.5 0a1.75 1.75 0 1 0 -3.5 0M152.15 253.6a1.75 1.75 0 1 0 3.5 0a1.75 1.75 0 1 0 -3.5 0M120.61 223.8a1.75 1.75 0 1 0 3.5 0a1.75 1.75 0 1 0 -3.5 0M122.04 250.3a1.75 1.75 0 1 0 3.5 0a1.75 1.75 0 1 0 -3.5 0M129.38 245.8a1.75 1.75 0 1 0 3.5 0a1.75 1.75 0 1 0 -3.5 0M121.58 220.8a1.75 1.75 0 1 0 3.5 0a1.75 1.75 0 1 0 -3.5 0M139.15 230.5a1.75 1.75 0 1 0 3.5 0a1.75 1.75 0 1 0 -3.5 0M127.57 224.9a1.75 1.75 0 1 0 3.5 0a1.75 1.75 0 1 0 -3.5 0M138.22 232.4a1.75 1.75 0 1 0 3.5 0a1.75 1.75 0 1 0 -3.5 0M80.51 283.6a1.75 1.75 0 1 0 3.5 0a1.75 1.75 0 1 0 -3.5 0M90.82 292.8a1.75 1.75 0 1 0 3.5 0a1.75 1.75 0 1 0 -3.5 0M108.49 267.4a1.75 1.75 0 1 0 3.5 0a1.75 1.75 0 1 0 -3.5 0M113.02 271.8a1.75 1.75 0 1 0 3.5 0a1.75 1.75 0 1 0 -3.5 0M107.95 264.1a1.75 1.75 0 1 0 3.5 0a1.75 1.75 0 1 0 -3.5 0M98.74 282.5a1.75 1.75 0 1 0 3.5 0a1.75 1.75 0 1 0 -3.5 0M84.18 275.7a1.75 1.75 0 1 0 3.5 0a1.75 1.75 0 1 0 -3.5 0M97.97 274.2a1.75 1.75 0 1 0 3.5 0a1.75 1.75 0 1 0 -3.5 0M116.16 299.2a1.75 1.75 0 1 0 3.5 0a1.75 1.75 0 1 0 -3.5 0M84.76 294.4a1.75 1.75 0 1 0 3.5 0a1.75 1.75 0 1 0 -3.5 0M116.48 268.9a1.75 1.75 0 1 0 3.5 0a1.75 1.75 0 1 0 -3.5 0M134.78 280.6a1.75 1.75 0 1 0 3.5 0a1.75 1.75 0 1 0 -3.5 0M132.12 299.2a1.75 1.75 0 1 0 3.5 0a1.75 1.75 0 1 0 -3.5 0M130.62 288.7a1.75 1.75 0 1 0 3.5 0a1.75 1.75 0 1 0 -3.5 0M139.23 262.7a1.75 1.75 0 1 0 3.5 0a1.75 1.75 0 1 0 -3.5 0M118.69 278.0a1.75 1.75 0 1 0 3.5 0a1.75 1.75 0 1 0 -3.5 0M147.08 282.1a1.75 1.75 0 1 0 3.5 0a1.75 1.75 0 1 0 -3.5 0M155.07 274.6a1.75 1.75 0 1 0 3.5 0a1.75 1.75 0 1 0 -3.5 0M129.44 278.1a1.75 1.75 0 1 0 3.5 0a1.75 1.75 0 1 0 -3.5 0M141.79 291.5a1.75 1.75 0 1 0 3.5 0a1.75 1.75 0 1 0 -3.5 0M130.15 290.7a1.75 1.75 0 1 0 3.5 0a1.75 1.75 0 1 0 -3.5 0M136.87 269.9a1.75 1.75 0 1 0 3.5 0a1.75 1.75 0 1 0 -3.5 0M121.23 270.6a1.75 1.75 0 1 0 3.5 0a1.75 1.75 0 1 0 -3.5 0M132.04 272.4a1.75 1.75 0 1 0 3.5 0a1.75 1.75 0 1 0 -3.5 0M129.23 296.2a1.75 1.75 0 1 0 3.5 0a1.75 1.75 0 1 0 -3.5 0M137.96 263.4a1.75 1.75 0 1 0 3.5 0a1.75 1.75 0 1 0 -3.5 0M140.58 299.4a1.75 1.75 0 1 0 3.5 0a1.75 1.75 0 1 0 -3.5 0M79.13 323.3a1.75 1.75 0 1 0 3.5 0a1.75 1.75 0 1 0 -3.5 0M101.09 303.4a1.75 1.75 0 1 0 3.5 0a1.75 1.75 0 1 0 -3.5 0M85.81 318.6a1.75 1.75 0 1 0 3.5 0a1.75 1.75 0 1 0 -3.5 0M109.55 303.1a1.75 1.75 0 1 0 3.5 0a1.75 1.75 0 1 0 -3.5 0M112.96 311.6a1.75 1.75 0 1 0 3.5 0a1.75 1.75 0 1 0 -3.5 0M85.94 313.2a1.75 1.75 0 1 0 3.5 0a1.75 1.75 0 1 0 -3.5 0M112.00 322.8a1.75 1.75 0 1 0 3.5 0a1.75 1.75 0 1 0 -3.5 0M86.74 319.6a1.75 1.75 0 1 0 3.5 0a1.75 1.75 0 1 0 -3.5 0M90.89 336.8a1.75 1.75 0 1 0 3.5 0a1.75 1.75 0 1 0 -3.5 0M100.04 311.0a1.75 1.75 0 1 0 3.5 0a1.75 1.75 0 1 0 -3.5 0M116.74 334.5a1.75 1.75 0 1 0 3.5 0a1.75 1.75 0 1 0 -3.5 0M97.66 329.4a1.75 1.75 0 1 0 3.5 0a1.75 1.75 0 1 0 -3.5 0M116.14 324.1a1.75 1.75 0 1 0 3.5 0a1.75 1.75 0 1 0 -3.5 0M100.23 332.9a1.75 1.75 0 1 0 3.5 0a1.75 1.75 0 1 0 -3.5 0M88.56 339.0a1.75 1.75 0 1 0 3.5 0a1.75 1.75 0 1 0 -3.5 0M105.62 311.6a1.75 1.75 0 1 0 3.5 0a1.75 1.75 0 1 0 -3.5 0M94.18 364.5a1.75 1.75 0 1 0 3.5 0a1.75 1.75 0 1 0 -3.5 0M81.84 359.2a1.75 1.75 0 1 0 3.5 0a1.75 1.75 0 1 0 -3.5 0M190.69 212.0a1.75 1.75 0 1 0 3.5 0a1.75 1.75 0 1 0 -3.5 0M193.43 204.4a1.75 1.75 0 1 0 3.5 0a1.75 1.75 0 1 0 -3.5 0M176.99 196.1a1.75 1.75 0 1 0 3.5 0a1.75 1.75 0 1 0 -3.5 0M197.95 186.0a1.75 1.75 0 1 0 3.5 0a1.75 1.75 0 1 0 -3.5 0M185.70 192.3a1.75 1.75 0 1 0 3.5 0a1.75 1.75 0 1 0 -3.5 0M164.26 181.5a1.75 1.75 0 1 0 3.5 0a1.75 1.75 0 1 0 -3.5 0M173.15 193.2a1.75 1.75 0 1 0 3.5 0a1.75 1.75 0 1 0 -3.5 0M158.61 186.9a1.75 1.75 0 1 0 3.5 0a1.75 1.75 0 1 0 -3.5 0M161.29 191.4a1.75 1.75 0 1 0 3.5 0a1.75 1.75 0 1 0 -3.5 0M186.79 180.8a1.75 1.75 0 1 0 3.5 0a1.75 1.75 0 1 0 -3.5 0M193.79 232.0a1.75 1.75 0 1 0 3.5 0a1.75 1.75 0 1 0 -3.5 0M167.34 250.4a1.75 1.75 0 1 0 3.5 0a1.75 1.75 0 1 0 -3.5 0M189.51 231.2a1.75 1.75 0 1 0 3.5 0a1.75 1.75 0 1 0 -3.5 0M170.41 242.6a1.75 1.75 0 1 0 3.5 0a1.75 1.75 0 1 0 -3.5 0M191.52 250.2a1.75 1.75 0 1 0 3.5 0a1.75 1.75 0 1 0 -3.5 0M174.28 235.6a1.75 1.75 0 1 0 3.5 0a1.75 1.75 0 1 0 -3.5 0M163.58 254.2a1.75 1.75 0 1 0 3.5 0a1.75 1.75 0 1 0 -3.5 0M190.54 247.1a1.75 1.75 0 1 0 3.5 0a1.75 1.75 0 1 0 -3.5 0M196.25 241.6a1.75 1.75 0 1 0 3.5 0a1.75 1.75 0 1 0 -3.5 0M170.40 258.4a1.75 1.75 0 1 0 3.5 0a1.75 1.75 0 1 0 -3.5 0" fill="#fff" stroke="#1e1e9e" stroke-width="1.15"/></g><g clip-path="url(#cr)"><path d="M393.9 133.4V159.4M391.9 133.4h4.0M391.9 159.4h4.0M390.4 146.4H397.4M390.4 144.4v4.0M397.4 144.4v4.0M381.1 148.2V177.8M379.1 148.2h4.0M379.1 177.8h4.0M377.4 163.0H384.8M377.4 161.0v4.0M384.8 161.0v4.0M397.2 146.7V172.7M395.2 146.7h4.0M395.2 172.7h4.0M393.7 159.7H400.7M393.7 157.7v4.0M400.7 157.7v4.0M382.4 171.3V197.3M380.4 171.3h4.0M380.4 197.3h4.0M379.4 184.3H385.4M379.4 182.3v4.0M385.4 182.3v4.0M384.0 177.9V203.9M382.0 177.9h4.0M382.0 203.9h4.0M381.0 190.9H387.0M381.0 188.9v4.0M387.0 188.9v4.0M380.8 183.7V209.7M378.8 183.7h4.0M378.8 209.7h4.0M377.8 196.7H383.8M377.8 194.7v4.0M383.8 194.7v4.0M385.7 185.3V211.3M383.7 185.3h4.0M383.7 211.3h4.0M382.7 198.3H388.7M382.7 196.3v4.0M388.7 196.3v4.0M376.7 191.9V217.9M374.7 191.9h4.0M374.7 217.9h4.0M373.7 204.9H379.7M373.7 202.9v4.0M379.7 202.9v4.0M394.7 189.4V215.4M392.7 189.4h4.0M392.7 215.4h4.0M391.2 202.4H398.2M391.2 200.4v4.0M398.2 200.4v4.0M397.2 182.8V208.8M395.2 182.8h4.0M395.2 208.8h4.0M393.7 195.8H400.7M393.7 193.8v4.0M400.7 193.8v4.0M382.4 197.6V223.6M380.4 197.6h4.0M380.4 223.6h4.0M379.4 210.6H385.4M379.4 208.6v4.0M385.4 208.6v4.0M390.6 197.6V223.6M388.6 197.6h4.0M388.6 223.6h4.0M387.6 210.6H393.6M387.6 208.6v4.0M393.6 208.6v4.0M457.6 76.1V104.9M455.6 76.1h4.0M455.6 104.9h4.0M448.6 90.5H466.6M448.6 88.5v4.0M466.6 88.5v4.0M448.4 125.8V151.8M446.4 125.8h4.0M446.4 151.8h4.0M442.4 138.8H454.4M442.4 136.8v4.0M454.4 136.8v4.0M453.5 135.0V161.0M451.5 135.0h4.0M451.5 161.0h4.0M447.5 148.0H459.5M447.5 146.0v4.0M459.5 146.0v4.0M400.1 145.3V171.3M398.1 145.3h4.0M398.1 171.3h4.0M396.1 158.3H404.1M396.1 156.3v4.0M404.1 156.3v4.0M408.3 148.4V174.4M406.3 148.4h4.0M406.3 174.4h4.0M404.3 161.4H412.3M404.3 159.4v4.0M412.3 159.4v4.0M406.3 142.8V168.8M404.3 142.8h4.0M404.3 168.8h4.0M402.3 155.8H410.3M402.3 153.8v4.0M410.3 153.8v4.0M427.9 152.5V178.5M425.9 152.5h4.0M425.9 178.5h4.0M422.9 165.5H432.9M422.9 163.5v4.0M432.9 163.5v4.0M446.3 153.5V179.5M444.3 153.5h4.0M444.3 179.5h4.0M440.3 166.5H452.3M440.3 164.5v4.0M452.3 164.5v4.0M470.0 146.3V172.3M468.0 146.3h4.0M468.0 172.3h4.0M461.3 159.3H478.7M461.3 157.3v4.0M478.7 157.3v4.0M483.7 146.3V172.3M481.7 146.3h4.0M481.7 172.3h4.0M474.5 159.3H492.9M474.5 157.3v4.0M492.9 157.3v4.0M461.7 153.5V179.5M459.7 153.5h4.0M459.7 179.5h4.0M454.7 166.5H468.7M454.7 164.5v4.0M468.7 164.5v4.0M510.8 83.5V112.9M508.8 83.5h4.0M508.8 112.9h4.0M499.5 98.2H522.1M499.5 96.2v4.0M522.1 96.2v4.0M587.6 146.3V175.7M585.6 146.3h4.0M585.6 175.7h4.0M570.9 161.0H604.3M570.9 159.0v4.0M604.3 159.0v4.0M508.1 164.3V190.3M506.1 164.3h4.0M506.1 190.3h4.0M497.1 177.3H519.1M497.1 175.3v4.0M519.1 175.3v4.0M506.6 170.4V196.4M504.6 170.4h4.0M504.6 196.4h4.0M496.6 183.4H516.6M496.6 181.4v4.0M516.6 181.4v4.0M509.1 167.2V193.2M507.1 167.2h4.0M507.1 193.2h4.0M499.1 180.2H519.1M499.1 178.2v4.0M519.1 178.2v4.0M540.4 172.2V208.0M538.4 172.2h4.0M538.4 208.0h4.0M525.6 190.1H555.2M525.6 188.1v4.0M555.2 188.1v4.0M542.8 190.9V216.9M540.8 190.9h4.0M540.8 216.9h4.0M533.3 203.9H552.3M533.3 201.9v4.0M552.3 201.9v4.0M518.2 179.0V205.0M516.2 179.0h4.0M516.2 205.0h4.0M508.2 192.0H528.2M508.2 190.0v4.0M528.2 190.0v4.0M519.4 201.4V229.4M517.4 201.4h4.0M517.4 229.4h4.0M508.9 215.4H529.9M508.9 213.4v4.0M529.9 213.4v4.0M586.0 181.2V207.8M584.0 181.2h4.0M584.0 207.8h4.0M574.5 194.5H597.5M574.5 192.5v4.0M597.5 192.5v4.0M584.0 212.8V242.8M582.0 212.8h4.0M582.0 242.8h4.0M571.0 227.8H597.0M571.0 225.8v4.0M597.0 225.8v4.0M493.6 221.7V255.1M491.6 221.7h4.0M491.6 255.1h4.0M483.6 238.4H503.6M483.6 236.4v4.0M503.6 236.4v4.0M505.9 229.6V255.6M503.9 229.6h4.0M503.9 255.6h4.0M495.9 242.6H515.9M495.9 240.6v4.0M515.9 240.6v4.0M488.6 234.5V260.5M486.6 234.5h4.0M486.6 260.5h4.0M479.6 247.5H497.6M479.6 245.5v4.0M497.6 245.5v4.0M483.7 246.8V272.8M481.7 246.8h4.0M481.7 272.8h4.0M474.7 259.8H492.7M474.7 257.8v4.0M492.7 257.8v4.0M552.7 233.7V259.7M550.7 233.7h4.0M550.7 259.7h4.0M539.7 246.7H565.7M539.7 244.7v4.0M565.7 244.7v4.0M529.3 261.8V285.8M527.3 261.8h4.0M527.3 285.8h4.0M520.9 273.8H537.7M520.9 271.8v4.0M537.7 271.8v4.0M484.9 281.9V305.9M482.9 281.9h4.0M482.9 305.9h4.0M475.9 293.9H493.9M475.9 291.9v4.0M493.9 291.9v4.0M556.4 291.7V326.1M554.4 291.7h4.0M554.4 326.1h4.0M542.9 308.9H569.9M542.9 306.9v4.0M569.9 306.9v4.0M496.0 316.4V340.4M494.0 316.4h4.0M494.0 340.4h4.0M486.0 328.4H506.0M486.0 326.4v4.0M506.0 326.4v4.0M504.6 315.6V343.6M502.6 315.6h4.0M502.6 343.6h4.0M493.1 329.6H516.1M493.1 327.6v4.0M516.1 327.6v4.0M497.7 324.5V348.5M495.7 324.5h4.0M495.7 348.5h4.0M487.7 336.5H507.7M487.7 334.5v4.0M507.7 334.5v4.0M522.4 356.0V385.0M520.4 356.0h4.0M520.4 385.0h4.0M512.9 370.5H531.9M512.9 368.5v4.0M531.9 368.5v4.0M563.3 352.8V380.8M561.3 352.8h4.0M561.3 380.8h4.0M551.3 366.8H575.3M551.3 364.8v4.0M575.3 364.8v4.0M476.0 333.0V357.0M474.0 333.0h4.0M474.0 357.0h4.0M468.0 345.0H484.0M468.0 343.0v4.0M484.0 343.0v4.0M424.0 150.2V177.2M422.0 150.2h4.0M422.0 177.2h4.0M416.5 163.7H431.6M416.5 161.7v4.0M431.6 161.7v4.0M420.3 156.7V183.7M418.3 156.7h4.0M418.3 183.7h4.0M413.1 170.2H427.6M413.1 168.2v4.0M427.6 168.2v4.0M425.9 161.3V188.3M423.9 161.3h4.0M423.9 188.3h4.0M418.2 174.8H433.6M418.2 172.8v4.0M433.6 172.8v4.0M473.9 156.7V183.7M471.9 156.7h4.0M471.9 183.7h4.0M462.8 170.2H485.1M462.8 168.2v4.0M485.1 168.2v4.0M409.2 165.0V192.0M407.2 165.0h4.0M407.2 192.0h4.0M402.8 178.5H415.7M402.8 176.5v4.0M415.7 176.5v4.0M405.5 172.4V199.4M403.5 172.4h4.0M403.5 199.4h4.0M399.3 185.9H411.8M399.3 183.9v4.0M411.8 183.9v4.0M418.5 174.2V201.2M416.5 174.2h4.0M416.5 201.2h4.0M411.3 187.7H425.6M411.3 185.7v4.0M425.6 185.7v4.0M437.0 172.4V199.4M435.0 172.4h4.0M435.0 199.4h4.0M428.5 185.9H445.4M428.5 183.9v4.0M445.4 183.9v4.0M442.5 180.7V207.7M440.5 180.7h4.0M440.5 207.7h4.0M433.6 194.2H451.4M433.6 192.2v4.0M451.4 192.2v4.0M427.7 188.1V215.1M425.7 188.1h4.0M425.7 215.1h4.0M419.9 201.6H435.5M419.9 199.6v4.0M435.5 199.6v4.0M436.0 186.2V213.2M434.0 186.2h4.0M434.0 213.2h4.0M427.6 199.7H444.5M427.6 197.7v4.0M444.5 197.7v4.0M452.7 191.8V218.8M450.7 191.8h4.0M450.7 218.8h4.0M443.1 205.3H462.3M443.1 203.3v4.0M462.3 203.3v4.0M461.9 179.8V206.8M459.9 179.8h4.0M459.9 206.8h4.0M451.7 193.3H472.2M451.7 191.3v4.0M472.2 191.3v4.0M465.6 186.2V213.2M463.6 186.2h4.0M463.6 213.2h4.0M455.1 199.7H476.2M455.1 197.7v4.0M476.2 197.7v4.0M475.8 190.9V217.9M473.8 190.9h4.0M473.8 217.9h4.0M464.5 204.4H487.1M464.5 202.4v4.0M487.1 202.4v4.0M481.3 191.8V218.8M479.3 191.8h4.0M479.3 218.8h4.0M469.7 205.3H493.0M469.7 203.3v4.0M493.0 203.3v4.0M402.8 185.3V212.3M400.8 185.3h4.0M400.8 212.3h4.0M396.8 198.8H408.8M396.8 196.8v4.0M408.8 196.8v4.0M411.1 192.7V219.7M409.1 192.7h4.0M409.1 219.7h4.0M404.5 206.2H417.7M404.5 204.2v4.0M417.7 204.2v4.0M423.1 194.6V221.6M421.1 194.6h4.0M421.1 221.6h4.0M415.6 208.1H430.6M415.6 206.1v4.0M430.6 206.1v4.0M442.5 200.1V227.1M440.5 200.1h4.0M440.5 227.1h4.0M433.6 213.6H451.4M433.6 211.6v4.0M451.4 211.6v4.0M455.5 200.1V227.1M453.5 200.1h4.0M453.5 227.1h4.0M445.6 213.6H465.3M445.6 211.6v4.0M465.3 211.6v4.0M462.8 200.1V227.1M460.8 200.1h4.0M460.8 227.1h4.0M452.5 213.6H473.2M452.5 211.6v4.0M473.2 211.6v4.0M403.7 202.0V229.0M401.7 202.0h4.0M401.7 229.0h4.0M397.6 215.5H409.8M397.6 213.5v4.0M409.8 213.5v4.0M416.6 207.5V234.5M414.6 207.5h4.0M414.6 234.5h4.0M409.6 221.0H423.6M409.6 219.0v4.0M423.6 219.0v4.0M431.4 207.5V234.5M429.4 207.5h4.0M429.4 234.5h4.0M423.3 221.0H439.5M423.3 219.0v4.0M439.5 219.0v4.0M444.4 209.3V236.3M442.4 209.3h4.0M442.4 236.3h4.0M435.4 222.8H453.4M435.4 220.8v4.0M453.4 220.8v4.0M437.0 216.7V243.7M435.0 216.7h4.0M435.0 243.7h4.0M428.5 230.2H445.4M428.5 228.2v4.0M445.4 228.2v4.0M444.4 217.7V244.7M442.4 217.7h4.0M442.4 244.7h4.0M435.4 231.2H453.4M435.4 229.2v4.0M453.4 229.2v4.0M456.4 214.9V241.9M454.4 214.9h4.0M454.4 241.9h4.0M446.5 228.4H466.2M446.5 226.4v4.0M466.2 226.4v4.0M464.7 207.5V234.5M462.7 207.5h4.0M462.7 234.5h4.0M454.2 221.0H475.2M454.2 219.0v4.0M475.2 219.0v4.0M471.2 206.6V233.6M469.2 206.6h4.0M469.2 233.6h4.0M460.2 220.1H482.1M460.2 218.1v4.0M482.1 218.1v4.0M422.2 216.7V243.7M420.2 216.7h4.0M420.2 243.7h4.0M414.8 230.2H429.6M414.8 228.2v4.0M429.6 228.2v4.0M410.2 222.3V249.3M408.2 222.3h4.0M408.2 249.3h4.0M403.6 235.8H416.7M403.6 233.8v4.0M416.7 233.8v4.0M418.5 226.0V253.0M416.5 226.0h4.0M416.5 253.0h4.0M411.3 239.5H425.6M411.3 237.5v4.0M425.6 237.5v4.0M424.0 227.8V254.8M422.0 227.8h4.0M422.0 254.8h4.0M416.5 241.3H431.6M416.5 239.3v4.0M431.6 239.3v4.0M437.0 227.8V254.8M435.0 227.8h4.0M435.0 254.8h4.0M428.5 241.3H445.4M428.5 239.3v4.0M445.4 239.3v4.0M451.8 226.0V253.0M449.8 226.0h4.0M449.8 253.0h4.0M442.2 239.5H461.3M442.2 237.5v4.0M461.3 237.5v4.0M459.1 229.7V256.7M457.1 229.7h4.0M457.1 256.7h4.0M449.1 243.2H469.2M449.1 241.2v4.0M469.2 241.2v4.0M466.5 227.8V254.8M464.5 227.8h4.0M464.5 254.8h4.0M455.9 241.3H477.1M455.9 239.3v4.0M477.1 239.3v4.0M472.1 226.0V253.0M470.1 226.0h4.0M470.1 253.0h4.0M461.1 239.5H483.1M461.1 237.5v4.0M483.1 237.5v4.0M479.5 224.1V251.1M477.5 224.1h4.0M477.5 251.1h4.0M467.9 237.6H491.0M467.9 235.6v4.0M491.0 235.6v4.0M485.0 227.8V254.8M483.0 227.8h4.0M483.0 254.8h4.0M473.1 241.3H497.0M473.1 239.3v4.0M497.0 239.3v4.0M407.4 231.5V258.5M405.4 231.5h4.0M405.4 258.5h4.0M401.0 245.0H413.7M401.0 243.0v4.0M413.7 243.0v4.0M427.7 233.4V260.4M425.7 233.4h4.0M425.7 260.4h4.0M419.9 246.9H435.5M419.9 244.9v4.0M435.5 244.9v4.0M444.4 233.4V260.4M442.4 233.4h4.0M442.4 260.4h4.0M435.4 246.9H453.4M435.4 244.9v4.0M453.4 244.9v4.0M341.3 254.5V278.5M339.3 254.5h4.0M339.3 278.5h4.0M339.3 266.5H343.3M339.3 264.5v4.0M343.3 264.5v4.0M346.8 247.2V271.2M344.8 247.2h4.0M344.8 271.2h4.0M344.8 259.2H348.8M344.8 257.2v4.0M348.8 257.2v4.0M347.7 274.0V298.0M345.7 274.0h4.0M345.7 298.0h4.0M345.7 286.0H349.7M345.7 284.0v4.0M349.7 284.0v4.0M352.3 257.3V281.3M350.3 257.3h4.0M350.3 281.3h4.0M350.3 269.3H354.3M350.3 267.3v4.0M354.3 267.3v4.0M362.5 210.5V237.5M360.5 210.5h4.0M360.5 237.5h4.0M359.7 224.0H365.3M359.7 222.0v4.0M365.3 222.0v4.0M367.1 210.5V237.5M365.1 210.5h4.0M365.1 237.5h4.0M364.0 224.0H370.3M364.0 222.0v4.0M370.3 222.0v4.0M371.8 206.8V233.8M369.8 206.8h4.0M369.8 233.8h4.0M368.3 220.3H375.2M368.3 218.3v4.0M375.2 218.3v4.0M375.5 203.1V230.1M373.5 203.1h4.0M373.5 230.1h4.0M371.7 216.6H379.2M371.7 214.6v4.0M379.2 214.6v4.0M381.9 211.5V238.5M379.9 211.5h4.0M379.9 238.5h4.0M377.7 225.0H386.1M377.7 223.0v4.0M386.1 223.0v4.0M386.5 208.7V235.7M384.5 208.7h4.0M384.5 235.7h4.0M382.0 222.2H391.1M382.0 220.2v4.0M391.1 220.2v4.0M390.2 205.0V232.0M388.2 205.0h4.0M388.2 232.0h4.0M385.4 218.5H395.0M385.4 216.5v4.0M395.0 216.5v4.0M395.8 197.6V224.6M393.8 197.6h4.0M393.8 224.6h4.0M390.6 211.1H401.0M390.6 209.1v4.0M401.0 209.1v4.0M400.4 205.0V232.0M398.4 205.0h4.0M398.4 232.0h4.0M394.9 218.5H405.9M394.9 216.5v4.0M405.9 216.5v4.0M397.6 189.3V216.3M395.6 189.3h4.0M395.6 216.3h4.0M392.3 202.8H403.0M392.3 200.8v4.0M403.0 200.8v4.0M401.3 189.3V216.3M399.3 189.3h4.0M399.3 216.3h4.0M395.7 202.8H406.9M395.7 200.8v4.0M406.9 200.8v4.0M405.0 193.9V220.9M403.0 193.9h4.0M403.0 220.9h4.0M399.2 207.4H410.9M399.2 205.4v4.0M410.9 205.4v4.0M392.1 190.2V217.2M390.1 190.2h4.0M390.1 217.2h4.0M387.1 203.7H397.0M387.1 201.7v4.0M397.0 201.7v4.0M362.5 216.1V243.1M360.5 216.1h4.0M360.5 243.1h4.0M359.7 229.6H365.3M359.7 227.6v4.0M365.3 227.6v4.0M369.9 216.1V243.1M367.9 216.1h4.0M367.9 243.1h4.0M366.6 229.6H373.3M366.6 227.6v4.0M373.3 227.6v4.0M365.3 224.4V251.4M363.3 224.4h4.0M363.3 251.4h4.0M362.3 237.9H368.3M362.3 235.9v4.0M368.3 235.9v4.0M377.3 229.9V256.9M375.3 229.9h4.0M375.3 256.9h4.0M373.4 243.4H381.2M373.4 241.4v4.0M381.2 241.4v4.0M383.8 223.5V250.5M381.8 223.5h4.0M381.8 250.5h4.0M379.4 237.0H388.1M379.4 235.0v4.0M388.1 235.0v4.0M392.1 223.5V250.5M390.1 223.5h4.0M390.1 250.5h4.0M387.1 237.0H397.0M387.1 235.0v4.0M397.0 235.0v4.0M397.6 217.9V244.9M395.6 217.9h4.0M395.6 244.9h4.0M392.3 231.4H403.0M392.3 229.4v4.0M403.0 229.4v4.0M405.0 217.9V244.9M403.0 217.9h4.0M403.0 244.9h4.0M399.2 231.4H410.9M399.2 229.4v4.0M410.9 229.4v4.0M358.8 239.2V266.2M356.8 239.2h4.0M356.8 266.2h4.0M356.3 252.7H361.4M356.3 250.7v4.0M361.4 250.7v4.0M363.4 236.4V263.4M361.4 236.4h4.0M361.4 263.4h4.0M360.6 249.9H366.3M360.6 247.9v4.0M366.3 247.9v4.0M373.6 241.0V268.0M371.6 241.0h4.0M371.6 268.0h4.0M370.0 254.5H377.2M370.0 252.5v4.0M377.2 252.5v4.0M381.0 242.0V269.0M379.0 242.0h4.0M379.0 269.0h4.0M376.9 255.5H385.1M376.9 253.5v4.0M385.1 253.5v4.0M388.4 240.1V267.1M386.4 240.1h4.0M386.4 267.1h4.0M383.7 253.6H393.1M383.7 251.6v4.0M393.1 251.6v4.0M395.8 235.5V262.5M393.8 235.5h4.0M393.8 262.5h4.0M390.6 249.0H401.0M390.6 247.0v4.0M401.0 247.0v4.0M403.2 232.7V259.7M401.2 232.7h4.0M401.2 259.7h4.0M397.4 246.2H408.9M397.4 244.2v4.0M408.9 244.2v4.0M357.0 247.5V274.5M355.0 247.5h4.0M355.0 274.5h4.0M354.6 261.0H359.4M354.6 259.0v4.0M359.4 259.0v4.0M366.2 249.3V276.3M364.2 249.3h4.0M364.2 276.3h4.0M363.1 262.8H369.3M363.1 260.8v4.0M369.3 260.8v4.0M377.3 245.6V272.6M375.3 245.6h4.0M375.3 272.6h4.0M373.4 259.1H381.2M373.4 257.1v4.0M381.2 257.1v4.0M383.8 249.3V276.3M381.8 249.3h4.0M381.8 276.3h4.0M379.4 262.8H388.1M379.4 260.8v4.0M388.1 260.8v4.0M393.9 247.5V274.5M391.9 247.5h4.0M391.9 274.5h4.0M388.9 261.0H399.0M388.9 259.0v4.0M399.0 259.0v4.0M363.4 258.6V285.6M361.4 258.6h4.0M361.4 285.6h4.0M360.6 272.1H366.3M360.6 270.1v4.0M366.3 270.1v4.0M373.6 254.9V281.9M371.6 254.9h4.0M371.6 281.9h4.0M370.0 268.4H377.2M370.0 266.4v4.0M377.2 266.4v4.0M379.1 256.7V283.7M377.1 256.7h4.0M377.1 283.7h4.0M375.1 270.2H383.2M375.1 268.2v4.0M383.2 268.2v4.0M389.3 254.9V281.9M387.3 254.9h4.0M387.3 281.9h4.0M384.6 268.4H394.1M384.6 266.4v4.0M394.1 266.4v4.0M397.6 256.7V283.7M395.6 256.7h4.0M395.6 283.7h4.0M392.3 270.2H403.0M392.3 268.2v4.0M403.0 268.2v4.0M405.0 254.0V281.0M403.0 254.0h4.0M403.0 281.0h4.0M399.2 267.5H410.9M399.2 265.5v4.0M410.9 265.5v4.0M362.5 267.8V294.8M360.5 267.8h4.0M360.5 294.8h4.0M359.7 281.3H365.3M359.7 279.3v4.0M365.3 279.3v4.0M369.9 266.0V293.0M367.9 266.0h4.0M367.9 293.0h4.0M366.6 279.5H373.3M366.6 277.5v4.0M373.3 277.5v4.0M378.2 264.1V291.1M376.2 264.1h4.0M376.2 291.1h4.0M374.3 277.6H382.2M374.3 275.6v4.0M382.2 275.6v4.0M386.5 266.0V293.0M384.5 266.0h4.0M384.5 293.0h4.0M382.0 279.5H391.1M382.0 277.5v4.0M391.1 277.5v4.0M393.9 273.4V300.4M391.9 273.4h4.0M391.9 300.4h4.0M388.9 286.9H399.0M388.9 284.9v4.0M399.0 284.9v4.0M403.2 267.8V294.8M401.2 267.8h4.0M401.2 294.8h4.0M397.4 281.3H408.9M397.4 279.3v4.0M408.9 279.3v4.0M357.0 273.4V300.4M355.0 273.4h4.0M355.0 300.4h4.0M354.6 286.9H359.4M354.6 284.9v4.0M359.4 284.9v4.0M368.1 273.4V300.4M366.1 273.4h4.0M366.1 300.4h4.0M364.8 286.9H371.3M364.8 284.9v4.0M371.3 284.9v4.0M382.8 273.4V300.4M380.8 273.4h4.0M380.8 300.4h4.0M378.6 286.9H387.1M378.6 284.9v4.0M387.1 284.9v4.0M334.8 289.5V314.5M332.8 289.5h4.0M332.8 314.5h4.0M332.8 302.0H336.8M332.8 300.0v4.0M336.8 300.0v4.0M340.0 296.1V320.1M338.0 296.1h4.0M338.0 320.1h4.0M338.0 308.1H342.0M338.0 306.1v4.0M342.0 306.1v4.0M329.2 314.0V330.0M327.2 314.0h4.0M327.2 330.0h4.0M327.2 322.0H331.2M327.2 320.0v4.0M331.2 320.0v4.0M347.7 275.2V302.2M345.7 275.2h4.0M345.7 302.2h4.0M345.5 288.7H349.9M345.5 286.7v4.0M349.9 286.7v4.0M352.3 278.9V305.9M350.3 278.9h4.0M350.3 305.9h4.0M350.1 292.4H354.5M350.1 290.4v4.0M354.5 290.4v4.0M357.0 277.0V304.0M355.0 277.0h4.0M355.0 304.0h4.0M354.6 290.5H359.4M354.6 288.5v4.0M359.4 288.5v4.0M346.8 282.6V309.6M344.8 282.6h4.0M344.8 309.6h4.0M344.6 296.1H349.0M344.6 294.1v4.0M349.0 294.1v4.0M349.6 291.8V318.8M347.6 291.8h4.0M347.6 318.8h4.0M347.4 305.3H351.8M347.4 303.3v4.0M351.8 303.3v4.0M348.7 296.5V323.5M346.7 296.5h4.0M346.7 323.5h4.0M346.5 310.0H350.9M346.5 308.0v4.0M350.9 308.0v4.0M352.3 302.0V329.0M350.3 302.0h4.0M350.3 329.0h4.0M350.1 315.5H354.5M350.1 313.5v4.0M354.5 313.5v4.0M360.7 302.0V329.0M358.7 302.0h4.0M358.7 329.0h4.0M358.0 315.5H363.3M358.0 313.5v4.0M363.3 313.5v4.0M366.2 302.9V329.9M364.2 302.9h4.0M364.2 329.9h4.0M363.1 316.4H369.3M363.1 314.4v4.0M369.3 314.4v4.0M369.0 301.1V328.1M367.0 301.1h4.0M367.0 328.1h4.0M365.7 314.6H372.3M365.7 312.6v4.0M372.3 312.6v4.0M364.4 307.5V334.5M362.4 307.5h4.0M362.4 334.5h4.0M361.4 321.0H367.3M361.4 319.0v4.0M367.3 319.0v4.0M359.7 310.3V337.3M357.7 310.3h4.0M357.7 337.3h4.0M357.1 323.8H362.4M357.1 321.8v4.0M362.4 321.8v4.0M368.1 310.3V337.3M366.1 310.3h4.0M366.1 337.3h4.0M364.8 323.8H371.3M364.8 321.8v4.0M371.3 321.8v4.0M373.6 308.5V335.5M371.6 308.5h4.0M371.6 335.5h4.0M370.0 322.0H377.2M370.0 320.0v4.0M377.2 320.0v4.0M379.1 305.7V332.7M377.1 305.7h4.0M377.1 332.7h4.0M375.1 319.2H383.2M375.1 317.2v4.0M383.2 317.2v4.0M384.7 301.1V328.1M382.7 301.1h4.0M382.7 328.1h4.0M380.3 314.6H389.1M380.3 312.6v4.0M389.1 312.6v4.0M388.4 299.2V326.2M386.4 299.2h4.0M386.4 326.2h4.0M383.7 312.7H393.1M383.7 310.7v4.0M393.1 310.7v4.0M382.8 294.6V321.6M380.8 294.6h4.0M380.8 321.6h4.0M378.6 308.1H387.1M378.6 306.1v4.0M387.1 306.1v4.0M391.2 293.7V320.7M389.2 293.7h4.0M389.2 320.7h4.0M386.3 307.2H396.0M386.3 305.2v4.0M396.0 305.2v4.0M396.7 291.8V318.8M394.7 291.8h4.0M394.7 318.8h4.0M391.4 305.3H402.0M391.4 303.3v4.0M402.0 303.3v4.0M401.3 293.7V320.7M399.3 293.7h4.0M399.3 320.7h4.0M395.7 307.2H406.9M395.7 305.2v4.0M406.9 305.2v4.0M405.0 301.1V328.1M403.0 301.1h4.0M403.0 328.1h4.0M399.2 314.6H410.9M399.2 312.6v4.0M410.9 312.6v4.0M349.6 314.0V341.0M347.6 314.0h4.0M347.6 341.0h4.0M347.4 327.5H351.8M347.4 325.5v4.0M351.8 325.5v4.0M355.1 316.8V343.8M353.1 316.8h4.0M353.1 343.8h4.0M352.8 330.3H357.4M352.8 328.3v4.0M357.4 328.3v4.0M362.5 315.9V342.9M360.5 315.9h4.0M360.5 342.9h4.0M359.7 329.4H365.3M359.7 327.4v4.0M365.3 327.4v4.0M368.1 321.4V348.4M366.1 321.4h4.0M366.1 348.4h4.0M364.8 334.9H371.3M364.8 332.9v4.0M371.3 332.9v4.0M375.5 317.7V344.7M373.5 317.7h4.0M373.5 344.7h4.0M371.7 331.2H379.2M371.7 329.2v4.0M379.2 329.2v4.0M381.0 315.9V342.9M379.0 315.9h4.0M379.0 342.9h4.0M376.9 329.4H385.1M376.9 327.4v4.0M385.1 327.4v4.0M386.5 318.6V345.6M384.5 318.6h4.0M384.5 345.6h4.0M382.0 332.1H391.1M382.0 330.1v4.0M391.1 330.1v4.0M354.2 323.3V350.3M352.2 323.3h4.0M352.2 350.3h4.0M352.0 336.8H356.4M352.0 334.8v4.0M356.4 334.8v4.0M358.8 327.0V354.0M356.8 327.0h4.0M356.8 354.0h4.0M356.3 340.5H361.4M356.3 338.5v4.0M361.4 338.5v4.0M364.4 325.1V352.1M362.4 325.1h4.0M362.4 352.1h4.0M361.4 338.6H367.3M361.4 336.6v4.0M367.3 336.6v4.0M371.8 327.0V354.0M369.8 327.0h4.0M369.8 354.0h4.0M368.3 340.5H375.2M368.3 338.5v4.0M375.2 338.5v4.0M379.1 323.3V350.3M377.1 323.3h4.0M377.1 350.3h4.0M375.1 336.8H383.2M375.1 334.8v4.0M383.2 334.8v4.0M384.7 324.2V351.2M382.7 324.2h4.0M382.7 351.2h4.0M380.3 337.7H389.1M380.3 335.7v4.0M389.1 335.7v4.0M355.1 332.5V359.5M353.1 332.5h4.0M353.1 359.5h4.0M352.8 346.0H357.4M352.8 344.0v4.0M357.4 344.0v4.0M360.7 330.6V357.6M358.7 330.6h4.0M358.7 357.6h4.0M358.0 344.1H363.3M358.0 342.1v4.0M363.3 342.1v4.0M368.1 334.3V361.3M366.1 334.3h4.0M366.1 361.3h4.0M364.8 347.8H371.3M364.8 345.8v4.0M371.3 345.8v4.0M373.6 332.5V359.5M371.6 332.5h4.0M371.6 359.5h4.0M370.0 346.0H377.2M370.0 344.0v4.0M377.2 344.0v4.0M382.8 333.4V360.4M380.8 333.4h4.0M380.8 360.4h4.0M378.6 346.9H387.1M378.6 344.9v4.0M387.1 344.9v4.0M390.2 330.6V357.6M388.2 330.6h4.0M388.2 357.6h4.0M385.4 344.1H395.0M385.4 342.1v4.0M395.0 342.1v4.0M351.4 338.0V365.0M349.4 338.0h4.0M349.4 365.0h4.0M349.2 351.5H353.6M349.2 349.5v4.0M353.6 349.5v4.0M358.8 339.9V366.9M356.8 339.9h4.0M356.8 366.9h4.0M356.3 353.4H361.4M356.3 351.4v4.0M361.4 351.4v4.0M366.2 339.9V366.9M364.2 339.9h4.0M364.2 366.9h4.0M363.1 353.4H369.3M363.1 351.4v4.0M369.3 351.4v4.0M373.6 338.0V365.0M371.6 338.0h4.0M371.6 365.0h4.0M370.0 351.5H377.2M370.0 349.5v4.0M377.2 349.5v4.0M393.9 344.5V371.5M391.9 344.5h4.0M391.9 371.5h4.0M388.9 358.0H399.0M388.9 356.0v4.0M399.0 356.0v4.0M349.6 345.4V372.4M347.6 345.4h4.0M347.6 372.4h4.0M347.4 358.9H351.8M347.4 356.9v4.0M351.8 356.9v4.0M357.0 345.4V372.4M355.0 345.4h4.0M355.0 372.4h4.0M354.6 358.9H359.4M354.6 356.9v4.0M359.4 356.9v4.0M364.4 347.3V374.3M362.4 347.3h4.0M362.4 374.3h4.0M361.4 360.8H367.3M361.4 358.8v4.0M367.3 358.8v4.0M369.9 345.4V372.4M367.9 345.4h4.0M367.9 372.4h4.0M366.6 358.9H373.3M366.6 356.9v4.0M373.3 356.9v4.0M345.9 354.7V381.7M343.9 354.7h4.0M343.9 381.7h4.0M343.7 368.2H348.1M343.7 366.2v4.0M348.1 366.2v4.0M353.3 353.8V380.8M351.3 353.8h4.0M351.3 380.8h4.0M351.1 367.3H355.5M351.1 365.3v4.0M355.5 365.3v4.0M360.7 354.7V381.7M358.7 354.7h4.0M358.7 381.7h4.0M358.0 368.2H363.3M358.0 366.2v4.0M363.3 366.2v4.0M369.9 354.7V381.7M367.9 354.7h4.0M367.9 381.7h4.0M366.6 368.2H373.3M366.6 366.2v4.0M373.3 366.2v4.0M386.5 357.5V384.5M384.5 357.5h4.0M384.5 384.5h4.0M382.0 371.0H391.1M382.0 369.0v4.0M391.1 369.0v4.0M375.5 283.5V310.5M373.5 283.5h4.0M373.5 310.5h4.0M371.7 297.0H379.2M371.7 295.0v4.0M379.2 295.0v4.0M368.1 280.7V307.7M366.1 280.7h4.0M366.1 307.7h4.0M364.8 294.2H371.3M364.8 292.2v4.0M371.3 292.2v4.0M379.1 285.4V312.4M377.1 285.4h4.0M377.1 312.4h4.0M375.1 298.9H383.2M375.1 296.9v4.0M383.2 296.9v4.0M401.3 275.2V302.2M399.3 275.2h4.0M399.3 302.2h4.0M395.7 288.7H406.9M395.7 286.7v4.0M406.9 286.7v4.0M390.2 278.9V305.9M388.2 278.9h4.0M388.2 305.9h4.0M385.4 292.4H395.0M385.4 290.4v4.0M395.0 290.4v4.0M349.7 363.0V387.0M347.7 363.0h4.0M347.7 387.0h4.0M347.5 375.0H351.9M347.5 373.0v4.0M351.9 373.0v4.0M353.3 364.7V388.7M351.3 364.7h4.0M351.3 388.7h4.0M351.1 376.7H355.5M351.1 374.7v4.0M355.5 374.7v4.0M355.8 356.3V380.3M353.8 356.3h4.0M353.8 380.3h4.0M353.5 368.3H358.1M353.5 366.3v4.0M358.1 366.3v4.0M356.7 360.5V384.5M354.7 360.5h4.0M354.7 384.5h4.0M354.3 372.5H359.1M354.3 370.5v4.0M359.1 370.5v4.0M364.2 358.8V382.8M362.2 358.8h4.0M362.2 382.8h4.0M361.3 370.8H367.1M361.3 368.8v4.0M367.1 368.8v4.0M369.2 360.5V384.5M367.2 360.5h4.0M367.2 384.5h4.0M365.9 372.5H372.5M365.9 370.5v4.0M372.5 370.5v4.0M347.5 368.8V392.8M345.5 368.8h4.0M345.5 392.8h4.0M345.3 380.8H349.7M345.3 378.8v4.0M349.7 378.8v4.0M345.8 382.2V406.2M343.8 382.2h4.0M343.8 406.2h4.0M343.6 394.2H348.0M343.6 392.2v4.0M348.0 392.2v4.0M353.3 378.8V402.8M351.3 378.8h4.0M351.3 402.8h4.0M351.1 390.8H355.5M351.1 388.8v4.0M355.5 388.8v4.0M355.8 387.2V411.2M353.8 387.2h4.0M353.8 411.2h4.0M353.5 399.2H358.1M353.5 397.2v4.0M358.1 397.2v4.0M353.8 395.0V419.0M351.8 395.0h4.0M351.8 419.0h4.0M351.6 407.0H356.0M351.6 405.0v4.0M356.0 405.0v4.0M358.3 397.2V421.2M356.3 397.2h4.0M356.3 421.2h4.0M355.8 409.2H360.8M355.8 407.2v4.0M360.8 407.2v4.0M357.0 399.7V423.7M355.0 399.7h4.0M355.0 423.7h4.0M354.6 411.7H359.4M354.6 409.7v4.0M359.4 409.7v4.0M355.8 404.7V428.7M353.8 404.7h4.0M353.8 428.7h4.0M353.5 416.7H358.1M353.5 414.7v4.0M358.1 414.7v4.0M363.3 405.5V429.5M361.3 405.5h4.0M361.3 429.5h4.0M360.4 417.5H366.2M360.4 415.5v4.0M366.2 415.5v4.0M345.8 399.7V419.7M343.8 399.7h4.0M343.8 419.7h4.0M343.3 409.7H348.3M343.3 407.7v4.0M348.3 407.7v4.0M368.7 409.3V437.3M366.7 409.3h4.0M366.7 437.3h4.0M365.2 423.3H372.2M365.2 421.3v4.0M372.2 421.3v4.0M401.2 375.0V406.6M399.2 375.0h4.0M399.2 406.6h4.0M396.2 390.8H406.2M396.2 388.8v4.0M406.2 388.8v4.0M412.0 263.5V290.5M410.0 263.5h4.0M410.0 290.5h4.0M405.3 277.0H418.7M405.3 275.0v4.0M418.7 275.0v4.0M419.4 245.0V272.0M417.4 245.0h4.0M417.4 272.0h4.0M412.2 258.5H426.6M412.2 256.5v4.0M426.6 256.5v4.0M424.0 251.5V278.5M422.0 251.5h4.0M422.0 278.5h4.0M416.5 265.0H431.6M416.5 263.0v4.0M431.6 263.0v4.0M431.4 250.5V277.5M429.4 250.5h4.0M429.4 277.5h4.0M423.3 264.0H439.5M423.3 262.0v4.0M439.5 262.0v4.0M437.0 251.5V278.5M435.0 251.5h4.0M435.0 278.5h4.0M428.5 265.0H445.4M428.5 263.0v4.0M445.4 263.0v4.0M424.0 270.9V297.9M422.0 270.9h4.0M422.0 297.9h4.0M416.5 284.4H431.6M416.5 282.4v4.0M431.6 282.4v4.0M434.2 271.8V298.8M432.2 271.8h4.0M432.2 298.8h4.0M425.9 285.3H442.5M425.9 283.3v4.0M442.5 283.3v4.0M411.1 273.6V300.6M409.1 273.6h4.0M409.1 300.6h4.0M404.5 287.1H417.7M404.5 285.1v4.0M417.7 285.1v4.0M403.7 275.5V302.5M401.7 275.5h4.0M401.7 302.5h4.0M397.6 289.0H409.8M397.6 287.0v4.0M409.8 287.0v4.0M409.2 288.4V315.4M407.2 288.4h4.0M407.2 315.4h4.0M402.8 301.9H415.7M402.8 299.9v4.0M415.7 299.9v4.0M419.4 289.3V316.3M417.4 289.3h4.0M417.4 316.3h4.0M412.2 302.8H426.6M412.2 300.8v4.0M426.6 300.8v4.0M426.8 287.5V314.5M424.8 287.5h4.0M424.8 314.5h4.0M419.1 301.0H434.5M419.1 299.0v4.0M434.5 299.0v4.0M435.1 290.3V317.3M433.1 290.3h4.0M433.1 317.3h4.0M426.8 303.8H443.5M426.8 301.8v4.0M443.5 301.8v4.0M446.2 293.0V320.0M444.2 293.0h4.0M444.2 320.0h4.0M437.1 306.5H455.3M437.1 304.5v4.0M455.3 304.5v4.0M449.0 282.0V309.0M447.0 282.0h4.0M447.0 309.0h4.0M439.6 295.5H458.3M439.6 293.5v4.0M458.3 293.5v4.0M458.2 280.1V307.1M456.2 280.1h4.0M456.2 307.1h4.0M448.2 293.6H468.2M448.2 291.6v4.0M468.2 291.6v4.0M464.7 245.0V272.0M462.7 245.0h4.0M462.7 272.0h4.0M454.2 258.5H475.2M454.2 256.5v4.0M475.2 256.5v4.0M474.9 262.5V289.5M472.9 262.5h4.0M472.9 289.5h4.0M463.7 276.0H486.1M463.7 274.0v4.0M486.1 274.0v4.0M478.6 254.2V281.2M476.6 254.2h4.0M476.6 281.2h4.0M467.1 267.7H490.0M467.1 265.7v4.0M490.0 265.7v4.0M457.3 257.0V284.0M455.3 257.0h4.0M455.3 284.0h4.0M447.4 270.5H467.2M447.4 268.5v4.0M467.2 268.5v4.0M444.4 237.6V264.6M442.4 237.6h4.0M442.4 264.6h4.0M435.4 251.1H453.4M435.4 249.1v4.0M453.4 249.1v4.0M451.8 232.0V259.0M449.8 232.0h4.0M449.8 259.0h4.0M442.2 245.5H461.3M442.2 243.5v4.0M461.3 243.5v4.0M461.0 235.7V262.7M459.0 235.7h4.0M459.0 262.7h4.0M450.8 249.2H471.2M450.8 247.2v4.0M471.2 247.2v4.0M470.2 232.0V259.0M468.2 232.0h4.0M468.2 259.0h4.0M459.4 245.5H481.1M459.4 243.5v4.0M481.1 243.5v4.0M408.3 311.5V338.5M406.3 311.5h4.0M406.3 338.5h4.0M401.9 325.0H414.7M401.9 323.0v4.0M414.7 323.0v4.0M477.6 314.3V341.3M475.6 314.3h4.0M475.6 341.3h4.0M466.2 327.8H489.0M466.2 325.8v4.0M489.0 325.8v4.0M431.4 230.2V257.2M429.4 230.2h4.0M429.4 257.2h4.0M423.3 243.7H439.5M423.3 241.7v4.0M439.5 241.7v4.0M418.5 234.8V261.8M416.5 234.8h4.0M416.5 261.8h4.0M411.3 248.3H425.6M411.3 246.3v4.0M425.6 246.3v4.0M419.9 327.6V353.2M417.9 327.6h4.0M417.9 353.2h4.0M413.9 340.4H425.9M413.9 338.4v4.0M425.9 338.4v4.0M440.3 395.1V422.5M438.3 395.1h4.0M438.3 422.5h4.0M433.8 408.8H446.8M433.8 406.8v4.0M446.8 406.8v4.0M387.2 174.5V196.6M385.2 174.5h4.0M385.2 196.6h4.0M384.1 185.6H390.4M384.1 183.6v4.0M390.4 183.6v4.0M392.0 194.2V220.1M390.0 194.2h4.0M390.0 220.1h4.0M387.9 207.1H396.1M387.9 205.1v4.0M396.1 205.1v4.0M390.1 181.9V207.9M388.1 181.9h4.0M388.1 207.9h4.0M386.6 194.9H393.6M386.6 192.9v4.0M393.6 192.9v4.0M376.8 189.3V214.9M374.8 189.3h4.0M374.8 214.9h4.0M372.7 202.1H380.8M372.7 200.1v4.0M380.8 200.1v4.0M385.3 184.0V206.5M383.3 184.0h4.0M383.3 206.5h4.0M381.3 195.2H389.3M381.3 193.2v4.0M389.3 193.2v4.0M397.3 170.8V202.1M395.3 170.8h4.0M395.3 202.1h4.0M393.4 186.5H401.3M393.4 184.5v4.0M401.3 184.5v4.0M369.3 236.5V265.1M367.3 236.5h4.0M367.3 265.1h4.0M364.8 250.8H373.9M364.8 248.8v4.0M373.9 248.8v4.0M379.0 205.5V230.3M377.0 205.5h4.0M377.0 230.3h4.0M376.3 217.9H381.6M376.3 215.9v4.0M381.6 215.9v4.0M398.7 204.9V227.6M396.7 204.9h4.0M396.7 227.6h4.0M394.7 216.3H402.7M394.7 214.3v4.0M402.7 214.3v4.0M360.6 225.5V256.6M358.6 225.5h4.0M358.6 256.6h4.0M356.4 241.0H364.7M356.4 239.0v4.0M364.7 239.0v4.0M380.0 208.2V239.1M378.0 208.2h4.0M378.0 239.1h4.0M376.3 223.7H383.8M376.3 221.7v4.0M383.8 221.7v4.0M382.8 214.4V245.0M380.8 214.4h4.0M380.8 245.0h4.0M379.8 229.7H385.8M379.8 227.7v4.0M385.8 227.7v4.0M400.5 238.2V269.2M398.5 238.2h4.0M398.5 269.2h4.0M397.3 253.7H403.6M397.3 251.7v4.0M403.6 251.7v4.0M374.9 229.6V260.4M372.9 229.6h4.0M372.9 260.4h4.0M371.9 245.0H378.0M371.9 243.0v4.0M378.0 243.0v4.0M374.7 247.2V272.1M372.7 247.2h4.0M372.7 272.1h4.0M371.0 259.6H378.4M371.0 257.6v4.0M378.4 257.6v4.0M366.6 202.3V229.6M364.6 202.3h4.0M364.6 229.6h4.0M363.5 216.0H369.7M363.5 214.0v4.0M369.7 214.0v4.0M363.9 220.0V246.4M361.9 220.0h4.0M361.9 246.4h4.0M360.4 233.2H367.4M360.4 231.2v4.0M367.4 231.2v4.0M373.2 235.6V261.8M371.2 235.6h4.0M371.2 261.8h4.0M370.2 248.7H376.2M370.2 246.7v4.0M376.2 246.7v4.0M396.8 236.6V263.1M394.8 236.6h4.0M394.8 263.1h4.0M392.6 249.8H401.1M392.6 247.8v4.0M401.1 247.8v4.0M358.3 230.7V255.4M356.3 230.7h4.0M356.3 255.4h4.0M354.2 243.1H362.3M354.2 241.1v4.0M362.3 241.1v4.0M392.4 242.3V272.0M390.4 242.3h4.0M390.4 272.0h4.0M389.0 257.1H395.7M389.0 255.1v4.0M395.7 255.1v4.0M372.0 210.2V235.4M370.0 210.2h4.0M370.0 235.4h4.0M369.4 222.8H374.7M369.4 220.8v4.0M374.7 220.8v4.0M383.7 257.6V284.9M381.7 257.6h4.0M381.7 284.9h4.0M379.9 271.2H387.4M379.9 269.2v4.0M387.4 269.2v4.0M389.7 264.0V295.0M387.7 264.0h4.0M387.7 295.0h4.0M385.5 279.5H393.8M385.5 277.5v4.0M393.8 277.5v4.0M404.9 266.4V296.2M402.9 266.4h4.0M402.9 296.2h4.0M401.6 281.3H408.3M401.6 279.3v4.0M408.3 279.3v4.0M356.8 265.4V290.1M354.8 265.4h4.0M354.8 290.1h4.0M353.0 277.8H360.7M353.0 275.8v4.0M360.7 275.8v4.0M399.8 270.3V294.0M397.8 270.3h4.0M397.8 294.0h4.0M395.9 282.2H403.6M395.9 280.2v4.0M403.6 280.2v4.0M403.5 239.9V269.5M401.5 239.9h4.0M401.5 269.5h4.0M398.9 254.7H408.0M398.9 252.7v4.0M408.0 252.7v4.0M393.1 237.9V269.9M391.1 237.9h4.0M391.1 269.9h4.0M389.0 253.9H397.3M389.0 251.9v4.0M397.3 251.9v4.0M394.8 269.7V301.3M392.8 269.7h4.0M392.8 301.3h4.0M390.3 285.5H399.3M390.3 283.5v4.0M399.3 283.5v4.0M366.5 265.3V288.2M364.5 265.3h4.0M364.5 288.2h4.0M361.6 276.7H371.4M361.6 274.7v4.0M371.4 274.7v4.0M399.9 238.1V267.4M397.9 238.1h4.0M397.9 267.4h4.0M397.3 252.8H402.5M397.3 250.8v4.0M402.5 250.8v4.0M374.4 265.4V287.7M372.4 265.4h4.0M372.4 287.7h4.0M371.5 276.6H377.2M371.5 274.6v4.0M377.2 274.6v4.0M390.3 276.7V301.4M388.3 276.7h4.0M388.3 301.4h4.0M385.6 289.0H395.0M385.6 287.0v4.0M395.0 287.0v4.0M404.1 262.3V289.6M402.1 262.3h4.0M402.1 289.6h4.0M399.9 276.0H408.2M399.9 274.0v4.0M408.2 274.0v4.0M390.0 249.3V274.9M388.0 249.3h4.0M388.0 274.9h4.0M385.8 262.1H394.2M385.8 260.1v4.0M394.2 260.1v4.0M367.2 271.8V299.7M365.2 271.8h4.0M365.2 299.7h4.0M363.0 285.7H371.3M363.0 283.7v4.0M371.3 283.7v4.0M374.6 253.9V280.3M372.6 253.9h4.0M372.6 280.3h4.0M370.5 267.1H378.7M370.5 265.1v4.0M378.7 265.1v4.0M401.2 259.0V283.4M399.2 259.0h4.0M399.2 283.4h4.0M396.8 271.2H405.6M396.8 269.2v4.0M405.6 269.2v4.0M384.9 270.9V299.0M382.9 270.9h4.0M382.9 299.0h4.0M380.0 284.9H389.8M380.0 282.9v4.0M389.8 282.9v4.0M388.0 237.9V262.4M386.0 237.9h4.0M386.0 262.4h4.0M385.1 250.2H390.9M385.1 248.2v4.0M390.9 248.2v4.0M392.3 252.6V283.4M390.3 252.6h4.0M390.3 283.4h4.0M388.1 268.0H396.5M388.1 266.0v4.0M396.5 266.0v4.0M353.1 309.5V339.1M351.1 309.5h4.0M351.1 339.1h4.0M349.1 324.3H357.0M349.1 322.3v4.0M357.0 322.3v4.0M360.0 354.4V377.9M358.0 354.4h4.0M358.0 377.9h4.0M357.0 366.1H363.0M357.0 364.1v4.0M363.0 364.1v4.0M376.0 286.0V317.1M374.0 286.0h4.0M374.0 317.1h4.0M372.7 301.6H379.4M372.7 299.6v4.0M379.4 299.6v4.0M388.2 343.0V370.3M386.2 343.0h4.0M386.2 370.3h4.0M384.0 356.7H392.5M384.0 354.7v4.0M392.5 354.7v4.0M359.8 352.9V375.1M357.8 352.9h4.0M357.8 375.1h4.0M357.3 364.0H362.3M357.3 362.0v4.0M362.3 362.0v4.0M381.7 332.7V355.0M379.7 332.7h4.0M379.7 355.0h4.0M379.1 343.9H384.3M379.1 341.9v4.0M384.3 341.9v4.0M374.4 316.5V343.4M372.4 316.5h4.0M372.4 343.4h4.0M369.7 329.9H379.1M369.7 327.9v4.0M379.1 327.9v4.0M366.3 327.3V353.3M364.3 327.3h4.0M364.3 353.3h4.0M361.3 340.3H371.3M361.3 338.3v4.0M371.3 338.3v4.0M390.4 353.6V376.3M388.4 353.6h4.0M388.4 376.3h4.0M385.8 364.9H395.1M385.8 362.9v4.0M395.1 362.9v4.0M381.0 315.3V339.6M379.0 315.3h4.0M379.0 339.6h4.0M376.5 327.4H385.6M376.5 325.4v4.0M385.6 325.4v4.0M377.8 290.9V321.1M375.8 290.9h4.0M375.8 321.1h4.0M374.9 306.0H380.7M374.9 304.0v4.0M380.7 304.0v4.0M368.1 294.6V317.1M366.1 294.6h4.0M366.1 317.1h4.0M364.6 305.9H371.6M364.6 303.9v4.0M371.6 303.9v4.0M389.5 327.4V355.5M387.5 327.4h4.0M387.5 355.5h4.0M385.3 341.4H393.7M385.3 339.4v4.0M393.7 339.4v4.0M360.2 317.5V344.6M358.2 317.5h4.0M358.2 344.6h4.0M356.7 331.0H363.6M356.7 329.0v4.0M363.6 329.0v4.0M374.9 347.7V376.8M372.9 347.7h4.0M372.9 376.8h4.0M371.8 362.2H378.0M371.8 360.2v4.0M378.0 360.2v4.0M374.4 289.7V319.5M372.4 289.7h4.0M372.4 319.5h4.0M369.5 304.6H379.3M369.5 302.6v4.0M379.3 302.6v4.0M370.4 351.5V378.1M368.4 351.5h4.0M368.4 378.1h4.0M367.4 364.8H373.4M367.4 362.8v4.0M373.4 362.8v4.0M369.9 331.2V360.3M367.9 331.2h4.0M367.9 360.3h4.0M365.9 345.8H373.9M365.9 343.8v4.0M373.9 343.8v4.0M367.8 371.0V396.9M365.8 371.0h4.0M365.8 396.9h4.0M363.2 384.0H372.4M363.2 382.0v4.0M372.4 382.0v4.0M370.5 370.3V399.2M368.5 370.3h4.0M368.5 399.2h4.0M366.3 384.8H374.7M366.3 382.8v4.0M374.7 382.8v4.0M358.5 376.3V401.2M356.5 376.3h4.0M356.5 401.2h4.0M355.0 388.8H361.9M355.0 386.8v4.0M361.9 386.8v4.0M362.2 359.2V390.2M360.2 359.2h4.0M360.2 390.2h4.0M358.2 374.7H366.3M358.2 372.7v4.0M366.3 372.7v4.0M371.6 376.5V408.0M369.6 376.5h4.0M369.6 408.0h4.0M367.2 392.2H376.1M367.2 390.2v4.0M376.1 390.2v4.0M370.6 367.4V390.6M368.6 367.4h4.0M368.6 390.6h4.0M366.3 379.0H374.8M366.3 377.0v4.0M374.8 377.0v4.0M369.4 367.1V397.6M367.4 367.1h4.0M367.4 397.6h4.0M366.8 382.4H372.1M366.8 380.4v4.0M372.1 380.4v4.0M355.7 364.9V396.1M353.7 364.9h4.0M353.7 396.1h4.0M350.8 380.5H360.7M350.8 378.5v4.0M360.7 378.5v4.0M365.7 383.3V414.1M363.7 383.3h4.0M363.7 414.1h4.0M360.8 398.7H370.6M360.8 396.7v4.0M370.6 396.7v4.0M365.3 376.2V400.0M363.3 376.2h4.0M363.3 400.0h4.0M361.1 388.1H369.5M361.1 386.1v4.0M369.5 386.1v4.0" stroke="#1e1e9e" stroke-width="1.2" fill="none"/><path d="M368.4 116.8V144.8M366.4 116.8h4.0M366.4 144.8h4.0M366.4 130.8H370.4M366.4 128.8v4.0M370.4 128.8v4.0M346.8 136.3V161.3M344.8 136.3h4.0M344.8 161.3h4.0M344.8 148.8H348.8M344.8 146.8v4.0M348.8 146.8v4.0M361.0 137.1V162.1M359.0 137.1h4.0M359.0 162.1h4.0M359.0 149.6H363.0M359.0 147.6v4.0M363.0 147.6v4.0M394.7 122.9V152.5M392.7 122.9h4.0M392.7 152.5h4.0M391.2 137.7H398.2M391.2 135.7v4.0M398.2 135.7v4.0M389.8 130.9V156.9M387.8 130.9h4.0M387.8 156.9h4.0M386.3 143.9H393.3M386.3 141.9v4.0M393.3 141.9v4.0M353.7 136.2V148.2M351.7 136.2h4.0M351.7 148.2h4.0M351.7 142.2H355.7M351.7 140.2v4.0M355.7 140.2v4.0M353.7 146.3V176.3M351.7 146.3h4.0M351.7 176.3h4.0M351.7 161.3H355.7M351.7 159.3v4.0M355.7 159.3v4.0M362.4 163.0V191.0M360.4 163.0h4.0M360.4 191.0h4.0M359.9 177.0H364.9M359.9 175.0v4.0M364.9 175.0v4.0M368.4 157.5V185.5M366.4 157.5h4.0M366.4 185.5h4.0M365.9 171.5H370.9M365.9 169.5v4.0M370.9 169.5v4.0M373.4 158.5V186.5M371.4 158.5h4.0M371.4 186.5h4.0M370.4 172.5H376.4M370.4 170.5v4.0M376.4 170.5v4.0M361.4 177.9V203.9M359.4 177.9h4.0M359.4 203.9h4.0M358.9 190.9H363.9M358.9 188.9v4.0M363.9 188.9v4.0M375.0 179.5V205.5M373.0 179.5h4.0M373.0 205.5h4.0M372.0 192.5H378.0M372.0 190.5v4.0M378.0 190.5v4.0M357.4 188.1V214.1M355.4 188.1h4.0M355.4 214.1h4.0M354.9 201.1H359.9M354.9 199.1v4.0M359.9 199.1v4.0M366.0 197.9V223.9M364.0 197.9h4.0M364.0 223.9h4.0M363.5 210.9H368.5M363.5 208.9v4.0M368.5 208.9v4.0M386.5 154.7V182.7M384.5 154.7h4.0M384.5 182.7h4.0M383.5 168.7H389.5M383.5 166.7v4.0M389.5 166.7v4.0M381.6 160.7V186.7M379.6 160.7h4.0M379.6 186.7h4.0M378.6 173.7H384.6M378.6 171.7v4.0M384.6 171.7v4.0M392.2 171.3V197.3M390.2 171.3h4.0M390.2 197.3h4.0M388.7 184.3H395.7M388.7 182.3v4.0M395.7 182.3v4.0M396.4 171.3V197.3M394.4 171.3h4.0M394.4 197.3h4.0M392.9 184.3H399.9M392.9 182.3v4.0M399.9 182.3v4.0M340.3 207.8V238.4M338.3 207.8h4.0M338.3 238.4h4.0M338.3 223.1H342.3M338.3 221.1v4.0M342.3 221.1v4.0M427.9 78.7V106.5M425.9 78.7h4.0M425.9 106.5h4.0M421.5 92.6H434.3M421.5 90.6v4.0M434.3 90.6v4.0M452.9 95.6V119.6M450.9 95.6h4.0M450.9 119.6h4.0M446.9 107.6H458.9M446.9 105.6v4.0M458.9 105.6v4.0M453.5 101.5V125.5M451.5 101.5h4.0M451.5 125.5h4.0M447.5 113.5H459.5M447.5 111.5v4.0M459.5 111.5v4.0M420.7 124.8V150.8M418.7 124.8h4.0M418.7 150.8h4.0M415.7 137.8H425.7M415.7 135.8v4.0M425.7 135.8v4.0M422.1 128.9V154.9M420.1 128.9h4.0M420.1 154.9h4.0M417.1 141.9H427.1M417.1 139.9v4.0M427.1 139.9v4.0M483.7 122.8V153.6M481.7 122.8h4.0M481.7 153.6h4.0M473.4 138.2H494.0M473.4 136.2v4.0M494.0 136.2v4.0M445.9 126.8V152.8M443.9 126.8h4.0M443.9 152.8h4.0M439.9 139.8H451.9M439.9 137.8v4.0M451.9 137.8v4.0M424.8 154.5V180.5M422.8 154.5h4.0M422.8 180.5h4.0M419.8 167.5H429.8M419.8 165.5v4.0M429.8 165.5v4.0M587.6 139.6V173.0M585.6 139.6h4.0M585.6 173.0h4.0M570.9 156.3H604.3M570.9 154.3v4.0M604.3 154.3v4.0M505.8 160.5V186.5M503.8 160.5h4.0M503.8 186.5h4.0M493.4 173.5H518.2M493.4 171.5v4.0M518.2 171.5v4.0M519.4 171.1V197.1M517.4 171.1h4.0M517.4 197.1h4.0M508.4 184.1H530.4M508.4 182.1v4.0M530.4 182.1v4.0M510.8 177.8V203.8M508.8 177.8h4.0M508.8 203.8h4.0M500.8 190.8H520.8M500.8 188.8v4.0M520.8 188.8v4.0M509.1 199.7V227.7M507.1 199.7h4.0M507.1 227.7h4.0M497.6 213.7H520.6M497.6 211.7v4.0M520.6 211.7v4.0M540.4 211.0V243.0M538.4 211.0h4.0M538.4 243.0h4.0M524.6 227.0H556.2M524.6 225.0v4.0M556.2 225.0v4.0M556.9 222.4V250.4M554.9 222.4h4.0M554.9 250.4h4.0M543.4 236.4H570.4M543.4 234.4v4.0M570.4 234.4v4.0M518.2 224.4V252.4M516.2 224.4h4.0M516.2 252.4h4.0M507.2 238.4H529.2M507.2 236.4v4.0M529.2 236.4v4.0M552.7 239.6V267.6M550.7 239.6h4.0M550.7 267.6h4.0M539.7 253.6H565.7M539.7 251.6v4.0M565.7 251.6v4.0M484.4 241.4V267.4M482.4 241.4h4.0M482.4 267.4h4.0M475.4 254.4H493.4M475.4 252.4v4.0M493.4 252.4v4.0M494.8 260.6V288.6M492.8 260.6h4.0M492.8 288.6h4.0M483.8 274.6H505.8M483.8 272.6v4.0M505.8 272.6v4.0M586.0 263.8V291.8M584.0 263.8h4.0M584.0 291.8h4.0M573.0 277.8H599.0M573.0 275.8v4.0M599.0 275.8v4.0M479.0 200.0V226.0M477.0 200.0h4.0M477.0 226.0h4.0M470.0 213.0H488.0M470.0 211.0v4.0M488.0 211.0v4.0M504.6 269.8V295.8M502.6 269.8h4.0M502.6 295.8h4.0M493.6 282.8H515.6M493.6 280.8v4.0M515.6 280.8v4.0M505.9 277.2V303.2M503.9 277.2h4.0M503.9 303.2h4.0M495.9 290.2H515.9M495.9 288.2v4.0M515.9 288.2v4.0M488.6 286.1V312.1M486.6 286.1h4.0M486.6 312.1h4.0M479.6 299.1H497.6M479.6 297.1v4.0M497.6 297.1v4.0M498.5 295.7V319.7M496.5 295.7h4.0M496.5 319.7h4.0M490.1 307.7H506.9M490.1 305.7v4.0M506.9 305.7v4.0M522.4 305.9V321.9M520.4 305.9h4.0M520.4 321.9h4.0M512.9 313.9H531.9M512.9 311.9v4.0M531.9 311.9v4.0M529.8 272.1V290.1M527.8 272.1h4.0M527.8 290.1h4.0M521.4 281.1H538.2M521.4 279.1v4.0M538.2 279.1v4.0M542.8 276.0V296.0M540.8 276.0h4.0M540.8 296.0h4.0M533.0 286.0H552.6M533.0 284.0v4.0M552.6 284.0v4.0M563.3 273.0V295.0M561.3 273.0h4.0M561.3 295.0h4.0M551.3 284.0H575.3M551.3 282.0v4.0M575.3 282.0v4.0M584.0 327.9V352.5M582.0 327.9h4.0M582.0 352.5h4.0M568.5 340.2H599.5M568.5 338.2v4.0M599.5 338.2v4.0M457.3 162.2V189.2M455.3 162.2h4.0M455.3 189.2h4.0M447.4 175.7H467.2M447.4 173.7v4.0M467.2 173.7v4.0M445.3 167.8V194.8M443.3 167.8h4.0M443.3 194.8h4.0M436.2 181.3H454.4M436.2 179.3v4.0M454.4 179.3v4.0M421.3 165.9V192.9M419.3 165.9h4.0M419.3 192.9h4.0M413.9 179.4H428.6M413.9 177.4v4.0M428.6 177.4v4.0M410.2 170.5V197.5M408.2 170.5h4.0M408.2 197.5h4.0M403.6 184.0H416.7M403.6 182.0v4.0M416.7 182.0v4.0M437.0 170.5V197.5M435.0 170.5h4.0M435.0 197.5h4.0M428.5 184.0H445.4M428.5 182.0v4.0M445.4 182.0v4.0M463.8 173.3V200.3M461.8 173.3h4.0M461.8 200.3h4.0M453.4 186.8H474.2M453.4 184.8v4.0M474.2 184.8v4.0M471.2 172.4V199.4M469.2 172.4h4.0M469.2 199.4h4.0M460.2 185.9H482.1M460.2 183.9v4.0M482.1 183.9v4.0M429.6 175.2V202.2M427.6 175.2h4.0M427.6 202.2h4.0M421.6 188.7H437.5M421.6 186.7v4.0M437.5 186.7v4.0M434.2 182.5V209.5M432.2 182.5h4.0M432.2 209.5h4.0M425.9 196.0H442.5M425.9 194.0v4.0M442.5 194.0v4.0M422.2 195.5V222.5M420.2 195.5h4.0M420.2 222.5h4.0M414.8 209.0H429.6M414.8 207.0v4.0M429.6 207.0v4.0M449.0 201.0V228.0M447.0 201.0h4.0M447.0 228.0h4.0M439.6 214.5H458.3M439.6 212.5v4.0M458.3 212.5v4.0M442.5 202.0V229.0M440.5 202.0h4.0M440.5 229.0h4.0M433.6 215.5H451.4M433.6 213.5v4.0M451.4 213.5v4.0M407.4 190.9V217.9M405.4 190.9h4.0M405.4 217.9h4.0M401.0 204.4H413.7M401.0 202.4v4.0M413.7 202.4v4.0M406.5 205.6V232.6M404.5 205.6h4.0M404.5 232.6h4.0M400.2 219.1H412.7M400.2 217.1v4.0M412.7 217.1v4.0M437.0 205.6V232.6M435.0 205.6h4.0M435.0 232.6h4.0M428.5 219.1H445.4M428.5 217.1v4.0M445.4 217.1v4.0M461.0 214.9V241.9M459.0 214.9h4.0M459.0 241.9h4.0M450.8 228.4H471.2M450.8 226.4v4.0M471.2 226.4v4.0M468.4 215.8V242.8M466.4 215.8h4.0M466.4 242.8h4.0M457.7 229.3H479.1M457.7 227.3v4.0M479.1 227.3v4.0M477.6 222.3V249.3M475.6 222.3h4.0M475.6 249.3h4.0M466.2 235.8H489.0M466.2 233.8v4.0M489.0 233.8v4.0M444.4 222.3V249.3M442.4 222.3h4.0M442.4 249.3h4.0M435.4 235.8H453.4M435.4 233.8v4.0M453.4 233.8v4.0M422.2 218.6V245.6M420.2 218.6h4.0M420.2 245.6h4.0M414.8 232.1H429.6M414.8 230.1v4.0M429.6 230.1v4.0M437.0 230.6V257.6M435.0 230.6h4.0M435.0 257.6h4.0M428.5 244.1H445.4M428.5 242.1v4.0M445.4 242.1v4.0M461.0 226.9V253.9M459.0 226.9h4.0M459.0 253.9h4.0M450.8 240.4H471.2M450.8 238.4v4.0M471.2 238.4v4.0M405.5 224.1V251.1M403.5 224.1h4.0M403.5 251.1h4.0M399.3 237.6H411.8M399.3 235.6v4.0M411.8 235.6v4.0M346.8 225.8V251.8M344.8 225.8h4.0M344.8 251.8h4.0M344.8 238.8H348.8M344.8 236.8v4.0M348.8 236.8v4.0M348.6 236.0V262.0M346.6 236.0h4.0M346.6 262.0h4.0M346.6 249.0H350.6M346.6 247.0v4.0M350.6 247.0v4.0M336.6 262.4V288.4M334.6 262.4h4.0M334.6 288.4h4.0M334.6 275.4H338.6M334.6 273.4v4.0M338.6 273.4v4.0M341.3 268.3V294.3M339.3 268.3h4.0M339.3 294.3h4.0M339.3 281.3H343.3M339.3 279.3v4.0M343.3 279.3v4.0M347.7 258.2V284.2M345.7 258.2h4.0M345.7 284.2h4.0M345.7 271.2H349.7M345.7 269.2v4.0M349.7 269.2v4.0M371.8 200.4V227.4M369.8 200.4h4.0M369.8 227.4h4.0M368.3 213.9H375.2M368.3 211.9v4.0M375.2 211.9v4.0M379.1 193.9V220.9M377.1 193.9h4.0M377.1 220.9h4.0M375.1 207.4H383.2M375.1 205.4v4.0M383.2 205.4v4.0M386.5 199.4V226.4M384.5 199.4h4.0M384.5 226.4h4.0M382.0 212.9H391.1M382.0 210.9v4.0M391.1 210.9v4.0M393.9 210.5V237.5M391.9 210.5h4.0M391.9 237.5h4.0M388.9 224.0H399.0M388.9 222.0v4.0M399.0 222.0v4.0M401.3 210.5V237.5M399.3 210.5h4.0M399.3 237.5h4.0M395.7 224.0H406.9M395.7 222.0v4.0M406.9 222.0v4.0M375.5 219.8V246.8M373.5 219.8h4.0M373.5 246.8h4.0M371.7 233.3H379.2M371.7 231.3v4.0M379.2 231.3v4.0M379.1 219.8V246.8M377.1 219.8h4.0M377.1 246.8h4.0M375.1 233.3H383.2M375.1 231.3v4.0M383.2 231.3v4.0M369.9 229.0V256.0M367.9 229.0h4.0M367.9 256.0h4.0M366.6 242.5H373.3M366.6 240.5v4.0M373.3 240.5v4.0M384.7 230.9V257.9M382.7 230.9h4.0M382.7 257.9h4.0M380.3 244.4H389.1M380.3 242.4v4.0M389.1 242.4v4.0M399.5 226.2V253.2M397.5 226.2h4.0M397.5 253.2h4.0M394.0 239.7H405.0M394.0 237.7v4.0M405.0 237.7v4.0M405.0 242.0V269.0M403.0 242.0h4.0M403.0 269.0h4.0M399.2 255.5H410.9M399.2 253.5v4.0M410.9 253.5v4.0M360.7 230.9V257.9M358.7 230.9h4.0M358.7 257.9h4.0M358.0 244.4H363.3M358.0 242.4v4.0M363.3 242.4v4.0M368.1 240.1V267.1M366.1 240.1h4.0M366.1 267.1h4.0M364.8 253.6H371.3M364.8 251.6v4.0M371.3 251.6v4.0M375.5 234.6V261.6M373.5 234.6h4.0M373.5 261.6h4.0M371.7 248.1H379.2M371.7 246.1v4.0M379.2 246.1v4.0M390.2 232.7V259.7M388.2 232.7h4.0M388.2 259.7h4.0M385.4 246.2H395.0M385.4 244.2v4.0M395.0 244.2v4.0M360.7 253.0V280.0M358.7 253.0h4.0M358.7 280.0h4.0M358.0 266.5H363.3M358.0 264.5v4.0M363.3 264.5v4.0M369.9 245.6V272.6M367.9 245.6h4.0M367.9 272.6h4.0M366.6 259.1H373.3M366.6 257.1v4.0M373.3 257.1v4.0M382.8 245.6V272.6M380.8 245.6h4.0M380.8 272.6h4.0M378.6 259.1H387.1M378.6 257.1v4.0M387.1 257.1v4.0M399.5 247.5V274.5M397.5 247.5h4.0M397.5 274.5h4.0M394.0 261.0H405.0M394.0 259.0v4.0M405.0 259.0v4.0M368.1 260.4V287.4M366.1 260.4h4.0M366.1 287.4h4.0M364.8 273.9H371.3M364.8 271.9v4.0M371.3 271.9v4.0M375.5 262.3V289.3M373.5 262.3h4.0M373.5 289.3h4.0M371.7 275.8H379.2M371.7 273.8v4.0M379.2 273.8v4.0M392.1 264.1V291.1M390.1 264.1h4.0M390.1 291.1h4.0M387.1 277.6H397.0M387.1 275.6v4.0M397.0 275.6v4.0M399.5 260.4V287.4M397.5 260.4h4.0M397.5 287.4h4.0M394.0 273.9H405.0M394.0 271.9v4.0M405.0 271.9v4.0M364.4 271.5V298.5M362.4 271.5h4.0M362.4 298.5h4.0M361.4 285.0H367.3M361.4 283.0v4.0M367.3 283.0v4.0M373.6 271.5V298.5M371.6 271.5h4.0M371.6 298.5h4.0M370.0 285.0H377.2M370.0 283.0v4.0M377.2 283.0v4.0M390.2 269.7V296.7M388.2 269.7h4.0M388.2 296.7h4.0M385.4 283.2H395.0M385.4 281.2v4.0M395.0 281.2v4.0M406.9 271.5V298.5M404.9 271.5h4.0M404.9 298.5h4.0M400.9 285.0H412.9M400.9 283.0v4.0M412.9 283.0v4.0M358.8 223.5V250.5M356.8 223.5h4.0M356.8 250.5h4.0M356.3 237.0H361.4M356.3 235.0v4.0M361.4 235.0v4.0M357.0 201.3V228.3M355.0 201.3h4.0M355.0 228.3h4.0M354.6 214.8H359.4M354.6 212.8v4.0M359.4 212.8v4.0M329.2 314.6V339.6M327.2 314.6h4.0M327.2 339.6h4.0M327.2 327.1H331.2M327.2 325.1v4.0M331.2 325.1v4.0M334.8 359.7V387.7M332.8 359.7h4.0M332.8 387.7h4.0M332.8 373.7H336.8M332.8 371.7v4.0M336.8 371.7v4.0M345.9 314.5V340.5M343.9 314.5h4.0M343.9 340.5h4.0M343.9 327.5H347.9M343.9 325.5v4.0M347.9 325.5v4.0M353.3 286.3V313.3M351.3 286.3h4.0M351.3 313.3h4.0M351.1 299.8H355.5M351.1 297.8v4.0M355.5 297.8v4.0M358.8 286.3V313.3M356.8 286.3h4.0M356.8 313.3h4.0M356.3 299.8H361.4M356.3 297.8v4.0M361.4 297.8v4.0M364.4 293.7V320.7M362.4 293.7h4.0M362.4 320.7h4.0M361.4 307.2H367.3M361.4 305.2v4.0M367.3 305.2v4.0M357.0 295.5V322.5M355.0 295.5h4.0M355.0 322.5h4.0M354.6 309.0H359.4M354.6 307.0v4.0M359.4 307.0v4.0M366.2 290.0V317.0M364.2 290.0h4.0M364.2 317.0h4.0M363.1 303.5H369.3M363.1 301.5v4.0M369.3 301.5v4.0M373.6 289.1V316.1M371.6 289.1h4.0M371.6 316.1h4.0M370.0 302.6H377.2M370.0 300.6v4.0M377.2 300.6v4.0M360.7 273.3V300.3M358.7 273.3h4.0M358.7 300.3h4.0M358.0 286.8H363.3M358.0 284.8v4.0M363.3 284.8v4.0M369.9 274.3V301.3M367.9 274.3h4.0M367.9 301.3h4.0M366.6 287.8H373.3M366.6 285.8v4.0M373.3 285.8v4.0M379.1 291.8V318.8M377.1 291.8h4.0M377.1 318.8h4.0M375.1 305.3H383.2M375.1 303.3v4.0M383.2 303.3v4.0M391.2 290.0V317.0M389.2 290.0h4.0M389.2 317.0h4.0M386.3 303.5H396.0M386.3 301.5v4.0M396.0 301.5v4.0M401.3 307.5V334.5M399.3 307.5h4.0M399.3 334.5h4.0M395.7 321.0H406.9M395.7 319.0v4.0M406.9 319.0v4.0M357.0 305.7V332.7M355.0 305.7h4.0M355.0 332.7h4.0M354.6 319.2H359.4M354.6 317.2v4.0M359.4 317.2v4.0M375.5 298.3V325.3M373.5 298.3h4.0M373.5 325.3h4.0M371.7 311.8H379.2M371.7 309.8v4.0M379.2 309.8v4.0M350.5 314.0V341.0M348.5 314.0h4.0M348.5 341.0h4.0M348.3 327.5H352.7M348.3 325.5v4.0M352.7 325.5v4.0M358.8 319.6V346.6M356.8 319.6h4.0M356.8 346.6h4.0M356.3 333.1H361.4M356.3 331.1v4.0M361.4 331.1v4.0M366.2 315.9V342.9M364.2 315.9h4.0M364.2 342.9h4.0M363.1 329.4H369.3M363.1 327.4v4.0M369.3 327.4v4.0M351.4 330.6V357.6M349.4 330.6h4.0M349.4 357.6h4.0M349.2 344.1H353.6M349.2 342.1v4.0M353.6 342.1v4.0M362.5 334.3V361.3M360.5 334.3h4.0M360.5 361.3h4.0M359.7 347.8H365.3M359.7 345.8v4.0M365.3 345.8v4.0M357.0 358.4V385.4M355.0 358.4h4.0M355.0 385.4h4.0M354.6 371.9H359.4M354.6 369.9v4.0M359.4 369.9v4.0M365.3 354.7V381.7M363.3 354.7h4.0M363.3 381.7h4.0M362.3 368.2H368.3M362.3 366.2v4.0M368.3 366.2v4.0M386.5 344.5V371.5M384.5 344.5h4.0M384.5 371.5h4.0M382.0 358.0H391.1M382.0 356.0v4.0M391.1 356.0v4.0M345.8 375.3V401.3M343.8 375.3h4.0M343.8 401.3h4.0M343.6 388.3H348.0M343.6 386.3v4.0M348.0 386.3v4.0M345.3 390.7V416.7M343.3 390.7h4.0M343.3 416.7h4.0M343.1 403.7H347.5M343.1 401.7v4.0M347.5 401.7v4.0M357.5 368.7V394.7M355.5 368.7h4.0M355.5 394.7h4.0M355.0 381.7H360.0M355.0 379.7v4.0M360.0 379.7v4.0M368.7 379.5V405.5M366.7 379.5h4.0M366.7 405.5h4.0M365.4 392.5H372.0M365.4 390.5v4.0M372.0 390.5v4.0M364.2 396.2V422.2M362.2 396.2h4.0M362.2 422.2h4.0M361.3 409.2H367.1M361.3 407.2v4.0M367.1 407.2v4.0M384.2 363.3V389.3M382.2 363.3h4.0M382.2 389.3h4.0M379.8 376.3H388.6M379.8 374.3v4.0M388.6 374.3v4.0M403.7 244.1V271.1M401.7 244.1h4.0M401.7 271.1h4.0M397.6 257.6H409.8M397.6 255.6v4.0M409.8 255.6v4.0M420.3 249.6V276.6M418.3 249.6h4.0M418.3 276.6h4.0M413.1 263.1H427.6M413.1 261.1v4.0M427.6 261.1v4.0M426.8 260.7V287.7M424.8 260.7h4.0M424.8 287.7h4.0M419.1 274.2H434.5M419.1 272.2v4.0M434.5 272.2v4.0M442.5 262.5V289.5M440.5 262.5h4.0M440.5 289.5h4.0M433.6 276.0H451.4M433.6 274.0v4.0M451.4 274.0v4.0M449.0 266.2V293.2M447.0 266.2h4.0M447.0 293.2h4.0M439.6 279.7H458.3M439.6 277.7v4.0M458.3 277.7v4.0M455.5 264.4V291.4M453.5 264.4h4.0M453.5 291.4h4.0M445.6 277.9H465.3M445.6 275.9v4.0M465.3 275.9v4.0M461.0 243.1V270.1M459.0 243.1h4.0M459.0 270.1h4.0M450.8 256.6H471.2M450.8 254.6v4.0M471.2 254.6v4.0M475.8 246.8V273.8M473.8 246.8h4.0M473.8 273.8h4.0M464.5 260.3H487.1M464.5 258.3v4.0M487.1 258.3v4.0M465.6 257.9V284.9M463.6 257.9h4.0M463.6 284.9h4.0M455.1 271.4H476.2M455.1 269.4v4.0M476.2 269.4v4.0M477.6 260.7V287.7M475.6 260.7h4.0M475.6 287.7h4.0M466.2 274.2H489.0M466.2 272.2v4.0M489.0 272.2v4.0M416.6 269.0V296.0M414.6 269.0h4.0M414.6 296.0h4.0M409.6 282.5H423.6M409.6 280.5v4.0M423.6 280.5v4.0M410.2 282.0V309.0M408.2 282.0h4.0M408.2 309.0h4.0M403.6 295.5H416.7M403.6 293.5v4.0M416.7 293.5v4.0M445.3 284.7V311.7M443.3 284.7h4.0M443.3 311.7h4.0M436.2 298.2H454.4M436.2 296.2v4.0M454.4 296.2v4.0M470.2 287.5V314.5M468.2 287.5h4.0M468.2 314.5h4.0M459.4 301.0H481.1M459.4 299.0v4.0M481.1 299.0v4.0M474.9 287.5V314.5M472.9 287.5h4.0M472.9 314.5h4.0M463.7 301.0H486.1M463.7 299.0v4.0M486.1 299.0v4.0M458.2 293.0V320.0M456.2 293.0h4.0M456.2 320.0h4.0M448.2 306.5H468.2M448.2 304.5v4.0M468.2 304.5v4.0M436.0 302.3V329.3M434.0 302.3h4.0M434.0 329.3h4.0M427.6 315.8H444.5M427.6 313.8v4.0M444.5 313.8v4.0M445.3 230.2V257.2M443.3 230.2h4.0M443.3 257.2h4.0M436.2 243.7H454.4M436.2 241.7v4.0M454.4 241.7v4.0M439.8 328.1V354.1M437.8 328.1h4.0M437.8 354.1h4.0M433.3 341.1H446.3M433.3 339.1v4.0M446.3 339.1v4.0M401.0 310.7V336.7M399.0 310.7h4.0M399.0 336.7h4.0M396.0 323.7H406.0M396.0 321.7v4.0M406.0 321.7v4.0M371.9 180.5V205.2M369.9 180.5h4.0M369.9 205.2h4.0M368.4 192.8H375.3M368.4 190.8v4.0M375.3 190.8v4.0M376.5 189.5V220.7M374.5 189.5h4.0M374.5 220.7h4.0M371.6 205.1H381.3M371.6 203.1v4.0M381.3 203.1v4.0M388.8 174.6V206.5M386.8 174.6h4.0M386.8 206.5h4.0M385.5 190.6H392.0M385.5 188.6v4.0M392.0 188.6v4.0M402.0 191.2V214.2M400.0 191.2h4.0M400.0 214.2h4.0M397.2 202.7H406.7M397.2 200.7v4.0M406.7 200.7v4.0M393.8 198.1V226.6M391.8 198.1h4.0M391.8 226.6h4.0M391.3 212.3H396.3M391.3 210.3v4.0M396.3 210.3v4.0M376.5 184.0V212.7M374.5 184.0h4.0M374.5 212.7h4.0M373.8 198.4H379.3M373.8 196.4v4.0M379.3 196.4v4.0M371.0 179.9V210.2M369.0 179.9h4.0M369.0 210.2h4.0M366.5 195.0H375.6M366.5 193.0v4.0M375.6 193.0v4.0M387.2 162.5V190.2M385.2 162.5h4.0M385.2 190.2h4.0M383.2 176.4H391.3M383.2 174.4v4.0M391.3 174.4v4.0M365.3 182.0V211.7M363.3 182.0h4.0M363.3 211.7h4.0M362.1 196.9H368.5M362.1 194.9v4.0M368.5 194.9v4.0M383.3 183.7V210.1M381.3 183.7h4.0M381.3 210.1h4.0M380.4 196.9H386.3M380.4 194.9v4.0M386.3 194.9v4.0M371.4 185.7V209.5M369.4 185.7h4.0M369.4 209.5h4.0M368.7 197.6H374.1M368.7 195.6v4.0M374.1 195.6v4.0M402.9 189.4V220.3M400.9 189.4h4.0M400.9 220.3h4.0M399.1 204.8H406.8M399.1 202.8v4.0M406.8 202.8v4.0M402.0 171.3V203.2M400.0 171.3h4.0M400.0 203.2h4.0M397.1 187.3H407.0M397.1 185.3v4.0M407.0 185.3v4.0M367.3 192.5V224.2M365.3 192.5h4.0M365.3 224.2h4.0M364.7 208.4H369.9M364.7 206.4v4.0M369.9 206.4v4.0M390.2 207.5V236.1M388.2 207.5h4.0M388.2 236.1h4.0M386.9 221.8H393.4M386.9 219.8v4.0M393.4 219.8v4.0M389.6 244.7V266.8M387.6 244.7h4.0M387.6 266.8h4.0M384.8 255.8H394.4M384.8 253.8v4.0M394.4 253.8v4.0M369.8 219.3V242.9M367.8 219.3h4.0M367.8 242.9h4.0M365.7 231.1H373.9M365.7 229.1v4.0M373.9 229.1v4.0M371.9 243.3V269.6M369.9 243.3h4.0M369.9 269.6h4.0M368.7 256.4H375.1M368.7 254.4v4.0M375.1 254.4v4.0M400.1 230.2V253.1M398.1 230.2h4.0M398.1 253.1h4.0M396.2 241.7H404.0M396.2 239.7v4.0M404.0 239.7v4.0M404.7 202.6V233.9M402.7 202.6h4.0M402.7 233.9h4.0M402.0 218.2H407.4M402.0 216.2v4.0M407.4 216.2v4.0M385.5 208.7V239.4M383.5 208.7h4.0M383.5 239.4h4.0M382.7 224.1H388.3M382.7 222.1v4.0M388.3 222.1v4.0M385.5 222.1V249.5M383.5 222.1h4.0M383.5 249.5h4.0M381.6 235.8H389.4M381.6 233.8v4.0M389.4 233.8v4.0M392.4 216.3V247.5M390.4 216.3h4.0M390.4 247.5h4.0M389.8 231.9H394.9M389.8 229.9v4.0M394.9 229.9v4.0M362.9 209.6V235.2M360.9 209.6h4.0M360.9 235.2h4.0M359.2 222.4H366.7M359.2 220.4v4.0M366.7 220.4v4.0M397.4 255.4V281.8M395.4 255.4h4.0M395.4 281.8h4.0M394.4 268.6H400.3M394.4 266.6v4.0M400.3 266.6v4.0M397.9 273.2V303.4M395.9 273.2h4.0M395.9 303.4h4.0M393.0 288.3H402.9M393.0 286.3v4.0M402.9 286.3v4.0M361.8 278.9V301.5M359.8 278.9h4.0M359.8 301.5h4.0M358.1 290.2H365.6M358.1 288.2v4.0M365.6 288.2v4.0M399.6 259.6V288.7M397.6 259.6h4.0M397.6 288.7h4.0M396.2 274.2H402.9M396.2 272.2v4.0M402.9 272.2v4.0M388.8 259.8V285.4M386.8 259.8h4.0M386.8 285.4h4.0M385.2 272.6H392.5M385.2 270.6v4.0M392.5 270.6v4.0M366.2 281.3V311.0M364.2 281.3h4.0M364.2 311.0h4.0M363.7 296.2H368.7M363.7 294.2v4.0M368.7 294.2v4.0M389.7 262.6V286.9M387.7 262.6h4.0M387.7 286.9h4.0M384.9 274.7H394.4M384.9 272.7v4.0M394.4 272.7v4.0M391.3 264.4V293.0M389.3 264.4h4.0M389.3 293.0h4.0M387.6 278.7H395.0M387.6 276.7v4.0M395.0 276.7v4.0M393.8 266.9V291.7M391.8 266.9h4.0M391.8 291.7h4.0M390.0 279.3H397.6M390.0 277.3v4.0M397.6 277.3v4.0M387.5 272.1V300.8M385.5 272.1h4.0M385.5 300.8h4.0M383.1 286.5H391.8M383.1 284.5v4.0M391.8 284.5v4.0M360.4 272.1V294.3M358.4 272.1h4.0M358.4 294.3h4.0M355.5 283.2H365.3M355.5 281.2v4.0M365.3 281.2v4.0M378.0 255.8V286.2M376.0 255.8h4.0M376.0 286.2h4.0M373.9 271.0H382.1M373.9 269.0v4.0M382.1 269.0v4.0M398.7 284.3V312.6M396.7 284.3h4.0M396.7 312.6h4.0M395.9 298.4H401.5M395.9 296.4v4.0M401.5 296.4v4.0M365.0 259.9V288.6M363.0 259.9h4.0M363.0 288.6h4.0M362.0 274.2H367.9M362.0 272.2v4.0M367.9 272.2v4.0M357.8 282.8V306.3M355.8 282.8h4.0M355.8 306.3h4.0M353.6 294.6H361.9M353.6 292.6v4.0M361.9 292.6v4.0M394.6 276.5V300.0M392.6 276.5h4.0M392.6 300.0h4.0M391.8 288.3H397.5M391.8 286.3v4.0M397.5 286.3v4.0M350.6 352.4V376.3M348.6 352.4h4.0M348.6 376.3h4.0M346.2 364.3H354.9M346.2 362.3v4.0M354.9 362.3v4.0M377.9 318.3V341.7M375.9 318.3h4.0M375.9 341.7h4.0M374.9 330.0H380.9M374.9 328.0v4.0M380.9 328.0v4.0M383.4 352.9V380.9M381.4 352.9h4.0M381.4 380.9h4.0M379.1 366.9H387.6M379.1 364.9v4.0M387.6 364.9v4.0M375.9 333.1V359.7M373.9 333.1h4.0M373.9 359.7h4.0M371.7 346.4H380.2M371.7 344.4v4.0M380.2 344.4v4.0M359.3 307.5V339.4M357.3 307.5h4.0M357.3 339.4h4.0M356.3 323.5H362.3M356.3 321.5v4.0M362.3 321.5v4.0M375.8 339.2V365.0M373.8 339.2h4.0M373.8 365.0h4.0M371.4 352.1H380.2M371.4 350.1v4.0M380.2 350.1v4.0M387.1 341.6V372.1M385.1 341.6h4.0M385.1 372.1h4.0M384.1 356.9H390.0M384.1 354.9v4.0M390.0 354.9v4.0M369.0 394.9V419.3M367.0 394.9h4.0M367.0 419.3h4.0M366.0 407.1H372.0M366.0 405.1v4.0M372.0 405.1v4.0M357.4 361.6V386.6M355.4 361.6h4.0M355.4 386.6h4.0M354.2 374.1H360.5M354.2 372.1v4.0M360.5 372.1v4.0M357.9 370.5V397.3M355.9 370.5h4.0M355.9 397.3h4.0M353.2 383.9H362.5M353.2 381.9v4.0M362.5 381.9v4.0M364.1 366.0V395.7M362.1 366.0h4.0M362.1 395.7h4.0M360.5 380.8H367.6M360.5 378.8v4.0M367.6 378.8v4.0" stroke="#d40000" stroke-width="1.2" fill="none"/><path d="M365.95 130.8a2.45 2.45 0 1 0 4.9 0a2.45 2.45 0 1 0 -4.9 0M344.35 148.8a2.45 2.45 0 1 0 4.9 0a2.45 2.45 0 1 0 -4.9 0M358.55 149.6a2.45 2.45 0 1 0 4.9 0a2.45 2.45 0 1 0 -4.9 0M392.25 137.7a2.45 2.45 0 1 0 4.9 0a2.45 2.45 0 1 0 -4.9 0M387.35 143.9a2.45 2.45 0 1 0 4.9 0a2.45 2.45 0 1 0 -4.9 0M351.25 142.2a2.45 2.45 0 1 0 4.9 0a2.45 2.45 0 1 0 -4.9 0M351.25 161.3a2.45 2.45 0 1 0 4.9 0a2.45 2.45 0 1 0 -4.9 0M359.95 177.0a2.45 2.45 0 1 0 4.9 0a2.45 2.45 0 1 0 -4.9 0M365.95 171.5a2.45 2.45 0 1 0 4.9 0a2.45 2.45 0 1 0 -4.9 0M370.95 172.5a2.45 2.45 0 1 0 4.9 0a2.45 2.45 0 1 0 -4.9 0M358.95 190.9a2.45 2.45 0 1 0 4.9 0a2.45 2.45 0 1 0 -4.9 0M372.55 192.5a2.45 2.45 0 1 0 4.9 0a2.45 2.45 0 1 0 -4.9 0M354.95 201.1a2.45 2.45 0 1 0 4.9 0a2.45 2.45 0 1 0 -4.9 0M363.55 210.9a2.45 2.45 0 1 0 4.9 0a2.45 2.45 0 1 0 -4.9 0M384.05 168.7a2.45 2.45 0 1 0 4.9 0a2.45 2.45 0 1 0 -4.9 0M379.15 173.7a2.45 2.45 0 1 0 4.9 0a2.45 2.45 0 1 0 -4.9 0M389.75 184.3a2.45 2.45 0 1 0 4.9 0a2.45 2.45 0 1 0 -4.9 0M393.95 184.3a2.45 2.45 0 1 0 4.9 0a2.45 2.45 0 1 0 -4.9 0M337.85 223.1a2.45 2.45 0 1 0 4.9 0a2.45 2.45 0 1 0 -4.9 0M425.45 92.6a2.45 2.45 0 1 0 4.9 0a2.45 2.45 0 1 0 -4.9 0M450.45 107.6a2.45 2.45 0 1 0 4.9 0a2.45 2.45 0 1 0 -4.9 0M451.05 113.5a2.45 2.45 0 1 0 4.9 0a2.45 2.45 0 1 0 -4.9 0M418.25 137.8a2.45 2.45 0 1 0 4.9 0a2.45 2.45 0 1 0 -4.9 0M419.65 141.9a2.45 2.45 0 1 0 4.9 0a2.45 2.45 0 1 0 -4.9 0M481.25 138.2a2.45 2.45 0 1 0 4.9 0a2.45 2.45 0 1 0 -4.9 0M443.45 139.8a2.45 2.45 0 1 0 4.9 0a2.45 2.45 0 1 0 -4.9 0M422.35 167.5a2.45 2.45 0 1 0 4.9 0a2.45 2.45 0 1 0 -4.9 0M585.15 156.3a2.45 2.45 0 1 0 4.9 0a2.45 2.45 0 1 0 -4.9 0M503.35 173.5a2.45 2.45 0 1 0 4.9 0a2.45 2.45 0 1 0 -4.9 0M516.95 184.1a2.45 2.45 0 1 0 4.9 0a2.45 2.45 0 1 0 -4.9 0M508.35 190.8a2.45 2.45 0 1 0 4.9 0a2.45 2.45 0 1 0 -4.9 0M506.65 213.7a2.45 2.45 0 1 0 4.9 0a2.45 2.45 0 1 0 -4.9 0M537.95 227.0a2.45 2.45 0 1 0 4.9 0a2.45 2.45 0 1 0 -4.9 0M554.45 236.4a2.45 2.45 0 1 0 4.9 0a2.45 2.45 0 1 0 -4.9 0M515.75 238.4a2.45 2.45 0 1 0 4.9 0a2.45 2.45 0 1 0 -4.9 0M550.25 253.6a2.45 2.45 0 1 0 4.9 0a2.45 2.45 0 1 0 -4.9 0M481.95 254.4a2.45 2.45 0 1 0 4.9 0a2.45 2.45 0 1 0 -4.9 0M492.35 274.6a2.45 2.45 0 1 0 4.9 0a2.45 2.45 0 1 0 -4.9 0M583.55 277.8a2.45 2.45 0 1 0 4.9 0a2.45 2.45 0 1 0 -4.9 0M476.55 213.0a2.45 2.45 0 1 0 4.9 0a2.45 2.45 0 1 0 -4.9 0M502.15 282.8a2.45 2.45 0 1 0 4.9 0a2.45 2.45 0 1 0 -4.9 0M503.45 290.2a2.45 2.45 0 1 0 4.9 0a2.45 2.45 0 1 0 -4.9 0M486.15 299.1a2.45 2.45 0 1 0 4.9 0a2.45 2.45 0 1 0 -4.9 0M496.05 307.7a2.45 2.45 0 1 0 4.9 0a2.45 2.45 0 1 0 -4.9 0M519.95 313.9a2.45 2.45 0 1 0 4.9 0a2.45 2.45 0 1 0 -4.9 0M527.35 281.1a2.45 2.45 0 1 0 4.9 0a2.45 2.45 0 1 0 -4.9 0M540.35 286.0a2.45 2.45 0 1 0 4.9 0a2.45 2.45 0 1 0 -4.9 0M560.85 284.0a2.45 2.45 0 1 0 4.9 0a2.45 2.45 0 1 0 -4.9 0M581.55 340.2a2.45 2.45 0 1 0 4.9 0a2.45 2.45 0 1 0 -4.9 0M454.85 175.7a2.45 2.45 0 1 0 4.9 0a2.45 2.45 0 1 0 -4.9 0M442.84 181.3a2.45 2.45 0 1 0 4.9 0a2.45 2.45 0 1 0 -4.9 0M418.81 179.4a2.45 2.45 0 1 0 4.9 0a2.45 2.45 0 1 0 -4.9 0M407.72 184.0a2.45 2.45 0 1 0 4.9 0a2.45 2.45 0 1 0 -4.9 0M434.52 184.0a2.45 2.45 0 1 0 4.9 0a2.45 2.45 0 1 0 -4.9 0M461.32 186.8a2.45 2.45 0 1 0 4.9 0a2.45 2.45 0 1 0 -4.9 0M468.71 185.9a2.45 2.45 0 1 0 4.9 0a2.45 2.45 0 1 0 -4.9 0M427.12 188.7a2.45 2.45 0 1 0 4.9 0a2.45 2.45 0 1 0 -4.9 0M431.75 196.0a2.45 2.45 0 1 0 4.9 0a2.45 2.45 0 1 0 -4.9 0M419.73 209.0a2.45 2.45 0 1 0 4.9 0a2.45 2.45 0 1 0 -4.9 0M446.53 214.5a2.45 2.45 0 1 0 4.9 0a2.45 2.45 0 1 0 -4.9 0M440.06 215.5a2.45 2.45 0 1 0 4.9 0a2.45 2.45 0 1 0 -4.9 0M404.94 204.4a2.45 2.45 0 1 0 4.9 0a2.45 2.45 0 1 0 -4.9 0M404.02 219.1a2.45 2.45 0 1 0 4.9 0a2.45 2.45 0 1 0 -4.9 0M434.52 219.1a2.45 2.45 0 1 0 4.9 0a2.45 2.45 0 1 0 -4.9 0M458.55 228.4a2.45 2.45 0 1 0 4.9 0a2.45 2.45 0 1 0 -4.9 0M465.94 229.3a2.45 2.45 0 1 0 4.9 0a2.45 2.45 0 1 0 -4.9 0M475.18 235.8a2.45 2.45 0 1 0 4.9 0a2.45 2.45 0 1 0 -4.9 0M441.91 235.8a2.45 2.45 0 1 0 4.9 0a2.45 2.45 0 1 0 -4.9 0M419.73 232.1a2.45 2.45 0 1 0 4.9 0a2.45 2.45 0 1 0 -4.9 0M434.52 244.1a2.45 2.45 0 1 0 4.9 0a2.45 2.45 0 1 0 -4.9 0M458.55 240.4a2.45 2.45 0 1 0 4.9 0a2.45 2.45 0 1 0 -4.9 0M403.10 237.6a2.45 2.45 0 1 0 4.9 0a2.45 2.45 0 1 0 -4.9 0M344.35 238.8a2.45 2.45 0 1 0 4.9 0a2.45 2.45 0 1 0 -4.9 0M346.15 249.0a2.45 2.45 0 1 0 4.9 0a2.45 2.45 0 1 0 -4.9 0M334.15 275.4a2.45 2.45 0 1 0 4.9 0a2.45 2.45 0 1 0 -4.9 0M338.85 281.3a2.45 2.45 0 1 0 4.9 0a2.45 2.45 0 1 0 -4.9 0M345.25 271.2a2.45 2.45 0 1 0 4.9 0a2.45 2.45 0 1 0 -4.9 0M369.31 213.9a2.45 2.45 0 1 0 4.9 0a2.45 2.45 0 1 0 -4.9 0M376.70 207.4a2.45 2.45 0 1 0 4.9 0a2.45 2.45 0 1 0 -4.9 0M384.09 212.9a2.45 2.45 0 1 0 4.9 0a2.45 2.45 0 1 0 -4.9 0M391.49 224.0a2.45 2.45 0 1 0 4.9 0a2.45 2.45 0 1 0 -4.9 0M398.88 224.0a2.45 2.45 0 1 0 4.9 0a2.45 2.45 0 1 0 -4.9 0M373.00 233.3a2.45 2.45 0 1 0 4.9 0a2.45 2.45 0 1 0 -4.9 0M376.70 233.3a2.45 2.45 0 1 0 4.9 0a2.45 2.45 0 1 0 -4.9 0M367.46 242.5a2.45 2.45 0 1 0 4.9 0a2.45 2.45 0 1 0 -4.9 0M382.25 244.4a2.45 2.45 0 1 0 4.9 0a2.45 2.45 0 1 0 -4.9 0M397.03 239.7a2.45 2.45 0 1 0 4.9 0a2.45 2.45 0 1 0 -4.9 0M402.58 255.5a2.45 2.45 0 1 0 4.9 0a2.45 2.45 0 1 0 -4.9 0M358.22 244.4a2.45 2.45 0 1 0 4.9 0a2.45 2.45 0 1 0 -4.9 0M365.61 253.6a2.45 2.45 0 1 0 4.9 0a2.45 2.45 0 1 0 -4.9 0M373.00 248.1a2.45 2.45 0 1 0 4.9 0a2.45 2.45 0 1 0 -4.9 0M387.79 246.2a2.45 2.45 0 1 0 4.9 0a2.45 2.45 0 1 0 -4.9 0M358.22 266.5a2.45 2.45 0 1 0 4.9 0a2.45 2.45 0 1 0 -4.9 0M367.46 259.1a2.45 2.45 0 1 0 4.9 0a2.45 2.45 0 1 0 -4.9 0M380.40 259.1a2.45 2.45 0 1 0 4.9 0a2.45 2.45 0 1 0 -4.9 0M397.03 261.0a2.45 2.45 0 1 0 4.9 0a2.45 2.45 0 1 0 -4.9 0M365.61 273.9a2.45 2.45 0 1 0 4.9 0a2.45 2.45 0 1 0 -4.9 0M373.00 275.8a2.45 2.45 0 1 0 4.9 0a2.45 2.45 0 1 0 -4.9 0M389.64 277.6a2.45 2.45 0 1 0 4.9 0a2.45 2.45 0 1 0 -4.9 0M397.03 273.9a2.45 2.45 0 1 0 4.9 0a2.45 2.45 0 1 0 -4.9 0M361.91 285.0a2.45 2.45 0 1 0 4.9 0a2.45 2.45 0 1 0 -4.9 0M371.15 285.0a2.45 2.45 0 1 0 4.9 0a2.45 2.45 0 1 0 -4.9 0M387.79 283.2a2.45 2.45 0 1 0 4.9 0a2.45 2.45 0 1 0 -4.9 0M404.43 285.0a2.45 2.45 0 1 0 4.9 0a2.45 2.45 0 1 0 -4.9 0M356.37 237.0a2.45 2.45 0 1 0 4.9 0a2.45 2.45 0 1 0 -4.9 0M354.52 214.8a2.45 2.45 0 1 0 4.9 0a2.45 2.45 0 1 0 -4.9 0M326.75 327.1a2.45 2.45 0 1 0 4.9 0a2.45 2.45 0 1 0 -4.9 0M332.35 373.7a2.45 2.45 0 1 0 4.9 0a2.45 2.45 0 1 0 -4.9 0M343.45 327.5a2.45 2.45 0 1 0 4.9 0a2.45 2.45 0 1 0 -4.9 0M350.82 299.8a2.45 2.45 0 1 0 4.9 0a2.45 2.45 0 1 0 -4.9 0M356.37 299.8a2.45 2.45 0 1 0 4.9 0a2.45 2.45 0 1 0 -4.9 0M361.91 307.2a2.45 2.45 0 1 0 4.9 0a2.45 2.45 0 1 0 -4.9 0M354.52 309.0a2.45 2.45 0 1 0 4.9 0a2.45 2.45 0 1 0 -4.9 0M363.76 303.5a2.45 2.45 0 1 0 4.9 0a2.45 2.45 0 1 0 -4.9 0M371.15 302.6a2.45 2.45 0 1 0 4.9 0a2.45 2.45 0 1 0 -4.9 0M358.22 286.8a2.45 2.45 0 1 0 4.9 0a2.45 2.45 0 1 0 -4.9 0M367.46 287.8a2.45 2.45 0 1 0 4.9 0a2.45 2.45 0 1 0 -4.9 0M376.70 305.3a2.45 2.45 0 1 0 4.9 0a2.45 2.45 0 1 0 -4.9 0M388.71 303.5a2.45 2.45 0 1 0 4.9 0a2.45 2.45 0 1 0 -4.9 0M398.88 321.0a2.45 2.45 0 1 0 4.9 0a2.45 2.45 0 1 0 -4.9 0M354.52 319.2a2.45 2.45 0 1 0 4.9 0a2.45 2.45 0 1 0 -4.9 0M373.00 311.8a2.45 2.45 0 1 0 4.9 0a2.45 2.45 0 1 0 -4.9 0M348.05 327.5a2.45 2.45 0 1 0 4.9 0a2.45 2.45 0 1 0 -4.9 0M356.37 333.1a2.45 2.45 0 1 0 4.9 0a2.45 2.45 0 1 0 -4.9 0M363.76 329.4a2.45 2.45 0 1 0 4.9 0a2.45 2.45 0 1 0 -4.9 0M348.97 344.1a2.45 2.45 0 1 0 4.9 0a2.45 2.45 0 1 0 -4.9 0M360.06 347.8a2.45 2.45 0 1 0 4.9 0a2.45 2.45 0 1 0 -4.9 0M354.52 371.9a2.45 2.45 0 1 0 4.9 0a2.45 2.45 0 1 0 -4.9 0M362.84 368.2a2.45 2.45 0 1 0 4.9 0a2.45 2.45 0 1 0 -4.9 0M384.09 358.0a2.45 2.45 0 1 0 4.9 0a2.45 2.45 0 1 0 -4.9 0M343.35 388.3a2.45 2.45 0 1 0 4.9 0a2.45 2.45 0 1 0 -4.9 0M342.85 403.7a2.45 2.45 0 1 0 4.9 0a2.45 2.45 0 1 0 -4.9 0M355.05 381.7a2.45 2.45 0 1 0 4.9 0a2.45 2.45 0 1 0 -4.9 0M366.25 392.5a2.45 2.45 0 1 0 4.9 0a2.45 2.45 0 1 0 -4.9 0M361.75 409.2a2.45 2.45 0 1 0 4.9 0a2.45 2.45 0 1 0 -4.9 0M381.75 376.3a2.45 2.45 0 1 0 4.9 0a2.45 2.45 0 1 0 -4.9 0M401.25 257.6a2.45 2.45 0 1 0 4.9 0a2.45 2.45 0 1 0 -4.9 0M417.88 263.1a2.45 2.45 0 1 0 4.9 0a2.45 2.45 0 1 0 -4.9 0M424.35 274.2a2.45 2.45 0 1 0 4.9 0a2.45 2.45 0 1 0 -4.9 0M440.06 276.0a2.45 2.45 0 1 0 4.9 0a2.45 2.45 0 1 0 -4.9 0M446.53 279.7a2.45 2.45 0 1 0 4.9 0a2.45 2.45 0 1 0 -4.9 0M453.00 277.9a2.45 2.45 0 1 0 4.9 0a2.45 2.45 0 1 0 -4.9 0M458.55 256.6a2.45 2.45 0 1 0 4.9 0a2.45 2.45 0 1 0 -4.9 0M473.34 260.3a2.45 2.45 0 1 0 4.9 0a2.45 2.45 0 1 0 -4.9 0M463.17 271.4a2.45 2.45 0 1 0 4.9 0a2.45 2.45 0 1 0 -4.9 0M475.18 274.2a2.45 2.45 0 1 0 4.9 0a2.45 2.45 0 1 0 -4.9 0M414.19 282.5a2.45 2.45 0 1 0 4.9 0a2.45 2.45 0 1 0 -4.9 0M407.72 295.5a2.45 2.45 0 1 0 4.9 0a2.45 2.45 0 1 0 -4.9 0M442.84 298.2a2.45 2.45 0 1 0 4.9 0a2.45 2.45 0 1 0 -4.9 0M467.79 301.0a2.45 2.45 0 1 0 4.9 0a2.45 2.45 0 1 0 -4.9 0M472.41 301.0a2.45 2.45 0 1 0 4.9 0a2.45 2.45 0 1 0 -4.9 0M455.78 306.5a2.45 2.45 0 1 0 4.9 0a2.45 2.45 0 1 0 -4.9 0M433.59 315.8a2.45 2.45 0 1 0 4.9 0a2.45 2.45 0 1 0 -4.9 0M442.84 243.7a2.45 2.45 0 1 0 4.9 0a2.45 2.45 0 1 0 -4.9 0M437.35 341.1a2.45 2.45 0 1 0 4.9 0a2.45 2.45 0 1 0 -4.9 0M398.55 323.7a2.45 2.45 0 1 0 4.9 0a2.45 2.45 0 1 0 -4.9 0M369.41 192.8a2.45 2.45 0 1 0 4.9 0a2.45 2.45 0 1 0 -4.9 0M374.00 205.1a2.45 2.45 0 1 0 4.9 0a2.45 2.45 0 1 0 -4.9 0M386.31 190.6a2.45 2.45 0 1 0 4.9 0a2.45 2.45 0 1 0 -4.9 0M399.51 202.7a2.45 2.45 0 1 0 4.9 0a2.45 2.45 0 1 0 -4.9 0M391.37 212.3a2.45 2.45 0 1 0 4.9 0a2.45 2.45 0 1 0 -4.9 0M374.10 198.4a2.45 2.45 0 1 0 4.9 0a2.45 2.45 0 1 0 -4.9 0M368.57 195.0a2.45 2.45 0 1 0 4.9 0a2.45 2.45 0 1 0 -4.9 0M384.78 176.4a2.45 2.45 0 1 0 4.9 0a2.45 2.45 0 1 0 -4.9 0M362.83 196.9a2.45 2.45 0 1 0 4.9 0a2.45 2.45 0 1 0 -4.9 0M380.89 196.9a2.45 2.45 0 1 0 4.9 0a2.45 2.45 0 1 0 -4.9 0M368.93 197.6a2.45 2.45 0 1 0 4.9 0a2.45 2.45 0 1 0 -4.9 0M400.46 204.8a2.45 2.45 0 1 0 4.9 0a2.45 2.45 0 1 0 -4.9 0M399.58 187.3a2.45 2.45 0 1 0 4.9 0a2.45 2.45 0 1 0 -4.9 0M364.88 208.4a2.45 2.45 0 1 0 4.9 0a2.45 2.45 0 1 0 -4.9 0M387.72 221.8a2.45 2.45 0 1 0 4.9 0a2.45 2.45 0 1 0 -4.9 0M387.11 255.8a2.45 2.45 0 1 0 4.9 0a2.45 2.45 0 1 0 -4.9 0M367.32 231.1a2.45 2.45 0 1 0 4.9 0a2.45 2.45 0 1 0 -4.9 0M369.46 256.4a2.45 2.45 0 1 0 4.9 0a2.45 2.45 0 1 0 -4.9 0M397.63 241.7a2.45 2.45 0 1 0 4.9 0a2.45 2.45 0 1 0 -4.9 0M402.26 218.2a2.45 2.45 0 1 0 4.9 0a2.45 2.45 0 1 0 -4.9 0M383.05 224.1a2.45 2.45 0 1 0 4.9 0a2.45 2.45 0 1 0 -4.9 0M383.08 235.8a2.45 2.45 0 1 0 4.9 0a2.45 2.45 0 1 0 -4.9 0M389.91 231.9a2.45 2.45 0 1 0 4.9 0a2.45 2.45 0 1 0 -4.9 0M360.47 222.4a2.45 2.45 0 1 0 4.9 0a2.45 2.45 0 1 0 -4.9 0M394.94 268.6a2.45 2.45 0 1 0 4.9 0a2.45 2.45 0 1 0 -4.9 0M395.47 288.3a2.45 2.45 0 1 0 4.9 0a2.45 2.45 0 1 0 -4.9 0M359.37 290.2a2.45 2.45 0 1 0 4.9 0a2.45 2.45 0 1 0 -4.9 0M397.11 274.2a2.45 2.45 0 1 0 4.9 0a2.45 2.45 0 1 0 -4.9 0M386.39 272.6a2.45 2.45 0 1 0 4.9 0a2.45 2.45 0 1 0 -4.9 0M363.74 296.2a2.45 2.45 0 1 0 4.9 0a2.45 2.45 0 1 0 -4.9 0M387.21 274.7a2.45 2.45 0 1 0 4.9 0a2.45 2.45 0 1 0 -4.9 0M388.82 278.7a2.45 2.45 0 1 0 4.9 0a2.45 2.45 0 1 0 -4.9 0M391.36 279.3a2.45 2.45 0 1 0 4.9 0a2.45 2.45 0 1 0 -4.9 0M385.01 286.5a2.45 2.45 0 1 0 4.9 0a2.45 2.45 0 1 0 -4.9 0M357.92 283.2a2.45 2.45 0 1 0 4.9 0a2.45 2.45 0 1 0 -4.9 0M375.55 271.0a2.45 2.45 0 1 0 4.9 0a2.45 2.45 0 1 0 -4.9 0M396.26 298.4a2.45 2.45 0 1 0 4.9 0a2.45 2.45 0 1 0 -4.9 0M362.51 274.2a2.45 2.45 0 1 0 4.9 0a2.45 2.45 0 1 0 -4.9 0M355.32 294.6a2.45 2.45 0 1 0 4.9 0a2.45 2.45 0 1 0 -4.9 0M392.20 288.3a2.45 2.45 0 1 0 4.9 0a2.45 2.45 0 1 0 -4.9 0M348.11 364.3a2.45 2.45 0 1 0 4.9 0a2.45 2.45 0 1 0 -4.9 0M375.44 330.0a2.45 2.45 0 1 0 4.9 0a2.45 2.45 0 1 0 -4.9 0M380.92 366.9a2.45 2.45 0 1 0 4.9 0a2.45 2.45 0 1 0 -4.9 0M373.47 346.4a2.45 2.45 0 1 0 4.9 0a2.45 2.45 0 1 0 -4.9 0M356.83 323.5a2.45 2.45 0 1 0 4.9 0a2.45 2.45 0 1 0 -4.9 0M373.34 352.1a2.45 2.45 0 1 0 4.9 0a2.45 2.45 0 1 0 -4.9 0M384.64 356.9a2.45 2.45 0 1 0 4.9 0a2.45 2.45 0 1 0 -4.9 0M366.56 407.1a2.45 2.45 0 1 0 4.9 0a2.45 2.45 0 1 0 -4.9 0M354.92 374.1a2.45 2.45 0 1 0 4.9 0a2.45 2.45 0 1 0 -4.9 0M355.42 383.9a2.45 2.45 0 1 0 4.9 0a2.45 2.45 0 1 0 -4.9 0M361.64 380.8a2.45 2.45 0 1 0 4.9 0a2.45 2.45 0 1 0 -4.9 0" fill="#d40000"/><path d="M392.15 146.4a1.75 1.75 0 1 0 3.5 0a1.75 1.75 0 1 0 -3.5 0M379.35 163.0a1.75 1.75 0 1 0 3.5 0a1.75 1.75 0 1 0 -3.5 0M395.45 159.7a1.75 1.75 0 1 0 3.5 0a1.75 1.75 0 1 0 -3.5 0M380.65 184.3a1.75 1.75 0 1 0 3.5 0a1.75 1.75 0 1 0 -3.5 0M382.25 190.9a1.75 1.75 0 1 0 3.5 0a1.75 1.75 0 1 0 -3.5 0M379.05 196.7a1.75 1.75 0 1 0 3.5 0a1.75 1.75 0 1 0 -3.5 0M383.95 198.3a1.75 1.75 0 1 0 3.5 0a1.75 1.75 0 1 0 -3.5 0M374.95 204.9a1.75 1.75 0 1 0 3.5 0a1.75 1.75 0 1 0 -3.5 0M392.95 202.4a1.75 1.75 0 1 0 3.5 0a1.75 1.75 0 1 0 -3.5 0M395.45 195.8a1.75 1.75 0 1 0 3.5 0a1.75 1.75 0 1 0 -3.5 0M380.65 210.6a1.75 1.75 0 1 0 3.5 0a1.75 1.75 0 1 0 -3.5 0M388.85 210.6a1.75 1.75 0 1 0 3.5 0a1.75 1.75 0 1 0 -3.5 0M455.85 90.5a1.75 1.75 0 1 0 3.5 0a1.75 1.75 0 1 0 -3.5 0M446.65 138.8a1.75 1.75 0 1 0 3.5 0a1.75 1.75 0 1 0 -3.5 0M451.75 148.0a1.75 1.75 0 1 0 3.5 0a1.75 1.75 0 1 0 -3.5 0M398.35 158.3a1.75 1.75 0 1 0 3.5 0a1.75 1.75 0 1 0 -3.5 0M406.55 161.4a1.75 1.75 0 1 0 3.5 0a1.75 1.75 0 1 0 -3.5 0M404.55 155.8a1.75 1.75 0 1 0 3.5 0a1.75 1.75 0 1 0 -3.5 0M426.15 165.5a1.75 1.75 0 1 0 3.5 0a1.75 1.75 0 1 0 -3.5 0M444.55 166.5a1.75 1.75 0 1 0 3.5 0a1.75 1.75 0 1 0 -3.5 0M468.25 159.3a1.75 1.75 0 1 0 3.5 0a1.75 1.75 0 1 0 -3.5 0M481.95 159.3a1.75 1.75 0 1 0 3.5 0a1.75 1.75 0 1 0 -3.5 0M459.95 166.5a1.75 1.75 0 1 0 3.5 0a1.75 1.75 0 1 0 -3.5 0M509.05 98.2a1.75 1.75 0 1 0 3.5 0a1.75 1.75 0 1 0 -3.5 0M585.85 161.0a1.75 1.75 0 1 0 3.5 0a1.75 1.75 0 1 0 -3.5 0M506.35 177.3a1.75 1.75 0 1 0 3.5 0a1.75 1.75 0 1 0 -3.5 0M504.85 183.4a1.75 1.75 0 1 0 3.5 0a1.75 1.75 0 1 0 -3.5 0M507.35 180.2a1.75 1.75 0 1 0 3.5 0a1.75 1.75 0 1 0 -3.5 0M538.65 190.1a1.75 1.75 0 1 0 3.5 0a1.75 1.75 0 1 0 -3.5 0M541.05 203.9a1.75 1.75 0 1 0 3.5 0a1.75 1.75 0 1 0 -3.5 0M516.45 192.0a1.75 1.75 0 1 0 3.5 0a1.75 1.75 0 1 0 -3.5 0M517.65 215.4a1.75 1.75 0 1 0 3.5 0a1.75 1.75 0 1 0 -3.5 0M584.25 194.5a1.75 1.75 0 1 0 3.5 0a1.75 1.75 0 1 0 -3.5 0M582.25 227.8a1.75 1.75 0 1 0 3.5 0a1.75 1.75 0 1 0 -3.5 0M491.85 238.4a1.75 1.75 0 1 0 3.5 0a1.75 1.75 0 1 0 -3.5 0M504.15 242.6a1.75 1.75 0 1 0 3.5 0a1.75 1.75 0 1 0 -3.5 0M486.85 247.5a1.75 1.75 0 1 0 3.5 0a1.75 1.75 0 1 0 -3.5 0M481.95 259.8a1.75 1.75 0 1 0 3.5 0a1.75 1.75 0 1 0 -3.5 0M550.95 246.7a1.75 1.75 0 1 0 3.5 0a1.75 1.75 0 1 0 -3.5 0M527.55 273.8a1.75 1.75 0 1 0 3.5 0a1.75 1.75 0 1 0 -3.5 0M483.15 293.9a1.75 1.75 0 1 0 3.5 0a1.75 1.75 0 1 0 -3.5 0M554.65 308.9a1.75 1.75 0 1 0 3.5 0a1.75 1.75 0 1 0 -3.5 0M494.25 328.4a1.75 1.75 0 1 0 3.5 0a1.75 1.75 0 1 0 -3.5 0M502.85 329.6a1.75 1.75 0 1 0 3.5 0a1.75 1.75 0 1 0 -3.5 0M495.95 336.5a1.75 1.75 0 1 0 3.5 0a1.75 1.75 0 1 0 -3.5 0M520.65 370.5a1.75 1.75 0 1 0 3.5 0a1.75 1.75 0 1 0 -3.5 0M561.55 366.8a1.75 1.75 0 1 0 3.5 0a1.75 1.75 0 1 0 -3.5 0M474.25 345.0a1.75 1.75 0 1 0 3.5 0a1.75 1.75 0 1 0 -3.5 0M422.28 163.7a1.75 1.75 0 1 0 3.5 0a1.75 1.75 0 1 0 -3.5 0M418.58 170.2a1.75 1.75 0 1 0 3.5 0a1.75 1.75 0 1 0 -3.5 0M424.13 174.8a1.75 1.75 0 1 0 3.5 0a1.75 1.75 0 1 0 -3.5 0M472.19 170.2a1.75 1.75 0 1 0 3.5 0a1.75 1.75 0 1 0 -3.5 0M407.49 178.5a1.75 1.75 0 1 0 3.5 0a1.75 1.75 0 1 0 -3.5 0M403.80 185.9a1.75 1.75 0 1 0 3.5 0a1.75 1.75 0 1 0 -3.5 0M416.73 187.7a1.75 1.75 0 1 0 3.5 0a1.75 1.75 0 1 0 -3.5 0M435.22 185.9a1.75 1.75 0 1 0 3.5 0a1.75 1.75 0 1 0 -3.5 0M440.76 194.2a1.75 1.75 0 1 0 3.5 0a1.75 1.75 0 1 0 -3.5 0M425.98 201.6a1.75 1.75 0 1 0 3.5 0a1.75 1.75 0 1 0 -3.5 0M434.29 199.7a1.75 1.75 0 1 0 3.5 0a1.75 1.75 0 1 0 -3.5 0M450.93 205.3a1.75 1.75 0 1 0 3.5 0a1.75 1.75 0 1 0 -3.5 0M460.17 193.3a1.75 1.75 0 1 0 3.5 0a1.75 1.75 0 1 0 -3.5 0M463.87 199.7a1.75 1.75 0 1 0 3.5 0a1.75 1.75 0 1 0 -3.5 0M474.04 204.4a1.75 1.75 0 1 0 3.5 0a1.75 1.75 0 1 0 -3.5 0M479.58 205.3a1.75 1.75 0 1 0 3.5 0a1.75 1.75 0 1 0 -3.5 0M401.02 198.8a1.75 1.75 0 1 0 3.5 0a1.75 1.75 0 1 0 -3.5 0M409.34 206.2a1.75 1.75 0 1 0 3.5 0a1.75 1.75 0 1 0 -3.5 0M421.36 208.1a1.75 1.75 0 1 0 3.5 0a1.75 1.75 0 1 0 -3.5 0M440.76 213.6a1.75 1.75 0 1 0 3.5 0a1.75 1.75 0 1 0 -3.5 0M453.70 213.6a1.75 1.75 0 1 0 3.5 0a1.75 1.75 0 1 0 -3.5 0M461.10 213.6a1.75 1.75 0 1 0 3.5 0a1.75 1.75 0 1 0 -3.5 0M401.95 215.5a1.75 1.75 0 1 0 3.5 0a1.75 1.75 0 1 0 -3.5 0M414.89 221.0a1.75 1.75 0 1 0 3.5 0a1.75 1.75 0 1 0 -3.5 0M429.67 221.0a1.75 1.75 0 1 0 3.5 0a1.75 1.75 0 1 0 -3.5 0M442.61 222.8a1.75 1.75 0 1 0 3.5 0a1.75 1.75 0 1 0 -3.5 0M435.22 230.2a1.75 1.75 0 1 0 3.5 0a1.75 1.75 0 1 0 -3.5 0M442.61 231.2a1.75 1.75 0 1 0 3.5 0a1.75 1.75 0 1 0 -3.5 0M454.63 228.4a1.75 1.75 0 1 0 3.5 0a1.75 1.75 0 1 0 -3.5 0M462.95 221.0a1.75 1.75 0 1 0 3.5 0a1.75 1.75 0 1 0 -3.5 0M469.41 220.1a1.75 1.75 0 1 0 3.5 0a1.75 1.75 0 1 0 -3.5 0M420.43 230.2a1.75 1.75 0 1 0 3.5 0a1.75 1.75 0 1 0 -3.5 0M408.42 235.8a1.75 1.75 0 1 0 3.5 0a1.75 1.75 0 1 0 -3.5 0M416.73 239.5a1.75 1.75 0 1 0 3.5 0a1.75 1.75 0 1 0 -3.5 0M422.28 241.3a1.75 1.75 0 1 0 3.5 0a1.75 1.75 0 1 0 -3.5 0M435.22 241.3a1.75 1.75 0 1 0 3.5 0a1.75 1.75 0 1 0 -3.5 0M450.01 239.5a1.75 1.75 0 1 0 3.5 0a1.75 1.75 0 1 0 -3.5 0M457.40 243.2a1.75 1.75 0 1 0 3.5 0a1.75 1.75 0 1 0 -3.5 0M464.79 241.3a1.75 1.75 0 1 0 3.5 0a1.75 1.75 0 1 0 -3.5 0M470.34 239.5a1.75 1.75 0 1 0 3.5 0a1.75 1.75 0 1 0 -3.5 0M477.73 237.6a1.75 1.75 0 1 0 3.5 0a1.75 1.75 0 1 0 -3.5 0M483.28 241.3a1.75 1.75 0 1 0 3.5 0a1.75 1.75 0 1 0 -3.5 0M405.64 245.0a1.75 1.75 0 1 0 3.5 0a1.75 1.75 0 1 0 -3.5 0M425.98 246.9a1.75 1.75 0 1 0 3.5 0a1.75 1.75 0 1 0 -3.5 0M442.61 246.9a1.75 1.75 0 1 0 3.5 0a1.75 1.75 0 1 0 -3.5 0M339.55 266.5a1.75 1.75 0 1 0 3.5 0a1.75 1.75 0 1 0 -3.5 0M345.05 259.2a1.75 1.75 0 1 0 3.5 0a1.75 1.75 0 1 0 -3.5 0M345.95 286.0a1.75 1.75 0 1 0 3.5 0a1.75 1.75 0 1 0 -3.5 0M350.55 269.3a1.75 1.75 0 1 0 3.5 0a1.75 1.75 0 1 0 -3.5 0M360.76 224.0a1.75 1.75 0 1 0 3.5 0a1.75 1.75 0 1 0 -3.5 0M365.38 224.0a1.75 1.75 0 1 0 3.5 0a1.75 1.75 0 1 0 -3.5 0M370.01 220.3a1.75 1.75 0 1 0 3.5 0a1.75 1.75 0 1 0 -3.5 0M373.70 216.6a1.75 1.75 0 1 0 3.5 0a1.75 1.75 0 1 0 -3.5 0M380.17 225.0a1.75 1.75 0 1 0 3.5 0a1.75 1.75 0 1 0 -3.5 0M384.79 222.2a1.75 1.75 0 1 0 3.5 0a1.75 1.75 0 1 0 -3.5 0M388.49 218.5a1.75 1.75 0 1 0 3.5 0a1.75 1.75 0 1 0 -3.5 0M394.04 211.1a1.75 1.75 0 1 0 3.5 0a1.75 1.75 0 1 0 -3.5 0M398.66 218.5a1.75 1.75 0 1 0 3.5 0a1.75 1.75 0 1 0 -3.5 0M395.88 202.8a1.75 1.75 0 1 0 3.5 0a1.75 1.75 0 1 0 -3.5 0M399.58 202.8a1.75 1.75 0 1 0 3.5 0a1.75 1.75 0 1 0 -3.5 0M403.28 207.4a1.75 1.75 0 1 0 3.5 0a1.75 1.75 0 1 0 -3.5 0M390.34 203.7a1.75 1.75 0 1 0 3.5 0a1.75 1.75 0 1 0 -3.5 0M360.76 229.6a1.75 1.75 0 1 0 3.5 0a1.75 1.75 0 1 0 -3.5 0M368.16 229.6a1.75 1.75 0 1 0 3.5 0a1.75 1.75 0 1 0 -3.5 0M363.54 237.9a1.75 1.75 0 1 0 3.5 0a1.75 1.75 0 1 0 -3.5 0M375.55 243.4a1.75 1.75 0 1 0 3.5 0a1.75 1.75 0 1 0 -3.5 0M382.02 237.0a1.75 1.75 0 1 0 3.5 0a1.75 1.75 0 1 0 -3.5 0M390.34 237.0a1.75 1.75 0 1 0 3.5 0a1.75 1.75 0 1 0 -3.5 0M395.88 231.4a1.75 1.75 0 1 0 3.5 0a1.75 1.75 0 1 0 -3.5 0M403.28 231.4a1.75 1.75 0 1 0 3.5 0a1.75 1.75 0 1 0 -3.5 0M357.07 252.7a1.75 1.75 0 1 0 3.5 0a1.75 1.75 0 1 0 -3.5 0M361.69 249.9a1.75 1.75 0 1 0 3.5 0a1.75 1.75 0 1 0 -3.5 0M371.85 254.5a1.75 1.75 0 1 0 3.5 0a1.75 1.75 0 1 0 -3.5 0M379.25 255.5a1.75 1.75 0 1 0 3.5 0a1.75 1.75 0 1 0 -3.5 0M386.64 253.6a1.75 1.75 0 1 0 3.5 0a1.75 1.75 0 1 0 -3.5 0M394.04 249.0a1.75 1.75 0 1 0 3.5 0a1.75 1.75 0 1 0 -3.5 0M401.43 246.2a1.75 1.75 0 1 0 3.5 0a1.75 1.75 0 1 0 -3.5 0M355.22 261.0a1.75 1.75 0 1 0 3.5 0a1.75 1.75 0 1 0 -3.5 0M364.46 262.8a1.75 1.75 0 1 0 3.5 0a1.75 1.75 0 1 0 -3.5 0M375.55 259.1a1.75 1.75 0 1 0 3.5 0a1.75 1.75 0 1 0 -3.5 0M382.02 262.8a1.75 1.75 0 1 0 3.5 0a1.75 1.75 0 1 0 -3.5 0M392.19 261.0a1.75 1.75 0 1 0 3.5 0a1.75 1.75 0 1 0 -3.5 0M361.69 272.1a1.75 1.75 0 1 0 3.5 0a1.75 1.75 0 1 0 -3.5 0M371.85 268.4a1.75 1.75 0 1 0 3.5 0a1.75 1.75 0 1 0 -3.5 0M377.40 270.2a1.75 1.75 0 1 0 3.5 0a1.75 1.75 0 1 0 -3.5 0M387.57 268.4a1.75 1.75 0 1 0 3.5 0a1.75 1.75 0 1 0 -3.5 0M395.88 270.2a1.75 1.75 0 1 0 3.5 0a1.75 1.75 0 1 0 -3.5 0M403.28 267.5a1.75 1.75 0 1 0 3.5 0a1.75 1.75 0 1 0 -3.5 0M360.76 281.3a1.75 1.75 0 1 0 3.5 0a1.75 1.75 0 1 0 -3.5 0M368.16 279.5a1.75 1.75 0 1 0 3.5 0a1.75 1.75 0 1 0 -3.5 0M376.48 277.6a1.75 1.75 0 1 0 3.5 0a1.75 1.75 0 1 0 -3.5 0M384.79 279.5a1.75 1.75 0 1 0 3.5 0a1.75 1.75 0 1 0 -3.5 0M392.19 286.9a1.75 1.75 0 1 0 3.5 0a1.75 1.75 0 1 0 -3.5 0M401.43 281.3a1.75 1.75 0 1 0 3.5 0a1.75 1.75 0 1 0 -3.5 0M355.22 286.9a1.75 1.75 0 1 0 3.5 0a1.75 1.75 0 1 0 -3.5 0M366.31 286.9a1.75 1.75 0 1 0 3.5 0a1.75 1.75 0 1 0 -3.5 0M381.10 286.9a1.75 1.75 0 1 0 3.5 0a1.75 1.75 0 1 0 -3.5 0M333.05 302.0a1.75 1.75 0 1 0 3.5 0a1.75 1.75 0 1 0 -3.5 0M338.25 308.1a1.75 1.75 0 1 0 3.5 0a1.75 1.75 0 1 0 -3.5 0M327.45 322.0a1.75 1.75 0 1 0 3.5 0a1.75 1.75 0 1 0 -3.5 0M345.98 288.7a1.75 1.75 0 1 0 3.5 0a1.75 1.75 0 1 0 -3.5 0M350.60 292.4a1.75 1.75 0 1 0 3.5 0a1.75 1.75 0 1 0 -3.5 0M355.22 290.5a1.75 1.75 0 1 0 3.5 0a1.75 1.75 0 1 0 -3.5 0M345.05 296.1a1.75 1.75 0 1 0 3.5 0a1.75 1.75 0 1 0 -3.5 0M347.82 305.3a1.75 1.75 0 1 0 3.5 0a1.75 1.75 0 1 0 -3.5 0M346.90 310.0a1.75 1.75 0 1 0 3.5 0a1.75 1.75 0 1 0 -3.5 0M350.60 315.5a1.75 1.75 0 1 0 3.5 0a1.75 1.75 0 1 0 -3.5 0M358.92 315.5a1.75 1.75 0 1 0 3.5 0a1.75 1.75 0 1 0 -3.5 0M364.46 316.4a1.75 1.75 0 1 0 3.5 0a1.75 1.75 0 1 0 -3.5 0M367.23 314.6a1.75 1.75 0 1 0 3.5 0a1.75 1.75 0 1 0 -3.5 0M362.61 321.0a1.75 1.75 0 1 0 3.5 0a1.75 1.75 0 1 0 -3.5 0M357.99 323.8a1.75 1.75 0 1 0 3.5 0a1.75 1.75 0 1 0 -3.5 0M366.31 323.8a1.75 1.75 0 1 0 3.5 0a1.75 1.75 0 1 0 -3.5 0M371.85 322.0a1.75 1.75 0 1 0 3.5 0a1.75 1.75 0 1 0 -3.5 0M377.40 319.2a1.75 1.75 0 1 0 3.5 0a1.75 1.75 0 1 0 -3.5 0M382.95 314.6a1.75 1.75 0 1 0 3.5 0a1.75 1.75 0 1 0 -3.5 0M386.64 312.7a1.75 1.75 0 1 0 3.5 0a1.75 1.75 0 1 0 -3.5 0M381.10 308.1a1.75 1.75 0 1 0 3.5 0a1.75 1.75 0 1 0 -3.5 0M389.41 307.2a1.75 1.75 0 1 0 3.5 0a1.75 1.75 0 1 0 -3.5 0M394.96 305.3a1.75 1.75 0 1 0 3.5 0a1.75 1.75 0 1 0 -3.5 0M399.58 307.2a1.75 1.75 0 1 0 3.5 0a1.75 1.75 0 1 0 -3.5 0M403.28 314.6a1.75 1.75 0 1 0 3.5 0a1.75 1.75 0 1 0 -3.5 0M347.82 327.5a1.75 1.75 0 1 0 3.5 0a1.75 1.75 0 1 0 -3.5 0M353.37 330.3a1.75 1.75 0 1 0 3.5 0a1.75 1.75 0 1 0 -3.5 0M360.76 329.4a1.75 1.75 0 1 0 3.5 0a1.75 1.75 0 1 0 -3.5 0M366.31 334.9a1.75 1.75 0 1 0 3.5 0a1.75 1.75 0 1 0 -3.5 0M373.70 331.2a1.75 1.75 0 1 0 3.5 0a1.75 1.75 0 1 0 -3.5 0M379.25 329.4a1.75 1.75 0 1 0 3.5 0a1.75 1.75 0 1 0 -3.5 0M384.79 332.1a1.75 1.75 0 1 0 3.5 0a1.75 1.75 0 1 0 -3.5 0M352.45 336.8a1.75 1.75 0 1 0 3.5 0a1.75 1.75 0 1 0 -3.5 0M357.07 340.5a1.75 1.75 0 1 0 3.5 0a1.75 1.75 0 1 0 -3.5 0M362.61 338.6a1.75 1.75 0 1 0 3.5 0a1.75 1.75 0 1 0 -3.5 0M370.01 340.5a1.75 1.75 0 1 0 3.5 0a1.75 1.75 0 1 0 -3.5 0M377.40 336.8a1.75 1.75 0 1 0 3.5 0a1.75 1.75 0 1 0 -3.5 0M382.95 337.7a1.75 1.75 0 1 0 3.5 0a1.75 1.75 0 1 0 -3.5 0M353.37 346.0a1.75 1.75 0 1 0 3.5 0a1.75 1.75 0 1 0 -3.5 0M358.92 344.1a1.75 1.75 0 1 0 3.5 0a1.75 1.75 0 1 0 -3.5 0M366.31 347.8a1.75 1.75 0 1 0 3.5 0a1.75 1.75 0 1 0 -3.5 0M371.85 346.0a1.75 1.75 0 1 0 3.5 0a1.75 1.75 0 1 0 -3.5 0M381.10 346.9a1.75 1.75 0 1 0 3.5 0a1.75 1.75 0 1 0 -3.5 0M388.49 344.1a1.75 1.75 0 1 0 3.5 0a1.75 1.75 0 1 0 -3.5 0M349.67 351.5a1.75 1.75 0 1 0 3.5 0a1.75 1.75 0 1 0 -3.5 0M357.07 353.4a1.75 1.75 0 1 0 3.5 0a1.75 1.75 0 1 0 -3.5 0M364.46 353.4a1.75 1.75 0 1 0 3.5 0a1.75 1.75 0 1 0 -3.5 0M371.85 351.5a1.75 1.75 0 1 0 3.5 0a1.75 1.75 0 1 0 -3.5 0M392.19 358.0a1.75 1.75 0 1 0 3.5 0a1.75 1.75 0 1 0 -3.5 0M347.82 358.9a1.75 1.75 0 1 0 3.5 0a1.75 1.75 0 1 0 -3.5 0M355.22 358.9a1.75 1.75 0 1 0 3.5 0a1.75 1.75 0 1 0 -3.5 0M362.61 360.8a1.75 1.75 0 1 0 3.5 0a1.75 1.75 0 1 0 -3.5 0M368.16 358.9a1.75 1.75 0 1 0 3.5 0a1.75 1.75 0 1 0 -3.5 0M344.13 368.2a1.75 1.75 0 1 0 3.5 0a1.75 1.75 0 1 0 -3.5 0M351.52 367.3a1.75 1.75 0 1 0 3.5 0a1.75 1.75 0 1 0 -3.5 0M358.92 368.2a1.75 1.75 0 1 0 3.5 0a1.75 1.75 0 1 0 -3.5 0M368.16 368.2a1.75 1.75 0 1 0 3.5 0a1.75 1.75 0 1 0 -3.5 0M384.79 371.0a1.75 1.75 0 1 0 3.5 0a1.75 1.75 0 1 0 -3.5 0M373.70 297.0a1.75 1.75 0 1 0 3.5 0a1.75 1.75 0 1 0 -3.5 0M366.31 294.2a1.75 1.75 0 1 0 3.5 0a1.75 1.75 0 1 0 -3.5 0M377.40 298.9a1.75 1.75 0 1 0 3.5 0a1.75 1.75 0 1 0 -3.5 0M399.58 288.7a1.75 1.75 0 1 0 3.5 0a1.75 1.75 0 1 0 -3.5 0M388.49 292.4a1.75 1.75 0 1 0 3.5 0a1.75 1.75 0 1 0 -3.5 0M347.95 375.0a1.75 1.75 0 1 0 3.5 0a1.75 1.75 0 1 0 -3.5 0M351.55 376.7a1.75 1.75 0 1 0 3.5 0a1.75 1.75 0 1 0 -3.5 0M354.05 368.3a1.75 1.75 0 1 0 3.5 0a1.75 1.75 0 1 0 -3.5 0M354.95 372.5a1.75 1.75 0 1 0 3.5 0a1.75 1.75 0 1 0 -3.5 0M362.45 370.8a1.75 1.75 0 1 0 3.5 0a1.75 1.75 0 1 0 -3.5 0M367.45 372.5a1.75 1.75 0 1 0 3.5 0a1.75 1.75 0 1 0 -3.5 0M345.75 380.8a1.75 1.75 0 1 0 3.5 0a1.75 1.75 0 1 0 -3.5 0M344.05 394.2a1.75 1.75 0 1 0 3.5 0a1.75 1.75 0 1 0 -3.5 0M351.55 390.8a1.75 1.75 0 1 0 3.5 0a1.75 1.75 0 1 0 -3.5 0M354.05 399.2a1.75 1.75 0 1 0 3.5 0a1.75 1.75 0 1 0 -3.5 0M352.05 407.0a1.75 1.75 0 1 0 3.5 0a1.75 1.75 0 1 0 -3.5 0M356.55 409.2a1.75 1.75 0 1 0 3.5 0a1.75 1.75 0 1 0 -3.5 0M355.25 411.7a1.75 1.75 0 1 0 3.5 0a1.75 1.75 0 1 0 -3.5 0M354.05 416.7a1.75 1.75 0 1 0 3.5 0a1.75 1.75 0 1 0 -3.5 0M361.55 417.5a1.75 1.75 0 1 0 3.5 0a1.75 1.75 0 1 0 -3.5 0M344.05 409.7a1.75 1.75 0 1 0 3.5 0a1.75 1.75 0 1 0 -3.5 0M366.95 423.3a1.75 1.75 0 1 0 3.5 0a1.75 1.75 0 1 0 -3.5 0M399.45 390.8a1.75 1.75 0 1 0 3.5 0a1.75 1.75 0 1 0 -3.5 0M410.26 277.0a1.75 1.75 0 1 0 3.5 0a1.75 1.75 0 1 0 -3.5 0M417.66 258.5a1.75 1.75 0 1 0 3.5 0a1.75 1.75 0 1 0 -3.5 0M422.28 265.0a1.75 1.75 0 1 0 3.5 0a1.75 1.75 0 1 0 -3.5 0M429.67 264.0a1.75 1.75 0 1 0 3.5 0a1.75 1.75 0 1 0 -3.5 0M435.22 265.0a1.75 1.75 0 1 0 3.5 0a1.75 1.75 0 1 0 -3.5 0M422.28 284.4a1.75 1.75 0 1 0 3.5 0a1.75 1.75 0 1 0 -3.5 0M432.45 285.3a1.75 1.75 0 1 0 3.5 0a1.75 1.75 0 1 0 -3.5 0M409.34 287.1a1.75 1.75 0 1 0 3.5 0a1.75 1.75 0 1 0 -3.5 0M401.95 289.0a1.75 1.75 0 1 0 3.5 0a1.75 1.75 0 1 0 -3.5 0M407.49 301.9a1.75 1.75 0 1 0 3.5 0a1.75 1.75 0 1 0 -3.5 0M417.66 302.8a1.75 1.75 0 1 0 3.5 0a1.75 1.75 0 1 0 -3.5 0M425.05 301.0a1.75 1.75 0 1 0 3.5 0a1.75 1.75 0 1 0 -3.5 0M433.37 303.8a1.75 1.75 0 1 0 3.5 0a1.75 1.75 0 1 0 -3.5 0M444.46 306.5a1.75 1.75 0 1 0 3.5 0a1.75 1.75 0 1 0 -3.5 0M447.23 295.5a1.75 1.75 0 1 0 3.5 0a1.75 1.75 0 1 0 -3.5 0M456.48 293.6a1.75 1.75 0 1 0 3.5 0a1.75 1.75 0 1 0 -3.5 0M462.95 258.5a1.75 1.75 0 1 0 3.5 0a1.75 1.75 0 1 0 -3.5 0M473.11 276.0a1.75 1.75 0 1 0 3.5 0a1.75 1.75 0 1 0 -3.5 0M476.81 267.7a1.75 1.75 0 1 0 3.5 0a1.75 1.75 0 1 0 -3.5 0M455.55 270.5a1.75 1.75 0 1 0 3.5 0a1.75 1.75 0 1 0 -3.5 0M442.61 251.1a1.75 1.75 0 1 0 3.5 0a1.75 1.75 0 1 0 -3.5 0M450.01 245.5a1.75 1.75 0 1 0 3.5 0a1.75 1.75 0 1 0 -3.5 0M459.25 249.2a1.75 1.75 0 1 0 3.5 0a1.75 1.75 0 1 0 -3.5 0M468.49 245.5a1.75 1.75 0 1 0 3.5 0a1.75 1.75 0 1 0 -3.5 0M406.57 325.0a1.75 1.75 0 1 0 3.5 0a1.75 1.75 0 1 0 -3.5 0M475.88 327.8a1.75 1.75 0 1 0 3.5 0a1.75 1.75 0 1 0 -3.5 0M429.67 243.7a1.75 1.75 0 1 0 3.5 0a1.75 1.75 0 1 0 -3.5 0M416.73 248.3a1.75 1.75 0 1 0 3.5 0a1.75 1.75 0 1 0 -3.5 0M418.15 340.4a1.75 1.75 0 1 0 3.5 0a1.75 1.75 0 1 0 -3.5 0M438.55 408.8a1.75 1.75 0 1 0 3.5 0a1.75 1.75 0 1 0 -3.5 0M385.47 185.6a1.75 1.75 0 1 0 3.5 0a1.75 1.75 0 1 0 -3.5 0M390.29 207.1a1.75 1.75 0 1 0 3.5 0a1.75 1.75 0 1 0 -3.5 0M388.36 194.9a1.75 1.75 0 1 0 3.5 0a1.75 1.75 0 1 0 -3.5 0M375.01 202.1a1.75 1.75 0 1 0 3.5 0a1.75 1.75 0 1 0 -3.5 0M383.53 195.2a1.75 1.75 0 1 0 3.5 0a1.75 1.75 0 1 0 -3.5 0M395.58 186.5a1.75 1.75 0 1 0 3.5 0a1.75 1.75 0 1 0 -3.5 0M367.59 250.8a1.75 1.75 0 1 0 3.5 0a1.75 1.75 0 1 0 -3.5 0M377.22 217.9a1.75 1.75 0 1 0 3.5 0a1.75 1.75 0 1 0 -3.5 0M396.95 216.3a1.75 1.75 0 1 0 3.5 0a1.75 1.75 0 1 0 -3.5 0M358.83 241.0a1.75 1.75 0 1 0 3.5 0a1.75 1.75 0 1 0 -3.5 0M378.27 223.7a1.75 1.75 0 1 0 3.5 0a1.75 1.75 0 1 0 -3.5 0M381.06 229.7a1.75 1.75 0 1 0 3.5 0a1.75 1.75 0 1 0 -3.5 0M398.71 253.7a1.75 1.75 0 1 0 3.5 0a1.75 1.75 0 1 0 -3.5 0M373.19 245.0a1.75 1.75 0 1 0 3.5 0a1.75 1.75 0 1 0 -3.5 0M372.95 259.6a1.75 1.75 0 1 0 3.5 0a1.75 1.75 0 1 0 -3.5 0M364.82 216.0a1.75 1.75 0 1 0 3.5 0a1.75 1.75 0 1 0 -3.5 0M362.17 233.2a1.75 1.75 0 1 0 3.5 0a1.75 1.75 0 1 0 -3.5 0M371.43 248.7a1.75 1.75 0 1 0 3.5 0a1.75 1.75 0 1 0 -3.5 0M395.06 249.8a1.75 1.75 0 1 0 3.5 0a1.75 1.75 0 1 0 -3.5 0M356.50 243.1a1.75 1.75 0 1 0 3.5 0a1.75 1.75 0 1 0 -3.5 0M390.61 257.1a1.75 1.75 0 1 0 3.5 0a1.75 1.75 0 1 0 -3.5 0M370.28 222.8a1.75 1.75 0 1 0 3.5 0a1.75 1.75 0 1 0 -3.5 0M381.93 271.2a1.75 1.75 0 1 0 3.5 0a1.75 1.75 0 1 0 -3.5 0M387.93 279.5a1.75 1.75 0 1 0 3.5 0a1.75 1.75 0 1 0 -3.5 0M403.18 281.3a1.75 1.75 0 1 0 3.5 0a1.75 1.75 0 1 0 -3.5 0M355.08 277.8a1.75 1.75 0 1 0 3.5 0a1.75 1.75 0 1 0 -3.5 0M398.02 282.2a1.75 1.75 0 1 0 3.5 0a1.75 1.75 0 1 0 -3.5 0M401.72 254.7a1.75 1.75 0 1 0 3.5 0a1.75 1.75 0 1 0 -3.5 0M391.39 253.9a1.75 1.75 0 1 0 3.5 0a1.75 1.75 0 1 0 -3.5 0M393.04 285.5a1.75 1.75 0 1 0 3.5 0a1.75 1.75 0 1 0 -3.5 0M364.76 276.7a1.75 1.75 0 1 0 3.5 0a1.75 1.75 0 1 0 -3.5 0M398.17 252.8a1.75 1.75 0 1 0 3.5 0a1.75 1.75 0 1 0 -3.5 0M372.62 276.6a1.75 1.75 0 1 0 3.5 0a1.75 1.75 0 1 0 -3.5 0M388.54 289.0a1.75 1.75 0 1 0 3.5 0a1.75 1.75 0 1 0 -3.5 0M402.30 276.0a1.75 1.75 0 1 0 3.5 0a1.75 1.75 0 1 0 -3.5 0M388.23 262.1a1.75 1.75 0 1 0 3.5 0a1.75 1.75 0 1 0 -3.5 0M365.41 285.7a1.75 1.75 0 1 0 3.5 0a1.75 1.75 0 1 0 -3.5 0M372.85 267.1a1.75 1.75 0 1 0 3.5 0a1.75 1.75 0 1 0 -3.5 0M399.46 271.2a1.75 1.75 0 1 0 3.5 0a1.75 1.75 0 1 0 -3.5 0M383.14 284.9a1.75 1.75 0 1 0 3.5 0a1.75 1.75 0 1 0 -3.5 0M386.30 250.2a1.75 1.75 0 1 0 3.5 0a1.75 1.75 0 1 0 -3.5 0M390.56 268.0a1.75 1.75 0 1 0 3.5 0a1.75 1.75 0 1 0 -3.5 0M351.32 324.3a1.75 1.75 0 1 0 3.5 0a1.75 1.75 0 1 0 -3.5 0M358.22 366.1a1.75 1.75 0 1 0 3.5 0a1.75 1.75 0 1 0 -3.5 0M374.28 301.6a1.75 1.75 0 1 0 3.5 0a1.75 1.75 0 1 0 -3.5 0M386.48 356.7a1.75 1.75 0 1 0 3.5 0a1.75 1.75 0 1 0 -3.5 0M358.04 364.0a1.75 1.75 0 1 0 3.5 0a1.75 1.75 0 1 0 -3.5 0M379.97 343.9a1.75 1.75 0 1 0 3.5 0a1.75 1.75 0 1 0 -3.5 0M372.66 329.9a1.75 1.75 0 1 0 3.5 0a1.75 1.75 0 1 0 -3.5 0M364.57 340.3a1.75 1.75 0 1 0 3.5 0a1.75 1.75 0 1 0 -3.5 0M388.69 364.9a1.75 1.75 0 1 0 3.5 0a1.75 1.75 0 1 0 -3.5 0M379.26 327.4a1.75 1.75 0 1 0 3.5 0a1.75 1.75 0 1 0 -3.5 0M376.07 306.0a1.75 1.75 0 1 0 3.5 0a1.75 1.75 0 1 0 -3.5 0M366.31 305.9a1.75 1.75 0 1 0 3.5 0a1.75 1.75 0 1 0 -3.5 0M387.76 341.4a1.75 1.75 0 1 0 3.5 0a1.75 1.75 0 1 0 -3.5 0M358.43 331.0a1.75 1.75 0 1 0 3.5 0a1.75 1.75 0 1 0 -3.5 0M373.14 362.2a1.75 1.75 0 1 0 3.5 0a1.75 1.75 0 1 0 -3.5 0M372.68 304.6a1.75 1.75 0 1 0 3.5 0a1.75 1.75 0 1 0 -3.5 0M368.68 364.8a1.75 1.75 0 1 0 3.5 0a1.75 1.75 0 1 0 -3.5 0M368.15 345.8a1.75 1.75 0 1 0 3.5 0a1.75 1.75 0 1 0 -3.5 0M366.04 384.0a1.75 1.75 0 1 0 3.5 0a1.75 1.75 0 1 0 -3.5 0M368.73 384.8a1.75 1.75 0 1 0 3.5 0a1.75 1.75 0 1 0 -3.5 0M356.73 388.8a1.75 1.75 0 1 0 3.5 0a1.75 1.75 0 1 0 -3.5 0M360.49 374.7a1.75 1.75 0 1 0 3.5 0a1.75 1.75 0 1 0 -3.5 0M369.90 392.2a1.75 1.75 0 1 0 3.5 0a1.75 1.75 0 1 0 -3.5 0M368.81 379.0a1.75 1.75 0 1 0 3.5 0a1.75 1.75 0 1 0 -3.5 0M367.67 382.4a1.75 1.75 0 1 0 3.5 0a1.75 1.75 0 1 0 -3.5 0M353.98 380.5a1.75 1.75 0 1 0 3.5 0a1.75 1.75 0 1 0 -3.5 0M363.94 398.7a1.75 1.75 0 1 0 3.5 0a1.75 1.75 0 1 0 -3.5 0M363.57 388.1a1.75 1.75 0 1 0 3.5 0a1.75 1.75 0 1 0 -3.5 0" fill="#fff" stroke="#1e1e9e" stroke-width="1.15"/></g><g stroke="#000" stroke-width="2.3" fill="none" stroke-dasharray="8.6 6.04"><path d="M80.09 30.00V441.40"/><path d="M354.39 30.00V441.40"/></g><g stroke="#000" stroke-width="2.5" fill="none" stroke-dasharray="9.3 7.24"><path d="M217.25 30.00L45.80 441.40"/><path d="M491.55 30.00L320.10 441.40"/></g><g stroke="#3a3a9e" stroke-width="1.6" fill="none"><rect x="45.80" y="30.00" width="548.62" height="411.40"/><path d="M320.10 30.00V441.40"/></g><path d="M52.66 441.40v-3.5M52.66 30.00v3.5M59.52 441.40v-3.5M59.52 30.00v3.5M66.37 441.40v-3.5M66.37 30.00v3.5M73.23 441.40v-3.5M73.23 30.00v3.5M80.09 441.40v-6.5M80.09 30.00v6.5M86.95 441.40v-3.5M86.95 30.00v3.5M93.81 441.40v-3.5M93.81 30.00v3.5M100.66 441.40v-3.5M100.66 30.00v3.5M107.52 441.40v-3.5M107.52 30.00v3.5M114.38 441.40v-6.5M114.38 30.00v6.5M121.24 441.40v-3.5M121.24 30.00v3.5M128.10 441.40v-3.5M128.10 30.00v3.5M134.95 441.40v-3.5M134.95 30.00v3.5M141.81 441.40v-3.5M141.81 30.00v3.5M148.67 441.40v-6.5M148.67 30.00v6.5M155.53 441.40v-3.5M155.53 30.00v3.5M162.39 441.40v-3.5M162.39 30.00v3.5M169.24 441.40v-3.5M169.24 30.00v3.5M176.10 441.40v-3.5M176.10 30.00v3.5M182.96 441.40v-6.5M182.96 30.00v6.5M189.82 441.40v-3.5M189.82 30.00v3.5M196.68 441.40v-3.5M196.68 30.00v3.5M203.53 441.40v-3.5M203.53 30.00v3.5M210.39 441.40v-3.5M210.39 30.00v3.5M217.25 441.40v-6.5M217.25 30.00v6.5M224.11 441.40v-3.5M224.11 30.00v3.5M230.97 441.40v-3.5M230.97 30.00v3.5M237.82 441.40v-3.5M237.82 30.00v3.5M244.68 441.40v-3.5M244.68 30.00v3.5M251.54 441.40v-6.5M251.54 30.00v6.5M258.40 441.40v-3.5M258.40 30.00v3.5M265.26 441.40v-3.5M265.26 30.00v3.5M272.11 441.40v-3.5M272.11 30.00v3.5M278.97 441.40v-3.5M278.97 30.00v3.5M285.83 441.40v-6.5M285.83 30.00v6.5M292.69 441.40v-3.5M292.69 30.00v3.5M299.55 441.40v-3.5M299.55 30.00v3.5M306.40 441.40v-3.5M306.40 30.00v3.5M313.26 441.40v-3.5M313.26 30.00v3.5M326.96 441.40v-3.5M326.96 30.00v3.5M333.82 441.40v-3.5M333.82 30.00v3.5M340.67 441.40v-3.5M340.67 30.00v3.5M347.53 441.40v-3.5M347.53 30.00v3.5M354.39 441.40v-6.5M354.39 30.00v6.5M361.25 441.40v-3.5M361.25 30.00v3.5M368.11 441.40v-3.5M368.11 30.00v3.5M374.96 441.40v-3.5M374.96 30.00v3.5M381.82 441.40v-3.5M381.82 30.00v3.5M388.68 441.40v-6.5M388.68 30.00v6.5M395.54 441.40v-3.5M395.54 30.00v3.5M402.40 441.40v-3.5M402.40 30.00v3.5M409.25 441.40v-3.5M409.25 30.00v3.5M416.11 441.40v-3.5M416.11 30.00v3.5M422.97 441.40v-6.5M422.97 30.00v6.5M429.83 441.40v-3.5M429.83 30.00v3.5M436.69 441.40v-3.5M436.69 30.00v3.5M443.54 441.40v-3.5M443.54 30.00v3.5M450.40 441.40v-3.5M450.40 30.00v3.5M457.26 441.40v-6.5M457.26 30.00v6.5M464.12 441.40v-3.5M464.12 30.00v3.5M470.98 441.40v-3.5M470.98 30.00v3.5M477.83 441.40v-3.5M477.83 30.00v3.5M484.69 441.40v-3.5M484.69 30.00v3.5M491.55 441.40v-6.5M491.55 30.00v6.5M498.41 441.40v-3.5M498.41 30.00v3.5M505.27 441.40v-3.5M505.27 30.00v3.5M512.12 441.40v-3.5M512.12 30.00v3.5M518.98 441.40v-3.5M518.98 30.00v3.5M525.84 441.40v-6.5M525.84 30.00v6.5M532.70 441.40v-3.5M532.70 30.00v3.5M539.56 441.40v-3.5M539.56 30.00v3.5M546.41 441.40v-3.5M546.41 30.00v3.5M553.27 441.40v-3.5M553.27 30.00v3.5M560.13 441.40v-6.5M560.13 30.00v6.5M566.99 441.40v-3.5M566.99 30.00v3.5M573.85 441.40v-3.5M573.85 30.00v3.5M580.70 441.40v-3.5M580.70 30.00v3.5M587.56 441.40v-3.5M587.56 30.00v3.5M45.80 424.94h3.5M594.42 424.94h-3.5M316.60 424.94h7.0M45.80 408.49h3.5M594.42 408.49h-3.5M316.60 408.49h7.0M45.80 392.03h3.5M594.42 392.03h-3.5M316.60 392.03h7.0M45.80 375.58h3.5M594.42 375.58h-3.5M316.60 375.58h7.0M45.80 359.12h6.5M594.42 359.12h-6.5M313.60 359.12h13.0M45.80 342.66h3.5M594.42 342.66h-3.5M316.60 342.66h7.0M45.80 326.21h3.5M594.42 326.21h-3.5M316.60 326.21h7.0M45.80 309.75h3.5M594.42 309.75h-3.5M316.60 309.75h7.0M45.80 293.30h3.5M594.42 293.30h-3.5M316.60 293.30h7.0M45.80 276.84h6.5M594.42 276.84h-6.5M313.60 276.84h13.0M45.80 260.38h3.5M594.42 260.38h-3.5M316.60 260.38h7.0M45.80 243.93h3.5M594.42 243.93h-3.5M316.60 243.93h7.0M45.80 227.47h3.5M594.42 227.47h-3.5M316.60 227.47h7.0M45.80 211.02h3.5M594.42 211.02h-3.5M316.60 211.02h7.0M45.80 194.56h6.5M594.42 194.56h-6.5M313.60 194.56h13.0M45.80 178.10h3.5M594.42 178.10h-3.5M316.60 178.10h7.0M45.80 161.65h3.5M594.42 161.65h-3.5M316.60 161.65h7.0M45.80 145.19h3.5M594.42 145.19h-3.5M316.60 145.19h7.0M45.80 128.74h3.5M594.42 128.74h-3.5M316.60 128.74h7.0M45.80 112.28h6.5M594.42 112.28h-6.5M313.60 112.28h13.0M45.80 95.82h3.5M594.42 95.82h-3.5M316.60 95.82h7.0M45.80 79.37h3.5M594.42 79.37h-3.5M316.60 79.37h7.0M45.80 62.91h3.5M594.42 62.91h-3.5M316.60 62.91h7.0M45.80 46.46h3.5M594.42 46.46h-3.5M316.60 46.46h7.0" stroke="#3a3a9e" stroke-width="1.4" fill="none"/><g font-family="Liberation Sans, sans-serif" fill="#000"><text transform="translate(40.8,444.8) scale(1.13,1)" font-size="13" text-anchor="end">0</text><text transform="translate(40.8,362.5) scale(1.13,1)" font-size="13" text-anchor="end">1</text><text transform="translate(40.8,280.2) scale(1.13,1)" font-size="13" text-anchor="end">2</text><text transform="translate(40.8,198.0) scale(1.13,1)" font-size="13" text-anchor="end">3</text><text transform="translate(40.8,115.7) scale(1.13,1)" font-size="13" text-anchor="end">4</text><text transform="translate(40.8,33.4) scale(1.13,1)" font-size="13" text-anchor="end">5</text><text transform="translate(45.5,456) scale(1.13,1)" font-size="13" text-anchor="middle">0</text><text transform="translate(114.1,456) scale(1.13,1)" font-size="13" text-anchor="middle">2</text><text transform="translate(182.7,456) scale(1.13,1)" font-size="13" text-anchor="middle">4</text><text transform="translate(251.2,456) scale(1.13,1)" font-size="13" text-anchor="middle">6</text><text transform="translate(319.8,456) scale(1.13,1)" font-size="13" text-anchor="middle">0</text><text transform="translate(388.4,456) scale(1.13,1)" font-size="13" text-anchor="middle">2</text><text transform="translate(457.0,456) scale(1.13,1)" font-size="13" text-anchor="middle">4</text><text transform="translate(525.5,456) scale(1.13,1)" font-size="13" text-anchor="middle">6</text><text transform="translate(594.1,456) scale(1.13,1)" font-size="13" text-anchor="middle">8</text><text x="192" y="15.4" font-size="18" letter-spacing="0.17">Wind/MFI: MC no. 6 at ν<tspan font-size="14.5" dy="8.3">0</tspan><tspan dy="-8.3">= 1 Hz</tspan></text><text transform="translate(222.2,422.3) scale(1.14,1)" font-size="15" >Inside</text><text transform="translate(275.2,422.3) scale(1.17,1)" font-size="15" >MC</text><text transform="translate(484.7,422.3) scale(1.14,1)" font-size="15" >Outside</text><text transform="translate(551.5,422.3) scale(1.17,1)" font-size="15" >MC</text><text transform="translate(371.3,50.5) scale(1.16,1)" font-size="15" >Sampled interval:</text><text transform="translate(372.3,67.6) scale(1.135,1)" font-size="15" >1995 Oct 18 00- 20 12 (UT)</text><text transform="translate(287.7,478.7) scale(1.0,1)" font-size="16" >P</text><text transform="translate(298.8,487.9) scale(0.96,1)" font-size="12" >0YY</text><text transform="translate(318.6,480.5) scale(1.0,1)" font-size="18.5" >/</text><text transform="translate(325.1,478.7) scale(1.0,1)" font-size="16" >P</text><text transform="translate(336.8,487.9) scale(0.98,1)" font-size="12" >0XX</text><text transform="translate(9.7,231.5) rotate(-90)" font-size="16.8" text-anchor="middle">q</text></g><circle cx="263" cy="54.6" r="2.1" fill="#fff" stroke="#1e1e9e" stroke-width="1.2"/><circle cx="263" cy="81.2" r="2.3" fill="#d40000"/><g font-family="Liberation Sans, sans-serif"><text transform="translate(282.0,59.9) scale(1.18,1)" font-size="18" fill="#1e1e9e">q</text><text transform="translate(293.3,68.4) scale(1.1,1)" font-size="11.5" fill="#1e1e9e">X</text><text transform="translate(282.0,86.4) scale(1.18,1)" font-size="18" fill="#d40000">q</text><text transform="translate(293.3,94.6) scale(1.1,1)" font-size="11.5" fill="#d40000">Y</text></g></svg></body></html>
